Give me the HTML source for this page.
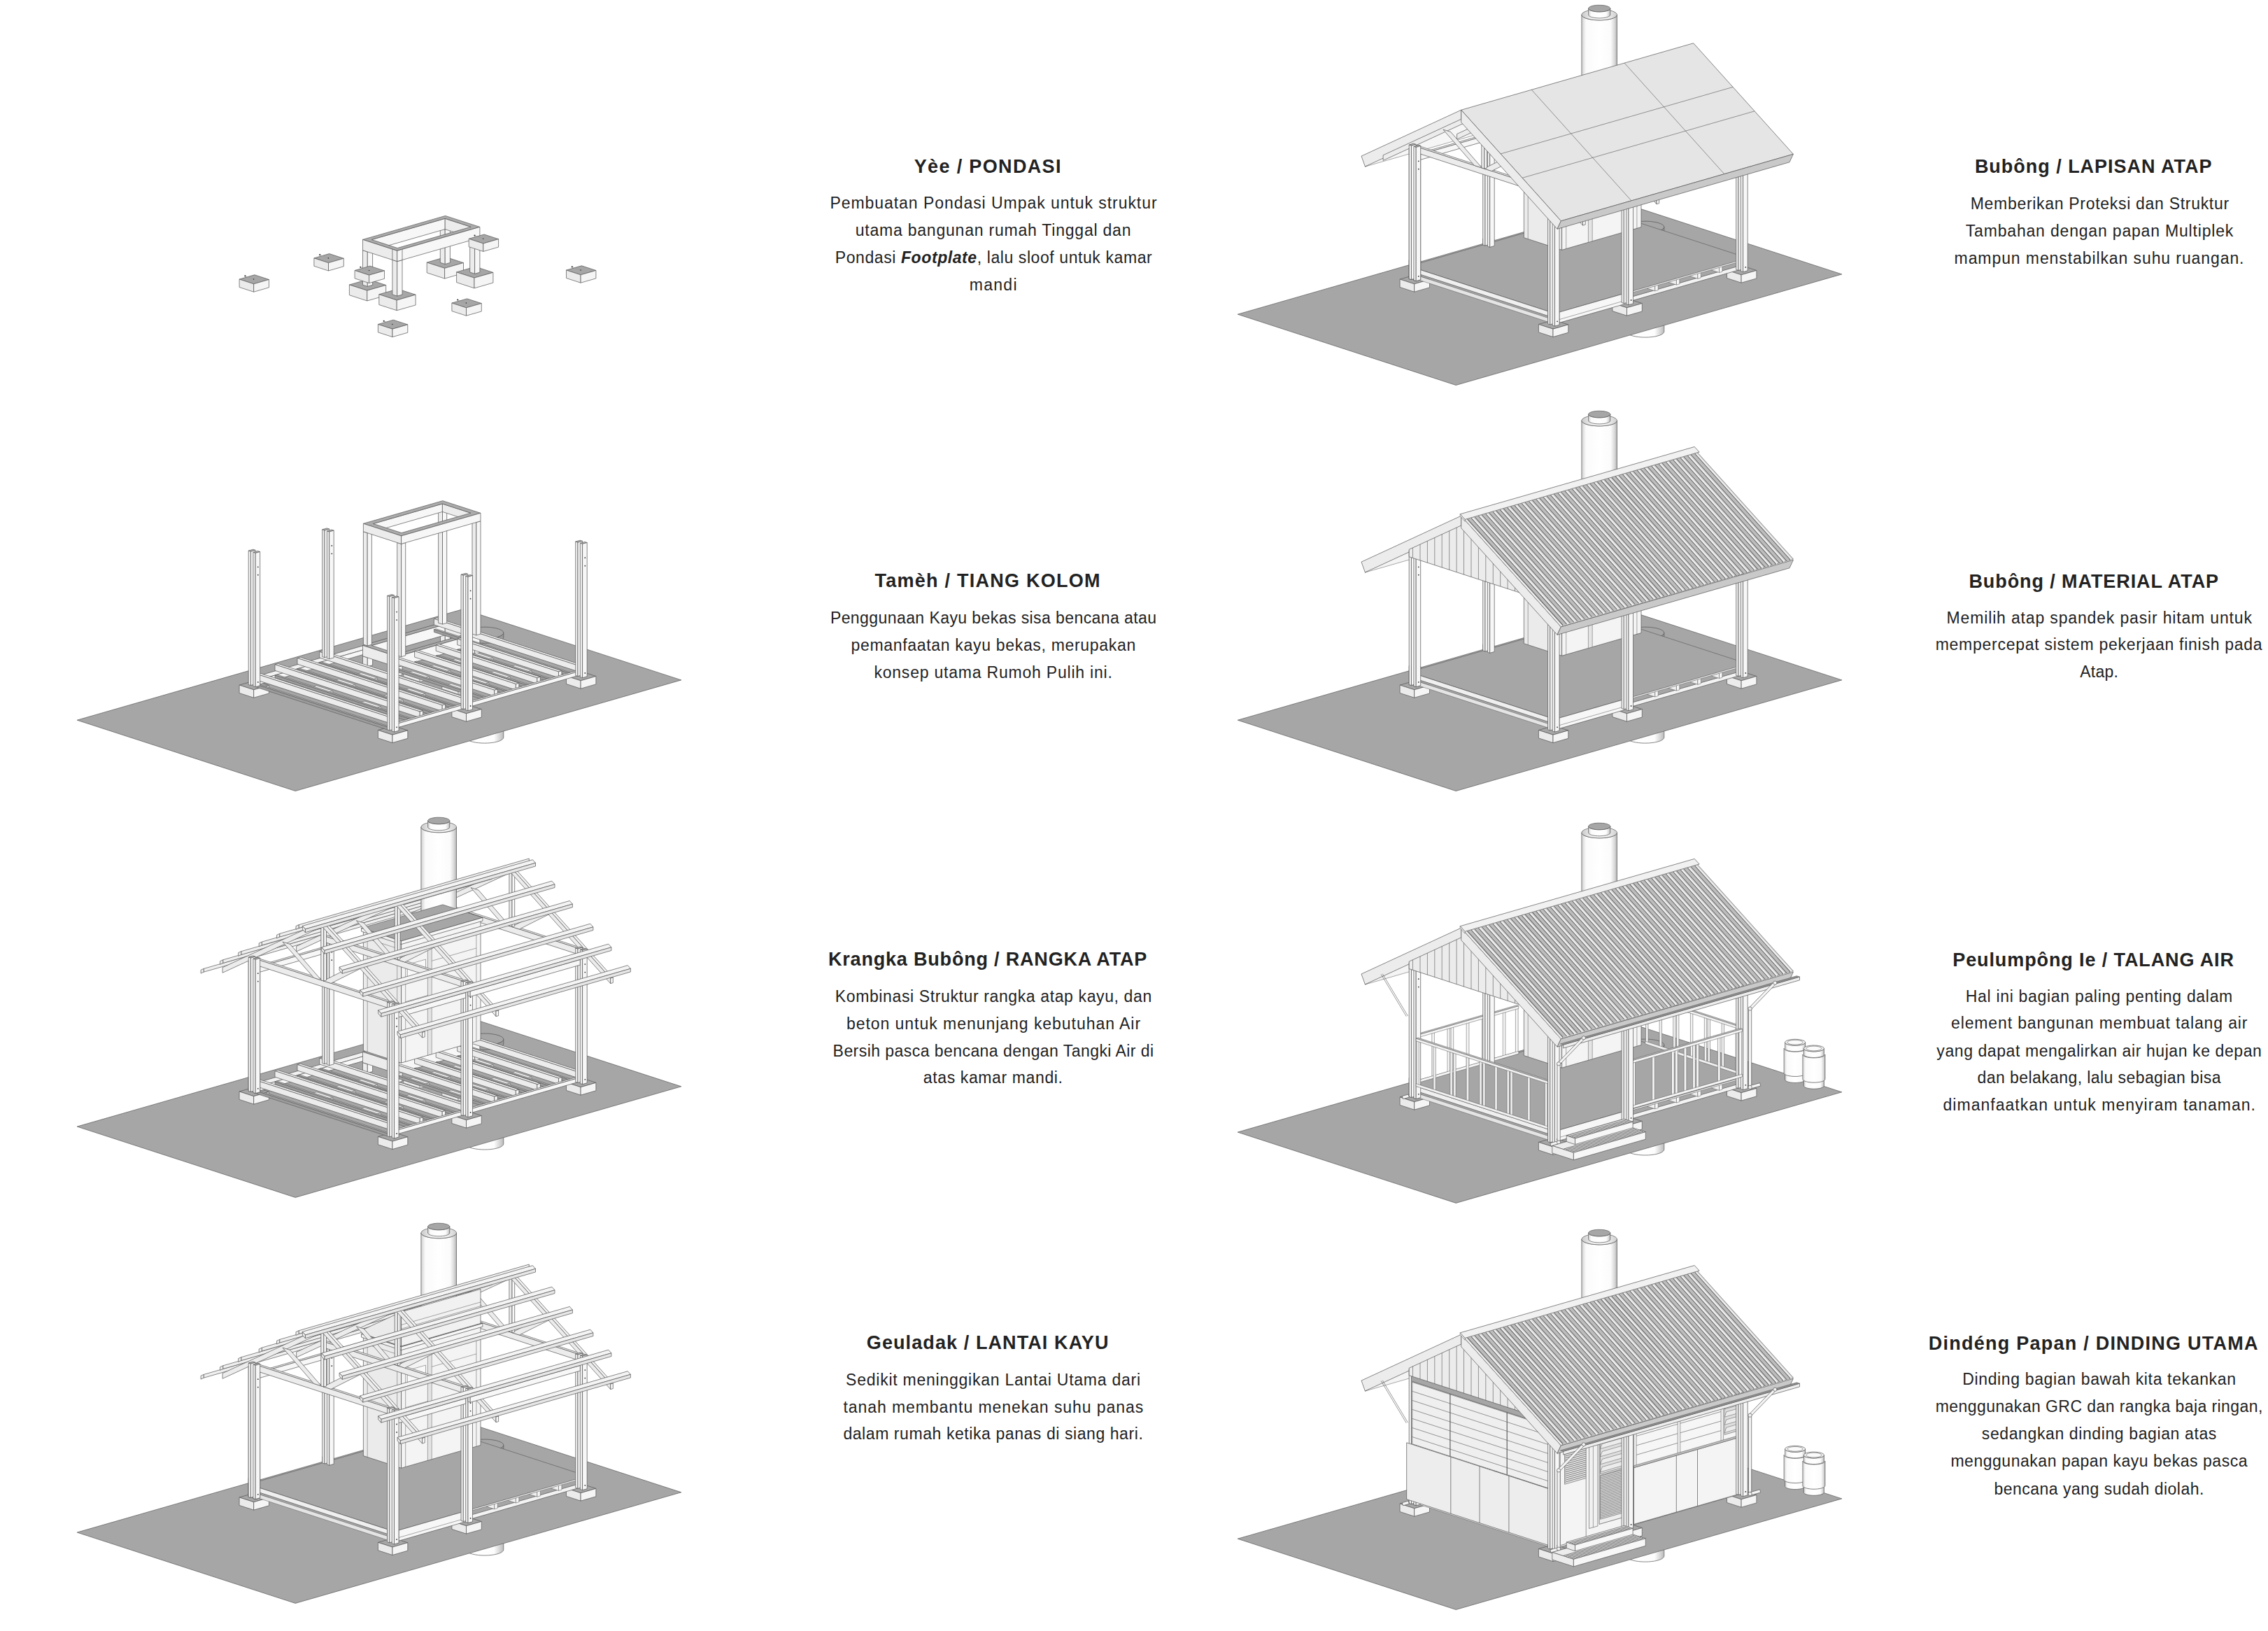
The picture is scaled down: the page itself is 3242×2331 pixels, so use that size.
<!DOCTYPE html><html><head><meta charset="utf-8"><title>Rumoh Pulih</title><style>html,body{margin:0;padding:0;background:#fff}
body{width:3242px;height:2331px;position:relative;overflow:hidden;font-family:"Liberation Sans",sans-serif;color:#222}
span{position:absolute;white-space:nowrap;line-height:1;}
.t{font-size:27px;font-weight:bold}
.b{font-size:23px}</style></head><body><svg width="3242" height="2331" viewBox="0 0 3242 2331" style="position:absolute;left:0;top:0" stroke="#555" stroke-width="0.7" stroke-linejoin="round" fill="none"><defs>
<linearGradient id="cylg" x1="0" x2="1" y1="0" y2="0"><stop offset="0" stop-color="#fff"/><stop offset="0.75" stop-color="#fdfdfd"/><stop offset="1" stop-color="#bbb"/></linearGradient>
<linearGradient id="cylgd" x1="0" x2="1" y1="0" y2="0"><stop offset="0" stop-color="#aaa"/><stop offset="1" stop-color="#999"/></linearGradient>
<linearGradient id="tanktop" x1="0" x2="1" y1="0" y2="0"><stop offset="0" stop-color="#c8c8c8"/><stop offset="0.3" stop-color="#f4f4f4"/><stop offset="0.7" stop-color="#f4f4f4"/><stop offset="1" stop-color="#cfcfcf"/></linearGradient>
<linearGradient id="tank" x1="0" x2="1" y1="0" y2="0"><stop offset="0" stop-color="#cfcfcf"/><stop offset="0.12" stop-color="#fafafa"/><stop offset="0.5" stop-color="#ffffff"/><stop offset="0.82" stop-color="#fbfbfb"/><stop offset="0.93" stop-color="#d9d9d9"/><stop offset="1" stop-color="#b0b0b0"/></linearGradient>
</defs><g id="st1"><polygon points="362.7,405.8 384.5,399.5 363.9,392.8 342.1,399.1" fill="#a6a6a6"/>
<polygon points="362.7,417.2 342.1,410.5 342.1,399.1 362.7,405.8" fill="#ebebeb"/>
<polygon points="362.7,417.2 384.5,410.9 384.5,399.5 362.7,405.8" fill="#f5f5f5"/>
<path d="M350.4 394.4L362.6 399.1" stroke="#999" stroke-width="0.6"/><circle cx="350.4" cy="394.4" r="1.1" fill="#333" stroke="none"/><circle cx="362.6" cy="399.1" r="0.8" fill="#333" stroke="none"/>
<polygon points="469.5,375.6 491.3,369.3 470.7,362.6 448.9,368.9" fill="#a6a6a6"/>
<polygon points="469.5,387 448.9,380.3 448.9,368.9 469.5,375.6" fill="#ebebeb"/>
<polygon points="469.5,387 491.3,380.7 491.3,369.3 469.5,375.6" fill="#f5f5f5"/>
<path d="M457.2 364.2L469.4 368.9" stroke="#999" stroke-width="0.6"/><circle cx="457.2" cy="364.2" r="1.1" fill="#333" stroke="none"/><circle cx="469.4" cy="368.9" r="0.8" fill="#333" stroke="none"/>
<polygon points="635.6,383.3 662.5,375.6 637.1,367.3 610.2,375.1" fill="#a6a6a6"/>
<polygon points="635.6,398.1 610.2,389.8 610.2,375.1 635.6,383.3" fill="#ebebeb"/>
<polygon points="635.6,398.1 662.5,390.3 662.5,375.6 635.6,383.3" fill="#f5f5f5"/>
<polygon points="636.2,377.5 629.3,375.3 629.3,325.8 636.2,328" fill="#ececec"/>
<polygon points="636.2,377.5 643.4,375.4 643.4,325.9 636.2,328" fill="#f7f7f7"/>
<polygon points="524.8,415.2 551.7,407.5 526.3,399.2 499.4,407" fill="#a6a6a6"/>
<polygon points="524.8,430 499.4,421.7 499.4,407 524.8,415.2" fill="#ebebeb"/>
<polygon points="524.8,430 551.7,422.2 551.7,407.5 524.8,415.2" fill="#f5f5f5"/>
<polygon points="525.3,409.4 518.5,407.2 518.5,357.7 525.3,359.9" fill="#ececec"/>
<polygon points="525.3,409.4 532.6,407.3 532.6,357.8 525.3,359.9" fill="#f7f7f7"/>
<polygon points="678,397.1 704.9,389.4 679.5,381.1 652.6,388.9" fill="#a6a6a6"/>
<polygon points="678,411.9 652.6,403.6 652.6,388.9 678,397.1" fill="#ebebeb"/>
<polygon points="678,411.9 704.9,404.1 704.9,389.4 678,397.1" fill="#f5f5f5"/>
<polygon points="678.6,391.3 671.7,389 671.7,339.5 678.6,341.8" fill="#ececec"/>
<polygon points="678.6,391.3 685.9,389.2 685.9,339.7 678.6,341.8" fill="#f7f7f7"/>
<polygon points="531.2,357.8 636.2,327.6 636.2,312.3 531.2,342.5" fill="#f7f7f7"/>
<polygon points="673.1,339.6 636.2,327.6 636.2,312.3 673.1,324.3" fill="#ececec"/>
<path d="M567.7 358.4L685.9 324.4L636.6 308.4L518.5 342.4ZM568.1 354.5L531.2 342.5L636.2 312.3L673.1 324.3Z" fill="#ababab" fill-rule="evenodd"/>
<polygon points="567.7,373.6 518.5,357.7 518.5,342.4 567.7,358.4" fill="#ececec"/>
<polygon points="567.7,373.6 685.9,339.7 685.9,324.4 567.7,358.4" fill="#f7f7f7"/>
<polygon points="690.8,348 712.6,341.7 692,335 670.2,341.3" fill="#a6a6a6"/>
<polygon points="690.8,359.4 670.2,352.7 670.2,341.3 690.8,348" fill="#ebebeb"/>
<polygon points="690.8,359.4 712.6,353.1 712.6,341.7 690.8,348" fill="#f5f5f5"/>
<path d="M678.5 336.6L690.7 341.3" stroke="#999" stroke-width="0.6"/><circle cx="678.5" cy="336.6" r="1.1" fill="#333" stroke="none"/><circle cx="690.7" cy="341.3" r="0.8" fill="#333" stroke="none"/>
<polygon points="527.6,393.2 549.5,386.9 528.9,380.2 507.1,386.5" fill="#a6a6a6"/>
<polygon points="527.6,404.6 507.1,397.9 507.1,386.5 527.6,393.2" fill="#ebebeb"/>
<polygon points="527.6,404.6 549.5,398.3 549.5,386.9 527.6,393.2" fill="#f5f5f5"/>
<path d="M515.3 381.8L527.6 386.5" stroke="#999" stroke-width="0.6"/><circle cx="515.3" cy="381.8" r="1.1" fill="#333" stroke="none"/><circle cx="527.6" cy="386.5" r="0.8" fill="#333" stroke="none"/>
<polygon points="567.2,429 594.1,421.2 568.7,413 541.8,420.7" fill="#a6a6a6"/>
<polygon points="567.2,443.7 541.8,435.5 541.8,420.7 567.2,429" fill="#ebebeb"/>
<polygon points="567.2,443.7 594.1,436 594.1,421.2 567.2,429" fill="#f5f5f5"/>
<polygon points="567.7,423.1 560.9,420.9 560.9,371.4 567.7,373.6" fill="#ececec"/>
<polygon points="567.7,423.1 575,421.1 575,371.6 567.7,373.6" fill="#f7f7f7"/>
<polygon points="567.7,373.6 560.9,371.4 560.9,356.2 567.7,358.4" fill="#ececec"/>
<polygon points="567.7,373.6 575,371.6 575,356.3 567.7,358.4" fill="#f7f7f7"/>
<polygon points="830.1,392.8 851.9,386.5 831.4,379.8 809.5,386.1" fill="#a6a6a6"/>
<polygon points="830.1,404.2 809.5,397.5 809.5,386.1 830.1,392.8" fill="#ebebeb"/>
<polygon points="830.1,404.2 851.9,397.9 851.9,386.5 830.1,392.8" fill="#f5f5f5"/>
<path d="M817.8 381.4L830.1 386.1" stroke="#999" stroke-width="0.6"/><circle cx="817.8" cy="381.4" r="1.1" fill="#333" stroke="none"/><circle cx="830.1" cy="386.1" r="0.8" fill="#333" stroke="none"/>
<polygon points="666.5,439.8 688.3,433.6 667.7,426.9 645.9,433.1" fill="#a6a6a6"/>
<polygon points="666.5,451.2 645.9,444.6 645.9,433.1 666.5,439.8" fill="#ebebeb"/>
<polygon points="666.5,451.2 688.3,445 688.3,433.6 666.5,439.8" fill="#f5f5f5"/>
<path d="M654.2 428.5L666.4 433.1" stroke="#999" stroke-width="0.6"/><circle cx="654.2" cy="428.5" r="1.1" fill="#333" stroke="none"/><circle cx="666.4" cy="433.1" r="0.8" fill="#333" stroke="none"/>
<polygon points="561,470.2 582.8,463.9 562.2,457.2 540.4,463.5" fill="#a6a6a6"/>
<polygon points="561,481.6 540.4,474.9 540.4,463.5 561,470.2" fill="#ebebeb"/>
<polygon points="561,481.6 582.8,475.3 582.8,463.9 561,470.2" fill="#f5f5f5"/>
<path d="M548.7 458.8L560.9 463.5" stroke="#999" stroke-width="0.6"/><circle cx="548.7" cy="458.8" r="1.1" fill="#333" stroke="none"/><circle cx="560.9" cy="463.5" r="0.8" fill="#333" stroke="none"/></g>
<g id="st2"><polygon points="665.8,1053.8 666.2,1055.3 667.4,1056.7 669.4,1058 672.1,1059.2 675.4,1060.2 679.3,1061 683.5,1061.6 688.1,1062 692.8,1062.1 697.5,1062 702,1061.6 706.3,1061 710.1,1060.2 713.5,1059.2 716.2,1058 718.1,1056.7 719.4,1055.3 719.8,1053.9 719.8,911.1 719.4,912.5 718.1,913.9 716.2,915.2 713.5,916.4 710.1,917.4 706.3,918.2 702,918.8 697.5,919.2 692.8,919.3 688.1,919.2 683.5,918.8 679.3,918.2 675.4,917.4 672.1,916.4 669.4,915.2 667.4,913.9 666.2,912.5 665.8,911.1" fill="url(#cylg)"/>
<polygon points="422.2,1130.5 973.8,971.9 661.8,870.6 110.2,1029.2" fill="#a6a6a6" stroke="#666" stroke-width="0.8"/>
<polygon points="665.8,911.1 666.2,912.5 667.4,913.9 669.4,915.2 672.1,916.4 675.4,917.4 679.3,918.2 683.5,918.8 688.1,919.2 692.8,919.3 697.5,919.2 702,918.8 706.3,918.2 710.1,917.4 713.5,916.4 716.2,915.2 718.1,913.9 719.4,912.5 719.8,911.1 719.8,904.4 719.4,905.9 718.1,907.3 716.2,908.6 713.5,909.7 710.1,910.8 706.3,911.6 702,912.2 697.5,912.5 692.8,912.7 688.1,912.5 683.5,912.2 679.3,911.6 675.4,910.7 672.1,909.7 669.4,908.5 667.4,907.2 666.2,905.8 665.8,904.4" fill="url(#cylgd)"/>
<polygon points="712.4,898.8 708.9,897.8 704.9,897.1 700.5,896.5 695.9,896.2 691.2,896.2 686.6,896.4 682.1,896.8 677.9,897.5 674.3,898.4 671.1,899.5 668.7,900.7 666.9,902 666,903.4 665.8,904.9 666.5,906.3 668,907.7 670.2,908.9 673.1,910.1 676.7,911 680.7,911.8 685,912.3 689.6,912.6 694.3,912.7 699,912.5 703.5,912 707.6,911.3 711.3,910.4 714.4,909.4 716.9,908.1 718.6,906.8 719.6,905.4 719.7,904 719.1,902.5 717.6,901.2 715.3,899.9" fill="#a6a6a6"/>
<polygon points="362.7,985.8 384.5,979.5 363.9,972.8 342.1,979.1" fill="#a6a6a6"/>
<polygon points="362.7,997.2 342.1,990.5 342.1,979.1 362.7,985.8" fill="#ebebeb"/>
<polygon points="362.7,997.2 384.5,990.9 384.5,979.5 362.7,985.8" fill="#f5f5f5"/>
<polygon points="830.1,972.8 851.9,966.5 831.4,959.8 809.5,966.1" fill="#a6a6a6"/>
<polygon points="830.1,984.2 809.5,977.5 809.5,966.1 830.1,972.8" fill="#ebebeb"/>
<polygon points="830.1,984.2 851.9,977.9 851.9,966.5 830.1,972.8" fill="#f5f5f5"/>
<polygon points="666.5,1019.8 688.3,1013.6 667.7,1006.9 645.9,1013.1" fill="#a6a6a6"/>
<polygon points="666.5,1031.2 645.9,1024.6 645.9,1013.1 666.5,1019.8" fill="#ebebeb"/>
<polygon points="666.5,1031.2 688.3,1025 688.3,1013.6 666.5,1019.8" fill="#f5f5f5"/>
<polygon points="561,1050.2 582.8,1043.9 562.2,1037.2 540.4,1043.5" fill="#a6a6a6"/>
<polygon points="561,1061.6 540.4,1054.9 540.4,1043.5 561,1050.2" fill="#ebebeb"/>
<polygon points="561,1061.6 582.8,1055.3 582.8,1043.9 561,1050.2" fill="#f5f5f5"/>
<polygon points="371.7,971.2 634.3,895.7 624.4,892.5 361.8,968" fill="#f2f2f2"/>
<polygon points="371.7,977.9 361.8,974.7 361.8,968 371.7,971.2" fill="#ececec"/>
<polygon points="371.7,977.9 634.3,902.4 634.3,895.7 371.7,971.2" fill="#f7f7f7"/>
<polygon points="636.3,920.8 629.5,918.6 629.5,905.7 636.3,908" fill="#ececec"/>
<polygon points="636.3,920.8 643.6,918.7 643.6,905.9 636.3,908" fill="#f7f7f7"/>
<polygon points="525.3,952.7 518.5,950.5 518.5,937.7 525.3,939.9" fill="#ececec"/>
<polygon points="525.3,952.7 532.6,950.6 532.6,937.8 525.3,939.9" fill="#f7f7f7"/>
<polygon points="678.7,934.6 671.9,932.3 671.9,919.5 678.7,921.7" fill="#ececec"/>
<polygon points="678.7,934.6 686,932.5 686,919.6 678.7,921.7" fill="#f7f7f7"/>
<polygon points="567.7,966.5 560.9,964.3 560.9,951.4 567.7,953.6" fill="#ececec"/>
<polygon points="567.7,966.5 575,964.4 575,951.6 567.7,953.6" fill="#f7f7f7"/>
<polygon points="531.2,937.8 636.2,907.6 636.2,892.3 531.2,922.5" fill="#f7f7f7"/>
<polygon points="673.1,919.6 636.2,907.6 636.2,892.3 673.1,904.3" fill="#ececec"/>
<path d="M567.7 938.4L685.9 904.4L636.6 888.4L518.5 922.4ZM568.1 934.5L531.2 922.5L636.2 892.3L673.1 904.3Z" fill="#ababab" fill-rule="evenodd"/>
<polygon points="567.7,953.6 518.5,937.7 518.5,922.4 567.7,938.4" fill="#ececec"/>
<polygon points="567.7,953.6 685.9,919.7 685.9,904.4 567.7,938.4" fill="#f7f7f7"/>
<polygon points="746.8,962.1 759.9,958.3 736.5,950.7 723.4,954.5" fill="#f2f2f2" stroke-width="0.5"/>
<polygon points="746.8,965.9 723.4,958.3 723.4,954.5 746.8,962.1" fill="#ececec" stroke-width="0.5"/>
<polygon points="746.8,965.9 759.9,962.1 759.9,958.3 746.8,962.1" fill="#f7f7f7" stroke-width="0.5"/>
<polygon points="691.9,944.2 705,940.5 681.6,932.9 668.6,936.7" fill="#f2f2f2" stroke-width="0.5"/>
<polygon points="691.9,948 668.6,940.5 668.6,936.7 691.9,944.2" fill="#ececec" stroke-width="0.5"/>
<polygon points="691.9,948 705,944.3 705,940.5 691.9,944.2" fill="#f7f7f7" stroke-width="0.5"/>
<polygon points="716.2,970.8 729.3,967.1 706,959.5 692.9,963.3" fill="#f2f2f2" stroke-width="0.5"/>
<polygon points="716.2,974.6 692.9,967.1 692.9,963.3 716.2,970.8" fill="#ececec" stroke-width="0.5"/>
<polygon points="716.2,974.6 729.3,970.9 729.3,967.1 716.2,970.8" fill="#f7f7f7" stroke-width="0.5"/>
<polygon points="661.3,953 674.4,949.2 651.1,941.7 638,945.4" fill="#f2f2f2" stroke-width="0.5"/>
<polygon points="661.3,956.8 638,949.2 638,945.4 661.3,953" fill="#ececec" stroke-width="0.5"/>
<polygon points="661.3,956.8 674.4,953.1 674.4,949.2 661.3,953" fill="#f7f7f7" stroke-width="0.5"/>
<polygon points="685.7,979.6 698.8,975.9 675.4,968.3 662.3,972" fill="#f2f2f2" stroke-width="0.5"/>
<polygon points="685.7,983.4 662.3,975.9 662.3,972 685.7,979.6" fill="#ececec" stroke-width="0.5"/>
<polygon points="685.7,983.4 698.8,979.7 698.8,975.9 685.7,979.6" fill="#f7f7f7" stroke-width="0.5"/>
<polygon points="630.8,961.8 643.9,958 620.5,950.5 607.5,954.2" fill="#f2f2f2" stroke-width="0.5"/>
<polygon points="630.8,965.6 607.5,958 607.5,954.2 630.8,961.8" fill="#ececec" stroke-width="0.5"/>
<polygon points="630.8,965.6 643.9,961.8 643.9,958 630.8,961.8" fill="#f7f7f7" stroke-width="0.5"/>
<polygon points="655.1,988.4 668.2,984.6 644.9,977.1 631.8,980.8" fill="#f2f2f2" stroke-width="0.5"/>
<polygon points="655.1,992.2 631.8,984.6 631.8,980.8 655.1,988.4" fill="#ececec" stroke-width="0.5"/>
<polygon points="655.1,992.2 668.2,988.5 668.2,984.6 655.1,988.4" fill="#f7f7f7" stroke-width="0.5"/>
<polygon points="600.2,970.6 613.3,966.8 590,959.2 576.9,963" fill="#f2f2f2" stroke-width="0.5"/>
<polygon points="600.2,974.4 576.9,966.8 576.9,963 600.2,970.6" fill="#ececec" stroke-width="0.5"/>
<polygon points="600.2,974.4 613.3,970.6 613.3,966.8 600.2,970.6" fill="#f7f7f7" stroke-width="0.5"/>
<polygon points="595.1,995.2 608.1,991.4 584.8,983.8 571.7,987.6" fill="#f2f2f2" stroke-width="0.5"/>
<polygon points="595.1,999 571.7,991.4 571.7,987.6 595.1,995.2" fill="#ececec" stroke-width="0.5"/>
<polygon points="595.1,999 608.1,995.2 608.1,991.4 595.1,995.2" fill="#f7f7f7" stroke-width="0.5"/>
<polygon points="526.4,972.9 539.5,969.1 516.2,961.6 503.1,965.3" fill="#f2f2f2" stroke-width="0.5"/>
<polygon points="526.4,976.7 503.1,969.1 503.1,965.3 526.4,972.9" fill="#ececec" stroke-width="0.5"/>
<polygon points="526.4,976.7 539.5,972.9 539.5,969.1 526.4,972.9" fill="#f7f7f7" stroke-width="0.5"/>
<polygon points="563.3,1004.3 576.4,1000.5 553.1,993 540,996.7" fill="#f2f2f2" stroke-width="0.5"/>
<polygon points="563.3,1008.1 540,1000.5 540,996.7 563.3,1004.3" fill="#ececec" stroke-width="0.5"/>
<polygon points="563.3,1008.1 576.4,1004.3 576.4,1000.5 563.3,1004.3" fill="#f7f7f7" stroke-width="0.5"/>
<polygon points="494.7,982 507.8,978.3 484.5,970.7 471.4,974.4" fill="#f2f2f2" stroke-width="0.5"/>
<polygon points="494.7,985.8 471.4,978.3 471.4,974.4 494.7,982" fill="#ececec" stroke-width="0.5"/>
<polygon points="494.7,985.8 507.8,982.1 507.8,978.3 494.7,982" fill="#f7f7f7" stroke-width="0.5"/>
<polygon points="531.3,1013.5 544.4,1009.7 521.1,1002.2 508,1005.9" fill="#f2f2f2" stroke-width="0.5"/>
<polygon points="531.3,1017.3 508,1009.7 508,1005.9 531.3,1013.5" fill="#ececec" stroke-width="0.5"/>
<polygon points="531.3,1017.3 544.4,1013.6 544.4,1009.7 531.3,1013.5" fill="#f7f7f7" stroke-width="0.5"/>
<polygon points="462.7,991.2 475.8,987.5 452.5,979.9 439.4,983.7" fill="#f2f2f2" stroke-width="0.5"/>
<polygon points="462.7,995 439.4,987.5 439.4,983.7 462.7,991.2" fill="#ececec" stroke-width="0.5"/>
<polygon points="462.7,995 475.8,991.3 475.8,987.5 462.7,991.2" fill="#f7f7f7" stroke-width="0.5"/>
<polygon points="817.3,963.5 820.2,962.7 623.3,898.7 620.4,899.6" fill="#b9b9b9" stroke-width="0.6"/>
<polygon points="817.3,967.3 620.4,903.4 620.4,899.6 817.3,963.5" fill="#9c9c9c" stroke-width="0.6"/>
<polygon points="788.2,971.9 791.1,971 656.6,927.4 653.7,928.2" fill="#b9b9b9" stroke-width="0.6"/>
<polygon points="788.2,975.7 653.7,932 653.7,928.2 788.2,971.9" fill="#9c9c9c" stroke-width="0.6"/>
<polygon points="757.6,980.7 760.6,979.8 626.1,936.2 623.2,937" fill="#b9b9b9" stroke-width="0.6"/>
<polygon points="757.6,984.5 623.2,940.8 623.2,937 757.6,980.7" fill="#9c9c9c" stroke-width="0.6"/>
<polygon points="727.1,989.4 730,988.6 595.5,944.9 592.6,945.8" fill="#b9b9b9" stroke-width="0.6"/>
<polygon points="727.1,993.3 592.6,949.6 592.6,945.8 727.1,989.4" fill="#9c9c9c" stroke-width="0.6"/>
<polygon points="696.5,998.2 699.5,997.4 565,953.7 562.1,954.6" fill="#b9b9b9" stroke-width="0.6"/>
<polygon points="696.5,1002 562.1,958.4 562.1,954.6 696.5,998.2" fill="#9c9c9c" stroke-width="0.6"/>
<polygon points="653.6,1010.6 656.5,1009.7 459.6,945.8 456.7,946.6" fill="#b9b9b9" stroke-width="0.6"/>
<polygon points="653.6,1014.4 456.7,950.4 456.7,946.6 653.6,1010.6" fill="#9c9c9c" stroke-width="0.6"/>
<polygon points="621.9,1019.7 624.8,1018.9 427.9,954.9 425,955.8" fill="#b9b9b9" stroke-width="0.6"/>
<polygon points="621.9,1023.5 425,959.6 425,955.8 621.9,1019.7" fill="#9c9c9c" stroke-width="0.6"/>
<polygon points="589.9,1028.9 592.8,1028.1 395.9,964.1 393,965" fill="#b9b9b9" stroke-width="0.6"/>
<polygon points="589.9,1032.7 393,968.8 393,965 589.9,1028.9" fill="#9c9c9c" stroke-width="0.6"/>
<polygon points="554,1039.2 556.9,1038.4 369.6,977.6 366.6,978.4" fill="#b9b9b9" stroke-width="0.6"/>
<polygon points="554,1043 366.6,982.2 366.6,978.4 554,1039.2" fill="#9c9c9c" stroke-width="0.6"/>
<polygon points="827.6,951.6 832,950.4 624.7,883.1 620.4,884.3" fill="#f2f2f2"/>
<polygon points="827.6,960.2 620.4,892.9 620.4,884.3 827.6,951.6" fill="#ececec"/>
<polygon points="827.6,960.2 832,958.9 832,950.4 827.6,951.6" fill="#f7f7f7"/>
<polygon points="798.5,960 802.9,958.7 658.1,911.7 653.7,913" fill="#f2f2f2"/>
<polygon points="798.5,968.6 653.7,921.5 653.7,913 798.5,960" fill="#ececec"/>
<polygon points="798.5,968.6 802.9,967.3 802.9,958.7 798.5,960" fill="#f7f7f7"/>
<polygon points="767.9,968.8 772.3,967.5 627.5,920.5 623.2,921.8" fill="#f2f2f2"/>
<polygon points="767.9,977.3 623.2,930.3 623.2,921.8 767.9,968.8" fill="#ececec"/>
<polygon points="767.9,977.3 772.3,976.1 772.3,967.5 767.9,968.8" fill="#f7f7f7"/>
<polygon points="737.4,977.6 741.8,976.3 597,929.3 592.6,930.5" fill="#f2f2f2"/>
<polygon points="737.4,986.1 592.6,939.1 592.6,930.5 737.4,977.6" fill="#ececec"/>
<polygon points="737.4,986.1 741.8,984.9 741.8,976.3 737.4,977.6" fill="#f7f7f7"/>
<polygon points="706.8,986.3 711.2,985.1 566.4,938.1 562.1,939.3" fill="#f2f2f2"/>
<polygon points="706.8,994.9 562.1,947.9 562.1,939.3 706.8,986.3" fill="#ececec"/>
<polygon points="706.8,994.9 711.2,993.7 711.2,985.1 706.8,986.3" fill="#f7f7f7"/>
<polygon points="663.9,998.7 668.3,997.4 461.1,930.1 456.7,931.4" fill="#f2f2f2"/>
<polygon points="663.9,1007.3 456.7,940 456.7,931.4 663.9,998.7" fill="#ececec"/>
<polygon points="663.9,1007.3 668.3,1006 668.3,997.4 663.9,998.7" fill="#f7f7f7"/>
<polygon points="632.2,1007.8 636.6,1006.6 429.3,939.3 425,940.5" fill="#f2f2f2"/>
<polygon points="632.2,1016.4 425,949.1 425,940.5 632.2,1007.8" fill="#ececec"/>
<polygon points="632.2,1016.4 636.6,1015.1 636.6,1006.6 632.2,1007.8" fill="#f7f7f7"/>
<polygon points="600.2,1017 604.6,1015.8 397.3,948.5 393,949.7" fill="#f2f2f2"/>
<polygon points="600.2,1025.6 393,958.3 393,949.7 600.2,1017" fill="#ececec"/>
<polygon points="600.2,1025.6 604.6,1024.3 604.6,1015.8 600.2,1017" fill="#f7f7f7"/>
<polygon points="555,1024.3 559.4,1023.1 371,961.9 366.6,963.2" fill="#f2f2f2"/>
<polygon points="555,1032.9 366.6,971.8 366.6,963.2 555,1024.3" fill="#ececec"/>
<polygon points="555,1032.9 559.4,1031.7 559.4,1023.1 555,1024.3" fill="#f7f7f7"/>
<polygon points="566.8,1034.6 829.3,959 826,957.9 563.4,1033.5" fill="#f2f2f2"/>
<polygon points="566.8,1040.3 563.4,1039.2 563.4,1033.5 566.8,1034.6" fill="#ececec"/>
<polygon points="566.8,1040.3 829.3,964.7 829.3,959 566.8,1034.6" fill="#f7f7f7"/>
<polygon points="464,757.9 470.6,756 467.3,754.9 460.7,756.8" fill="#bdbdbd"/>
<polygon points="464,939.7 460.7,938.6 460.7,756.8 464,757.9" fill="#efefef"/>
<polygon points="464,939.7 470.6,937.8 470.6,756 464,757.9" fill="#f7f7f7"/>
<polygon points="470.7,760 477.2,758.1 473.9,757.1 467.4,759" fill="#bdbdbd"/>
<polygon points="470.7,941.8 467.4,940.8 467.4,759 470.7,760" fill="#efefef"/>
<polygon points="470.7,941.8 477.2,940 477.2,758.1 470.7,760" fill="#f7f7f7"/>
<circle cx="474.3" cy="779.9" r="0.9" fill="#333" stroke="none"/>
<circle cx="474.3" cy="791.3" r="0.9" fill="#333" stroke="none"/>
<polygon points="358.5,788.2 365.1,786.3 361.8,785.2 355.2,787.1" fill="#bdbdbd"/>
<polygon points="358.5,979.5 355.2,978.5 355.2,787.1 358.5,788.2" fill="#efefef"/>
<polygon points="358.5,979.5 365.1,977.6 365.1,786.3 358.5,788.2" fill="#f7f7f7"/>
<polygon points="365.2,790.4 371.7,788.5 368.4,787.4 361.9,789.3" fill="#bdbdbd"/>
<polygon points="365.2,981.7 361.9,980.6 361.9,789.3 365.2,790.4" fill="#efefef"/>
<polygon points="365.2,981.7 371.7,979.8 371.7,788.5 365.2,790.4" fill="#f7f7f7"/>
<circle cx="368.8" cy="810.3" r="0.9" fill="#333" stroke="none"/>
<circle cx="368.8" cy="821.7" r="0.9" fill="#333" stroke="none"/>
<circle cx="368.8" cy="974.9" r="0.9" fill="#333" stroke="none"/>
<polygon points="632.5,892.1 626.6,890.3 626.6,728.9 632.5,730.8" fill="#ececec"/>
<polygon points="632.5,892.1 638.7,890.4 638.7,729 632.5,730.8" fill="#f7f7f7"/>
<polygon points="525.2,923 519.4,921.1 519.4,759.8 525.2,761.7" fill="#ececec"/>
<polygon points="525.2,923 531.4,921.2 531.4,759.9 525.2,761.7" fill="#f7f7f7"/>
<polygon points="680.9,907.9 675,906 675,744.6 680.9,746.5" fill="#ececec"/>
<polygon points="680.9,907.9 687,906.1 687,744.7 680.9,746.5" fill="#f7f7f7"/>
<polygon points="573.6,938.7 567.7,936.8 567.7,775.5 573.6,777.4" fill="#ececec"/>
<polygon points="573.6,938.7 579.7,936.9 579.7,775.6 573.6,777.4" fill="#f7f7f7"/>
<polygon points="533.5,759.9 632.4,731.4 632.4,720 533.5,748.5" fill="#f7f7f7"/>
<polygon points="672.9,744.6 632.4,731.4 632.4,720 672.9,733.2" fill="#ececec"/>
<path d="M573.6 765.9L687 733.3L632.8 715.7L519.4 748.3ZM574 761.6L533.5 748.5L632.4 720L672.9 733.2Z" fill="#ababab" fill-rule="evenodd"/>
<polygon points="573.6,777.4 519.4,759.8 519.4,748.3 573.6,765.9" fill="#ececec"/>
<polygon points="573.6,777.4 687,744.7 687,733.3 573.6,765.9" fill="#f7f7f7"/>
<polygon points="826,775.2 832.5,773.3 829.2,772.2 822.7,774.1" fill="#bdbdbd"/>
<polygon points="826,966.5 822.7,965.4 822.7,774.1 826,775.2" fill="#efefef"/>
<polygon points="826,966.5 832.5,964.6 832.5,773.3 826,775.2" fill="#f7f7f7"/>
<polygon points="832.6,777.3 839.2,775.5 835.9,774.4 829.3,776.3" fill="#bdbdbd"/>
<polygon points="832.6,968.7 829.3,967.6 829.3,776.3 832.6,777.3" fill="#efefef"/>
<polygon points="832.6,968.7 839.2,966.8 839.2,775.5 832.6,777.3" fill="#f7f7f7"/>
<circle cx="836.3" cy="797.2" r="0.9" fill="#333" stroke="none"/>
<circle cx="836.3" cy="808.7" r="0.9" fill="#333" stroke="none"/>
<circle cx="836.3" cy="961.9" r="0.9" fill="#333" stroke="none"/>
<polygon points="662.3,822.3 668.9,820.4 665.6,819.3 659,821.2" fill="#bdbdbd"/>
<polygon points="662.3,1013.6 659,1012.5 659,821.2 662.3,822.3" fill="#efefef"/>
<polygon points="662.3,1013.6 668.9,1011.7 668.9,820.4 662.3,822.3" fill="#f7f7f7"/>
<polygon points="669,824.4 675.5,822.5 672.2,821.5 665.7,823.3" fill="#bdbdbd"/>
<polygon points="669,1015.7 665.7,1014.7 665.7,823.3 669,824.4" fill="#efefef"/>
<polygon points="669,1015.7 675.5,1013.9 675.5,822.5 669,824.4" fill="#f7f7f7"/>
<circle cx="672.6" cy="844.3" r="0.9" fill="#333" stroke="none"/>
<circle cx="672.6" cy="855.7" r="0.9" fill="#333" stroke="none"/>
<circle cx="672.6" cy="1009.0" r="0.9" fill="#333" stroke="none"/>
<polygon points="556.8,852.6 563.4,850.7 560.1,849.6 553.6,851.5" fill="#bdbdbd"/>
<polygon points="556.8,1043.9 553.6,1042.8 553.6,851.5 556.8,852.6" fill="#efefef"/>
<polygon points="556.8,1043.9 563.4,1042 563.4,850.7 556.8,852.6" fill="#f7f7f7"/>
<polygon points="563.5,854.7 570,852.9 566.8,851.8 560.2,853.7" fill="#bdbdbd"/>
<polygon points="563.5,1046.1 560.2,1045 560.2,853.7 563.5,854.7" fill="#efefef"/>
<polygon points="563.5,1046.1 570,1044.2 570,852.9 563.5,854.7" fill="#f7f7f7"/>
<circle cx="567.1" cy="874.6" r="0.9" fill="#333" stroke="none"/>
<circle cx="567.1" cy="886.1" r="0.9" fill="#333" stroke="none"/>
<circle cx="567.1" cy="1039.3" r="0.9" fill="#333" stroke="none"/></g>
<g id="st3"><polygon points="665.8,1634.7 666.2,1636.2 667.4,1637.6 669.4,1638.9 672.1,1640.1 675.4,1641.1 679.3,1641.9 683.5,1642.5 688.1,1642.9 692.8,1643 697.5,1642.9 702,1642.5 706.3,1641.9 710.1,1641.1 713.5,1640.1 716.2,1638.9 718.1,1637.6 719.4,1636.2 719.8,1634.8 719.8,1492 719.4,1493.4 718.1,1494.8 716.2,1496.1 713.5,1497.3 710.1,1498.3 706.3,1499.1 702,1499.7 697.5,1500.1 692.8,1500.2 688.1,1500.1 683.5,1499.7 679.3,1499.1 675.4,1498.3 672.1,1497.3 669.4,1496.1 667.4,1494.8 666.2,1493.4 665.8,1492" fill="url(#cylg)"/>
<polygon points="422.2,1711.4 973.8,1552.8 661.8,1451.5 110.2,1610.1" fill="#a6a6a6" stroke="#666" stroke-width="0.8"/>
<polygon points="665.8,1492 666.2,1493.4 667.4,1494.8 669.4,1496.1 672.1,1497.3 675.4,1498.3 679.3,1499.1 683.5,1499.7 688.1,1500.1 692.8,1500.2 697.5,1500.1 702,1499.7 706.3,1499.1 710.1,1498.3 713.5,1497.3 716.2,1496.1 718.1,1494.8 719.4,1493.4 719.8,1492 719.8,1485.3 719.4,1486.8 718.1,1488.2 716.2,1489.5 713.5,1490.6 710.1,1491.7 706.3,1492.5 702,1493.1 697.5,1493.4 692.8,1493.6 688.1,1493.4 683.5,1493.1 679.3,1492.5 675.4,1491.6 672.1,1490.6 669.4,1489.4 667.4,1488.1 666.2,1486.7 665.8,1485.3" fill="url(#cylgd)"/>
<polygon points="712.4,1479.7 708.9,1478.7 704.9,1478 700.5,1477.4 695.9,1477.1 691.2,1477.1 686.6,1477.3 682.1,1477.7 677.9,1478.4 674.3,1479.3 671.1,1480.4 668.7,1481.6 666.9,1482.9 666,1484.3 665.8,1485.8 666.5,1487.2 668,1488.6 670.2,1489.8 673.1,1491 676.7,1491.9 680.7,1492.7 685,1493.2 689.6,1493.5 694.3,1493.6 699,1493.4 703.5,1492.9 707.6,1492.2 711.3,1491.3 714.4,1490.3 716.9,1489 718.6,1487.7 719.6,1486.3 719.7,1484.9 719.1,1483.4 717.6,1482.1 715.3,1480.8" fill="#a6a6a6"/>
<polygon points="362.7,1566.7 384.5,1560.4 363.9,1553.7 342.1,1560" fill="#a6a6a6"/>
<polygon points="362.7,1578.1 342.1,1571.4 342.1,1560 362.7,1566.7" fill="#ebebeb"/>
<polygon points="362.7,1578.1 384.5,1571.8 384.5,1560.4 362.7,1566.7" fill="#f5f5f5"/>
<polygon points="830.1,1553.7 851.9,1547.4 831.4,1540.7 809.5,1547" fill="#a6a6a6"/>
<polygon points="830.1,1565.1 809.5,1558.4 809.5,1547 830.1,1553.7" fill="#ebebeb"/>
<polygon points="830.1,1565.1 851.9,1558.8 851.9,1547.4 830.1,1553.7" fill="#f5f5f5"/>
<polygon points="666.5,1600.7 688.3,1594.5 667.7,1587.8 645.9,1594" fill="#a6a6a6"/>
<polygon points="666.5,1612.1 645.9,1605.5 645.9,1594 666.5,1600.7" fill="#ebebeb"/>
<polygon points="666.5,1612.1 688.3,1605.9 688.3,1594.5 666.5,1600.7" fill="#f5f5f5"/>
<polygon points="561,1631.1 582.8,1624.8 562.2,1618.1 540.4,1624.4" fill="#a6a6a6"/>
<polygon points="561,1642.5 540.4,1635.8 540.4,1624.4 561,1631.1" fill="#ebebeb"/>
<polygon points="561,1642.5 582.8,1636.2 582.8,1624.8 561,1631.1" fill="#f5f5f5"/>
<polygon points="371.7,1552.1 634.3,1476.6 624.4,1473.4 361.8,1548.9" fill="#f2f2f2"/>
<polygon points="371.7,1558.8 361.8,1555.6 361.8,1548.9 371.7,1552.1" fill="#ececec"/>
<polygon points="371.7,1558.8 634.3,1483.3 634.3,1476.6 371.7,1552.1" fill="#f7f7f7"/>
<polygon points="636.3,1501.7 629.5,1499.5 629.5,1486.6 636.3,1488.9" fill="#ececec"/>
<polygon points="636.3,1501.7 643.6,1499.6 643.6,1486.8 636.3,1488.9" fill="#f7f7f7"/>
<polygon points="525.3,1533.6 518.5,1531.4 518.5,1518.6 525.3,1520.8" fill="#ececec"/>
<polygon points="525.3,1533.6 532.6,1531.5 532.6,1518.7 525.3,1520.8" fill="#f7f7f7"/>
<polygon points="678.7,1515.5 671.9,1513.2 671.9,1500.4 678.7,1502.6" fill="#ececec"/>
<polygon points="678.7,1515.5 686,1513.4 686,1500.5 678.7,1502.6" fill="#f7f7f7"/>
<polygon points="567.7,1547.4 560.9,1545.2 560.9,1532.3 567.7,1534.5" fill="#ececec"/>
<polygon points="567.7,1547.4 575,1545.3 575,1532.5 567.7,1534.5" fill="#f7f7f7"/>
<polygon points="531.2,1518.7 636.2,1488.5 636.2,1473.2 531.2,1503.4" fill="#f7f7f7"/>
<polygon points="673.1,1500.5 636.2,1488.5 636.2,1473.2 673.1,1485.2" fill="#ececec"/>
<path d="M567.7 1519.3L685.9 1485.3L636.6 1469.3L518.5 1503.3ZM568.1 1515.4L531.2 1503.4L636.2 1473.2L673.1 1485.2Z" fill="#ababab" fill-rule="evenodd"/>
<polygon points="567.7,1534.5 518.5,1518.6 518.5,1503.3 567.7,1519.3" fill="#ececec"/>
<polygon points="567.7,1534.5 685.9,1500.6 685.9,1485.3 567.7,1519.3" fill="#f7f7f7"/>
<polygon points="746.8,1543 759.9,1539.2 736.5,1531.6 723.4,1535.4" fill="#f2f2f2" stroke-width="0.5"/>
<polygon points="746.8,1546.8 723.4,1539.2 723.4,1535.4 746.8,1543" fill="#ececec" stroke-width="0.5"/>
<polygon points="746.8,1546.8 759.9,1543 759.9,1539.2 746.8,1543" fill="#f7f7f7" stroke-width="0.5"/>
<polygon points="691.9,1525.1 705,1521.4 681.6,1513.8 668.6,1517.6" fill="#f2f2f2" stroke-width="0.5"/>
<polygon points="691.9,1528.9 668.6,1521.4 668.6,1517.6 691.9,1525.1" fill="#ececec" stroke-width="0.5"/>
<polygon points="691.9,1528.9 705,1525.2 705,1521.4 691.9,1525.1" fill="#f7f7f7" stroke-width="0.5"/>
<polygon points="716.2,1551.7 729.3,1548 706,1540.4 692.9,1544.2" fill="#f2f2f2" stroke-width="0.5"/>
<polygon points="716.2,1555.5 692.9,1548 692.9,1544.2 716.2,1551.7" fill="#ececec" stroke-width="0.5"/>
<polygon points="716.2,1555.5 729.3,1551.8 729.3,1548 716.2,1551.7" fill="#f7f7f7" stroke-width="0.5"/>
<polygon points="661.3,1533.9 674.4,1530.1 651.1,1522.6 638,1526.3" fill="#f2f2f2" stroke-width="0.5"/>
<polygon points="661.3,1537.7 638,1530.1 638,1526.3 661.3,1533.9" fill="#ececec" stroke-width="0.5"/>
<polygon points="661.3,1537.7 674.4,1534 674.4,1530.1 661.3,1533.9" fill="#f7f7f7" stroke-width="0.5"/>
<polygon points="685.7,1560.5 698.8,1556.8 675.4,1549.2 662.3,1552.9" fill="#f2f2f2" stroke-width="0.5"/>
<polygon points="685.7,1564.3 662.3,1556.8 662.3,1552.9 685.7,1560.5" fill="#ececec" stroke-width="0.5"/>
<polygon points="685.7,1564.3 698.8,1560.6 698.8,1556.8 685.7,1560.5" fill="#f7f7f7" stroke-width="0.5"/>
<polygon points="630.8,1542.7 643.9,1538.9 620.5,1531.4 607.5,1535.1" fill="#f2f2f2" stroke-width="0.5"/>
<polygon points="630.8,1546.5 607.5,1538.9 607.5,1535.1 630.8,1542.7" fill="#ececec" stroke-width="0.5"/>
<polygon points="630.8,1546.5 643.9,1542.7 643.9,1538.9 630.8,1542.7" fill="#f7f7f7" stroke-width="0.5"/>
<polygon points="655.1,1569.3 668.2,1565.5 644.9,1558 631.8,1561.7" fill="#f2f2f2" stroke-width="0.5"/>
<polygon points="655.1,1573.1 631.8,1565.5 631.8,1561.7 655.1,1569.3" fill="#ececec" stroke-width="0.5"/>
<polygon points="655.1,1573.1 668.2,1569.4 668.2,1565.5 655.1,1569.3" fill="#f7f7f7" stroke-width="0.5"/>
<polygon points="600.2,1551.5 613.3,1547.7 590,1540.1 576.9,1543.9" fill="#f2f2f2" stroke-width="0.5"/>
<polygon points="600.2,1555.3 576.9,1547.7 576.9,1543.9 600.2,1551.5" fill="#ececec" stroke-width="0.5"/>
<polygon points="600.2,1555.3 613.3,1551.5 613.3,1547.7 600.2,1551.5" fill="#f7f7f7" stroke-width="0.5"/>
<polygon points="595.1,1576.1 608.1,1572.3 584.8,1564.7 571.7,1568.5" fill="#f2f2f2" stroke-width="0.5"/>
<polygon points="595.1,1579.9 571.7,1572.3 571.7,1568.5 595.1,1576.1" fill="#ececec" stroke-width="0.5"/>
<polygon points="595.1,1579.9 608.1,1576.1 608.1,1572.3 595.1,1576.1" fill="#f7f7f7" stroke-width="0.5"/>
<polygon points="526.4,1553.8 539.5,1550 516.2,1542.5 503.1,1546.2" fill="#f2f2f2" stroke-width="0.5"/>
<polygon points="526.4,1557.6 503.1,1550 503.1,1546.2 526.4,1553.8" fill="#ececec" stroke-width="0.5"/>
<polygon points="526.4,1557.6 539.5,1553.8 539.5,1550 526.4,1553.8" fill="#f7f7f7" stroke-width="0.5"/>
<polygon points="563.3,1585.2 576.4,1581.4 553.1,1573.9 540,1577.6" fill="#f2f2f2" stroke-width="0.5"/>
<polygon points="563.3,1589 540,1581.4 540,1577.6 563.3,1585.2" fill="#ececec" stroke-width="0.5"/>
<polygon points="563.3,1589 576.4,1585.2 576.4,1581.4 563.3,1585.2" fill="#f7f7f7" stroke-width="0.5"/>
<polygon points="494.7,1562.9 507.8,1559.2 484.5,1551.6 471.4,1555.3" fill="#f2f2f2" stroke-width="0.5"/>
<polygon points="494.7,1566.7 471.4,1559.2 471.4,1555.3 494.7,1562.9" fill="#ececec" stroke-width="0.5"/>
<polygon points="494.7,1566.7 507.8,1563 507.8,1559.2 494.7,1562.9" fill="#f7f7f7" stroke-width="0.5"/>
<polygon points="531.3,1594.4 544.4,1590.6 521.1,1583.1 508,1586.8" fill="#f2f2f2" stroke-width="0.5"/>
<polygon points="531.3,1598.2 508,1590.6 508,1586.8 531.3,1594.4" fill="#ececec" stroke-width="0.5"/>
<polygon points="531.3,1598.2 544.4,1594.5 544.4,1590.6 531.3,1594.4" fill="#f7f7f7" stroke-width="0.5"/>
<polygon points="462.7,1572.1 475.8,1568.4 452.5,1560.8 439.4,1564.6" fill="#f2f2f2" stroke-width="0.5"/>
<polygon points="462.7,1575.9 439.4,1568.4 439.4,1564.6 462.7,1572.1" fill="#ececec" stroke-width="0.5"/>
<polygon points="462.7,1575.9 475.8,1572.2 475.8,1568.4 462.7,1572.1" fill="#f7f7f7" stroke-width="0.5"/>
<polygon points="817.3,1544.4 820.2,1543.6 623.3,1479.6 620.4,1480.5" fill="#b9b9b9" stroke-width="0.6"/>
<polygon points="817.3,1548.2 620.4,1484.3 620.4,1480.5 817.3,1544.4" fill="#9c9c9c" stroke-width="0.6"/>
<polygon points="788.2,1552.8 791.1,1551.9 656.6,1508.3 653.7,1509.1" fill="#b9b9b9" stroke-width="0.6"/>
<polygon points="788.2,1556.6 653.7,1512.9 653.7,1509.1 788.2,1552.8" fill="#9c9c9c" stroke-width="0.6"/>
<polygon points="757.6,1561.6 760.6,1560.7 626.1,1517.1 623.2,1517.9" fill="#b9b9b9" stroke-width="0.6"/>
<polygon points="757.6,1565.4 623.2,1521.7 623.2,1517.9 757.6,1561.6" fill="#9c9c9c" stroke-width="0.6"/>
<polygon points="727.1,1570.3 730,1569.5 595.5,1525.8 592.6,1526.7" fill="#b9b9b9" stroke-width="0.6"/>
<polygon points="727.1,1574.2 592.6,1530.5 592.6,1526.7 727.1,1570.3" fill="#9c9c9c" stroke-width="0.6"/>
<polygon points="696.5,1579.1 699.5,1578.3 565,1534.6 562.1,1535.5" fill="#b9b9b9" stroke-width="0.6"/>
<polygon points="696.5,1582.9 562.1,1539.3 562.1,1535.5 696.5,1579.1" fill="#9c9c9c" stroke-width="0.6"/>
<polygon points="653.6,1591.5 656.5,1590.6 459.6,1526.7 456.7,1527.5" fill="#b9b9b9" stroke-width="0.6"/>
<polygon points="653.6,1595.3 456.7,1531.3 456.7,1527.5 653.6,1591.5" fill="#9c9c9c" stroke-width="0.6"/>
<polygon points="621.9,1600.6 624.8,1599.8 427.9,1535.8 425,1536.7" fill="#b9b9b9" stroke-width="0.6"/>
<polygon points="621.9,1604.4 425,1540.5 425,1536.7 621.9,1600.6" fill="#9c9c9c" stroke-width="0.6"/>
<polygon points="589.9,1609.8 592.8,1609 395.9,1545 393,1545.9" fill="#b9b9b9" stroke-width="0.6"/>
<polygon points="589.9,1613.6 393,1549.7 393,1545.9 589.9,1609.8" fill="#9c9c9c" stroke-width="0.6"/>
<polygon points="554,1620.1 556.9,1619.3 369.6,1558.5 366.6,1559.3" fill="#b9b9b9" stroke-width="0.6"/>
<polygon points="554,1623.9 366.6,1563.1 366.6,1559.3 554,1620.1" fill="#9c9c9c" stroke-width="0.6"/>
<polygon points="827.6,1532.5 832,1531.3 624.7,1464 620.4,1465.2" fill="#f2f2f2"/>
<polygon points="827.6,1541.1 620.4,1473.8 620.4,1465.2 827.6,1532.5" fill="#ececec"/>
<polygon points="827.6,1541.1 832,1539.8 832,1531.3 827.6,1532.5" fill="#f7f7f7"/>
<polygon points="798.5,1540.9 802.9,1539.6 658.1,1492.6 653.7,1493.9" fill="#f2f2f2"/>
<polygon points="798.5,1549.5 653.7,1502.4 653.7,1493.9 798.5,1540.9" fill="#ececec"/>
<polygon points="798.5,1549.5 802.9,1548.2 802.9,1539.6 798.5,1540.9" fill="#f7f7f7"/>
<polygon points="767.9,1549.7 772.3,1548.4 627.5,1501.4 623.2,1502.7" fill="#f2f2f2"/>
<polygon points="767.9,1558.2 623.2,1511.2 623.2,1502.7 767.9,1549.7" fill="#ececec"/>
<polygon points="767.9,1558.2 772.3,1557 772.3,1548.4 767.9,1549.7" fill="#f7f7f7"/>
<polygon points="737.4,1558.5 741.8,1557.2 597,1510.2 592.6,1511.4" fill="#f2f2f2"/>
<polygon points="737.4,1567 592.6,1520 592.6,1511.4 737.4,1558.5" fill="#ececec"/>
<polygon points="737.4,1567 741.8,1565.8 741.8,1557.2 737.4,1558.5" fill="#f7f7f7"/>
<polygon points="706.8,1567.2 711.2,1566 566.4,1519 562.1,1520.2" fill="#f2f2f2"/>
<polygon points="706.8,1575.8 562.1,1528.8 562.1,1520.2 706.8,1567.2" fill="#ececec"/>
<polygon points="706.8,1575.8 711.2,1574.6 711.2,1566 706.8,1567.2" fill="#f7f7f7"/>
<polygon points="663.9,1579.6 668.3,1578.3 461.1,1511 456.7,1512.3" fill="#f2f2f2"/>
<polygon points="663.9,1588.2 456.7,1520.9 456.7,1512.3 663.9,1579.6" fill="#ececec"/>
<polygon points="663.9,1588.2 668.3,1586.9 668.3,1578.3 663.9,1579.6" fill="#f7f7f7"/>
<polygon points="632.2,1588.7 636.6,1587.5 429.3,1520.2 425,1521.4" fill="#f2f2f2"/>
<polygon points="632.2,1597.3 425,1530 425,1521.4 632.2,1588.7" fill="#ececec"/>
<polygon points="632.2,1597.3 636.6,1596 636.6,1587.5 632.2,1588.7" fill="#f7f7f7"/>
<polygon points="600.2,1597.9 604.6,1596.7 397.3,1529.4 393,1530.6" fill="#f2f2f2"/>
<polygon points="600.2,1606.5 393,1539.2 393,1530.6 600.2,1597.9" fill="#ececec"/>
<polygon points="600.2,1606.5 604.6,1605.2 604.6,1596.7 600.2,1597.9" fill="#f7f7f7"/>
<polygon points="555,1605.2 559.4,1604 371,1542.8 366.6,1544.1" fill="#f2f2f2"/>
<polygon points="555,1613.8 366.6,1552.7 366.6,1544.1 555,1605.2" fill="#ececec"/>
<polygon points="555,1613.8 559.4,1612.6 559.4,1604 555,1605.2" fill="#f7f7f7"/>
<polygon points="566.8,1615.5 829.3,1539.9 826,1538.8 563.4,1614.4" fill="#f2f2f2"/>
<polygon points="566.8,1621.2 563.4,1620.1 563.4,1614.4 566.8,1615.5" fill="#ececec"/>
<polygon points="566.8,1621.2 829.3,1545.6 829.3,1539.9 566.8,1615.5" fill="#f7f7f7"/>
<polygon points="291.3,1384.4 620.4,1289.8 620.4,1294.5 291.3,1389.2" fill="#efefef"/>
<polygon points="291.3,1384.4 287.1,1386.3 287.1,1391.1 291.3,1389.2" fill="#ededed"/>
<polygon points="318.7,1371.8 647.8,1277.1 647.8,1281.9 318.7,1376.5" fill="#efefef"/>
<polygon points="318.7,1371.8 314.6,1373.7 314.6,1378.4 318.7,1376.5" fill="#ededed"/>
<polygon points="344.8,1359.7 673.9,1265.1 673.9,1269.8 344.8,1364.5" fill="#efefef"/>
<polygon points="344.8,1359.7 340.7,1361.6 340.7,1366.4 344.8,1364.5" fill="#ededed"/>
<polygon points="730,1239.4 587.3,1305.3 587.3,1312.9 730,1247" fill="#ececec"/>
<polygon points="834.1,1357.8 837.7,1356.8 629.5,1289.2 625.8,1290.2" fill="#f2f2f2"/>
<polygon points="834.1,1366.4 625.8,1298.8 625.8,1290.2 834.1,1357.8" fill="#ececec"/>
<polygon points="834.1,1366.4 837.7,1365.3 837.7,1356.8 834.1,1357.8" fill="#f7f7f7"/>
<polygon points="728.6,1323.6 717.6,1320 673,1268.6 684,1272.1" fill="#ececec"/>
<polygon points="731.3,1324.5 742.3,1328 786.9,1305.6 775.9,1302" fill="#ececec"/>
<polygon points="732,1324.7 727.9,1323.3 727.9,1240.6 732,1242" fill="#ececec"/>
<polygon points="732,1324.7 735.7,1323.6 735.7,1240.9 732,1242" fill="#f7f7f7"/>
<polygon points="730,1239.4 733.6,1238.3 876.3,1396.9 872.7,1397.9" fill="#f2f2f2"/>
<polygon points="730,1239.4 872.7,1397.9 872.7,1405.6 730,1247" fill="#ececec"/>
<polygon points="872.7,1397.9 876.3,1396.9 876.3,1404.5 872.7,1405.6" fill="#f7f7f7"/>
<polygon points="622.1,1318.9 638.1,1314.2 629.9,1311.6 613.9,1316.2" fill="#a6a6a6"/>
<polygon points="622.1,1324.6 613.9,1321.9 613.9,1316.2 622.1,1318.9" fill="#ececec"/>
<polygon points="622.1,1324.6 638.1,1320 638.1,1314.2 622.1,1318.9" fill="#f7f7f7"/>
<polygon points="650.7,1308.1 666.7,1303.5 658.5,1300.8 642.5,1305.4" fill="#a6a6a6"/>
<polygon points="650.7,1313.8 642.5,1311.1 642.5,1305.4 650.7,1308.1" fill="#ececec"/>
<polygon points="650.7,1313.8 666.7,1309.2 666.7,1303.5 650.7,1308.1" fill="#f7f7f7"/>
<polygon points="601.9,1306.2 602.3,1307.6 603.4,1308.9 605.3,1310.1 607.8,1311.2 610.9,1312.2 614.6,1312.9 618.5,1313.5 622.8,1313.9 627.2,1314 631.6,1313.9 635.9,1313.5 639.9,1313 643.5,1312.2 646.6,1311.2 649.1,1310.1 651,1308.9 652.1,1307.6 652.5,1306.3 652.5,1182 652.1,1183.4 651,1184.7 649.1,1185.9 646.6,1187 643.5,1188 639.9,1188.7 635.9,1189.3 631.6,1189.6 627.2,1189.8 622.8,1189.6 618.5,1189.3 614.6,1188.7 610.9,1187.9 607.8,1187 605.3,1185.9 603.4,1184.7 602.3,1183.4 601.9,1182" fill="url(#tank)"/>
<polygon points="645.6,1176.7 642.3,1175.8 638.6,1175.1 634.5,1174.6 630.1,1174.4 625.7,1174.3 621.4,1174.5 617.2,1174.9 613.3,1175.6 609.8,1176.4 606.9,1177.4 604.6,1178.5 603,1179.8 602.1,1181.1 601.9,1182.5 602.6,1183.8 604,1185.1 606.1,1186.3 608.8,1187.3 612.1,1188.2 615.8,1188.9 619.9,1189.4 624.3,1189.7 628.7,1189.8 633,1189.6 637.2,1189.1 641.1,1188.5 644.6,1187.7 647.5,1186.7 649.8,1185.5 651.4,1184.3 652.3,1182.9 652.5,1181.6 651.8,1180.3 650.4,1179 648.3,1177.8" fill="url(#tanktop)"/>
<polygon points="611.6,1182 611.8,1182.8 612.5,1183.7 613.7,1184.4 615.3,1185.1 617.2,1185.7 619.4,1186.2 621.9,1186.5 624.5,1186.7 627.2,1186.8 629.9,1186.7 632.5,1186.5 635,1186.2 637.2,1185.7 639.2,1185.1 640.7,1184.4 641.9,1183.7 642.6,1182.9 642.8,1182 642.8,1173 642.6,1173.8 641.9,1174.6 640.7,1175.4 639.2,1176.1 637.2,1176.6 635,1177.1 632.5,1177.5 629.9,1177.7 627.2,1177.8 624.5,1177.7 621.9,1177.5 619.4,1177.1 617.2,1176.6 615.3,1176 613.7,1175.4 612.5,1174.6 611.8,1173.8 611.6,1173" fill="url(#tank)"/>
<polygon points="638.5,1169.7 636.5,1169.2 634.2,1168.7 631.7,1168.4 629,1168.3 626.3,1168.2 623.6,1168.3 621,1168.6 618.6,1169 616.5,1169.5 614.7,1170.1 613.3,1170.8 612.3,1171.6 611.7,1172.4 611.6,1173.3 612,1174.1 612.9,1174.9 614.2,1175.6 615.9,1176.3 617.9,1176.8 620.2,1177.2 622.7,1177.6 625.4,1177.7 628.1,1177.7 630.8,1177.6 633.4,1177.4 635.8,1177 637.9,1176.5 639.7,1175.8 641.1,1175.1 642.1,1174.4 642.7,1173.6 642.8,1172.7 642.4,1171.9 641.5,1171.1 640.2,1170.4" fill="#a6a6a6"/>
<polygon points="573.6,1519.1 519.4,1501.5 519.4,1331.1 573.6,1348.7" fill="#ebebeb"/>
<polygon points="573.6,1519.1 687,1486.5 687,1316.1 573.6,1348.7" fill="#f4f4f4"/>
<polygon points="573.5,1344.9 689.9,1311.4 632.9,1292.9 516.5,1326.4" fill="#a6a6a6"/>
<polygon points="573.5,1349.6 516.5,1331.1 516.5,1326.4 573.5,1344.9" fill="#f0f0f0"/>
<polygon points="573.5,1349.6 689.9,1316.1 689.9,1311.4 573.5,1344.9" fill="#f7f7f7"/>
<path d="M567.7 1517.2L567.7 1355.4M525.2 1503.4L525.2 1341.6M579.7 1517.4L579.7 1355.5M680.9 1488.3L680.9 1326.5M573.6 1357.3L519.4 1339.7M573.6 1357.3L687 1324.7" stroke-width="0.5"/>
<polygon points="611.4,1508.3 617.2,1506.6 617.2,1344.8 611.4,1346.4" fill="#e4e4e4" stroke-width="0.5"/>
<polygon points="582.3,1402.4 608.5,1394.9 608.5,1371.1 582.3,1378.6" fill="#f9f9f9" stroke-width="0.5"/>
<path d="M579.7 1431.7L611.4 1422.6M617.2 1373.3L680.9 1355" stroke-width="0.5"/>
<polygon points="368.3,1382.5 630.9,1307 627.5,1305.9 364.9,1381.4" fill="#f2f2f2"/>
<polygon points="368.3,1390.2 364.9,1389 364.9,1381.4 368.3,1382.5" fill="#ececec"/>
<polygon points="368.3,1390.2 630.9,1314.6 630.9,1307 368.3,1382.5" fill="#f7f7f7"/>
<polygon points="464,1338.8 470.6,1336.9 467.3,1335.8 460.7,1337.7" fill="#bdbdbd"/>
<polygon points="464,1520.6 460.7,1519.5 460.7,1337.7 464,1338.8" fill="#efefef"/>
<polygon points="464,1520.6 470.6,1518.7 470.6,1336.9 464,1338.8" fill="#f7f7f7"/>
<polygon points="470.7,1340.9 477.2,1339 473.9,1338 467.4,1339.9" fill="#bdbdbd"/>
<polygon points="470.7,1522.7 467.4,1521.7 467.4,1339.9 470.7,1340.9" fill="#efefef"/>
<polygon points="470.7,1522.7 477.2,1520.9 477.2,1339 470.7,1340.9" fill="#f7f7f7"/>
<circle cx="474.3" cy="1360.8" r="0.9" fill="#333" stroke="none"/>
<circle cx="474.3" cy="1372.2" r="0.9" fill="#333" stroke="none"/>
<polygon points="358.5,1369.1 365.1,1367.2 361.8,1366.1 355.2,1368" fill="#bdbdbd"/>
<polygon points="358.5,1560.4 355.2,1559.4 355.2,1368 358.5,1369.1" fill="#efefef"/>
<polygon points="358.5,1560.4 365.1,1558.5 365.1,1367.2 358.5,1369.1" fill="#f7f7f7"/>
<polygon points="365.2,1371.3 371.7,1369.4 368.4,1368.3 361.9,1370.2" fill="#bdbdbd"/>
<polygon points="365.2,1562.6 361.9,1561.5 361.9,1370.2 365.2,1371.3" fill="#efefef"/>
<polygon points="365.2,1562.6 371.7,1560.7 371.7,1369.4 365.2,1371.3" fill="#f7f7f7"/>
<circle cx="368.8" cy="1391.2" r="0.9" fill="#333" stroke="none"/>
<circle cx="368.8" cy="1402.6" r="0.9" fill="#333" stroke="none"/>
<circle cx="368.8" cy="1555.8" r="0.9" fill="#333" stroke="none"/>
<polygon points="374.3,1346.1 703.4,1251.4 703.4,1256.2 374.3,1350.9" fill="#efefef"/>
<polygon points="374.3,1346.1 370.2,1348 370.2,1352.8 374.3,1350.9" fill="#ededed"/>
<polygon points="399.7,1334.4 728.8,1239.7 728.8,1244.5 399.7,1339.1" fill="#efefef"/>
<polygon points="399.7,1334.4 395.6,1336.3 395.6,1341 399.7,1339.1" fill="#ededed"/>
<polygon points="427.1,1321.7 756.3,1227 756.3,1231.8 427.1,1326.5" fill="#efefef"/>
<polygon points="427.1,1321.7 423,1323.6 423,1328.4 427.1,1326.5" fill="#ededed"/>
<polygon points="826,1356.1 832.5,1354.2 829.2,1353.1 822.7,1355" fill="#bdbdbd"/>
<polygon points="826,1547.4 822.7,1546.3 822.7,1355 826,1356.1" fill="#efefef"/>
<polygon points="826,1547.4 832.5,1545.5 832.5,1354.2 826,1356.1" fill="#f7f7f7"/>
<polygon points="832.6,1358.2 839.2,1356.4 835.9,1355.3 829.3,1357.2" fill="#bdbdbd"/>
<polygon points="832.6,1549.6 829.3,1548.5 829.3,1357.2 832.6,1358.2" fill="#efefef"/>
<polygon points="832.6,1549.6 839.2,1547.7 839.2,1356.4 832.6,1358.2" fill="#f7f7f7"/>
<circle cx="836.3" cy="1378.1" r="0.9" fill="#333" stroke="none"/>
<circle cx="836.3" cy="1389.6" r="0.9" fill="#333" stroke="none"/>
<circle cx="836.3" cy="1542.8" r="0.9" fill="#333" stroke="none"/>
<polygon points="566.3,1286.5 423.6,1352.4 423.6,1360 566.3,1294.1" fill="#ececec"/>
<polygon points="670.4,1404.9 674.1,1403.8 465.8,1336.2 462.2,1337.3" fill="#f2f2f2"/>
<polygon points="670.4,1413.5 462.2,1345.8 462.2,1337.3 670.4,1404.9" fill="#ececec"/>
<polygon points="670.4,1413.5 674.1,1412.4 674.1,1403.8 670.4,1404.9" fill="#f7f7f7"/>
<polygon points="564.9,1370.6 553.9,1367.1 509.3,1315.6 520.3,1319.2" fill="#ececec"/>
<polygon points="567.7,1371.5 578.6,1375.1 623.3,1352.6 612.3,1349.1" fill="#ececec"/>
<polygon points="568.4,1371.8 564.2,1370.4 564.2,1287.7 568.4,1289" fill="#ececec"/>
<polygon points="568.4,1371.8 572,1370.7 572,1288 568.4,1289" fill="#f7f7f7"/>
<polygon points="566.3,1286.5 569.9,1285.4 712.6,1444 709,1445" fill="#f2f2f2"/>
<polygon points="566.3,1286.5 709,1445 709,1452.6 566.3,1294.1" fill="#ececec"/>
<polygon points="709,1445 712.6,1444 712.6,1451.6 709,1452.6" fill="#f7f7f7"/>
<polygon points="662.3,1403.2 668.9,1401.3 665.6,1400.2 659,1402.1" fill="#bdbdbd"/>
<polygon points="662.3,1594.5 659,1593.4 659,1402.1 662.3,1403.2" fill="#efefef"/>
<polygon points="662.3,1594.5 668.9,1592.6 668.9,1401.3 662.3,1403.2" fill="#f7f7f7"/>
<polygon points="669,1405.3 675.5,1403.4 672.2,1402.4 665.7,1404.2" fill="#bdbdbd"/>
<polygon points="669,1596.6 665.7,1595.6 665.7,1404.2 669,1405.3" fill="#efefef"/>
<polygon points="669,1596.6 675.5,1594.8 675.5,1403.4 669,1405.3" fill="#f7f7f7"/>
<circle cx="672.6" cy="1425.2" r="0.9" fill="#333" stroke="none"/>
<circle cx="672.6" cy="1436.6" r="0.9" fill="#333" stroke="none"/>
<circle cx="672.6" cy="1589.9" r="0.9" fill="#333" stroke="none"/>
<polygon points="566.8,1447 665.7,1418.5 662.3,1417.4 563.4,1445.9" fill="#f2f2f2"/>
<polygon points="566.8,1454.6 563.4,1453.5 563.4,1445.9 566.8,1447" fill="#ececec"/>
<polygon points="566.8,1454.6 665.7,1426.1 665.7,1418.5 566.8,1447" fill="#f7f7f7"/>
<polygon points="672.2,1416.6 829.3,1371.5 826,1370.4 668.9,1415.5" fill="#f2f2f2"/>
<polygon points="672.2,1424.3 668.9,1423.2 668.9,1415.5 672.2,1416.6" fill="#ececec"/>
<polygon points="672.2,1424.3 829.3,1379.1 829.3,1371.5 672.2,1416.6" fill="#f7f7f7"/>
<polygon points="460.8,1316.8 318.1,1382.7 318.1,1390.3 460.8,1324.4" fill="#ececec"/>
<polygon points="565,1435.2 568.6,1434.2 360.3,1366.6 356.7,1367.6" fill="#f2f2f2"/>
<polygon points="565,1443.8 356.7,1376.2 356.7,1367.6 565,1435.2" fill="#ececec"/>
<polygon points="565,1443.8 568.6,1442.7 568.6,1434.2 565,1435.2" fill="#f7f7f7"/>
<polygon points="459.5,1401 448.5,1397.4 403.9,1346 414.8,1349.5" fill="#ececec"/>
<polygon points="462.2,1401.9 473.2,1405.4 517.8,1383 506.8,1379.4" fill="#ececec"/>
<polygon points="462.9,1402.1 458.8,1400.7 458.8,1318 462.9,1319.4" fill="#ececec"/>
<polygon points="462.9,1402.1 466.5,1401 466.5,1318.3 462.9,1319.4" fill="#f7f7f7"/>
<polygon points="460.8,1316.8 464.5,1315.7 607.2,1474.3 603.5,1475.4" fill="#f2f2f2"/>
<polygon points="460.8,1316.8 603.5,1475.4 603.5,1483 460.8,1324.4" fill="#ececec"/>
<polygon points="603.5,1475.4 607.2,1474.3 607.2,1481.9 603.5,1483" fill="#f7f7f7"/>
<polygon points="358.5,1369.1 365.1,1367.2 361.8,1366.1 355.2,1368" fill="#bdbdbd"/>
<polygon points="358.5,1560.4 355.2,1559.4 355.2,1368 358.5,1369.1" fill="#efefef"/>
<polygon points="358.5,1560.4 365.1,1558.5 365.1,1367.2 358.5,1369.1" fill="#f7f7f7"/>
<polygon points="365.2,1371.3 371.7,1369.4 368.4,1368.3 361.9,1370.2" fill="#bdbdbd"/>
<polygon points="365.2,1562.6 361.9,1561.5 361.9,1370.2 365.2,1371.3" fill="#efefef"/>
<polygon points="365.2,1562.6 371.7,1560.7 371.7,1369.4 365.2,1371.3" fill="#f7f7f7"/>
<circle cx="368.8" cy="1391.2" r="0.9" fill="#333" stroke="none"/>
<circle cx="368.8" cy="1402.6" r="0.9" fill="#333" stroke="none"/>
<circle cx="368.8" cy="1555.8" r="0.9" fill="#333" stroke="none"/>
<polygon points="556.8,1433.5 563.4,1431.6 560.1,1430.5 553.6,1432.4" fill="#bdbdbd"/>
<polygon points="556.8,1624.8 553.6,1623.7 553.6,1432.4 556.8,1433.5" fill="#efefef"/>
<polygon points="556.8,1624.8 563.4,1622.9 563.4,1431.6 556.8,1433.5" fill="#f7f7f7"/>
<polygon points="563.5,1435.6 570,1433.8 566.8,1432.7 560.2,1434.6" fill="#bdbdbd"/>
<polygon points="563.5,1627 560.2,1625.9 560.2,1434.6 563.5,1435.6" fill="#efefef"/>
<polygon points="563.5,1627 570,1625.1 570,1433.8 563.5,1435.6" fill="#f7f7f7"/>
<circle cx="567.1" cy="1455.5" r="0.9" fill="#333" stroke="none"/>
<circle cx="567.1" cy="1467.0" r="0.9" fill="#333" stroke="none"/>
<circle cx="567.1" cy="1620.2" r="0.9" fill="#333" stroke="none"/>
<polygon points="436.4,1327.9 765.5,1233.3 761.4,1228.7 432.3,1323.4" fill="#f4f4f4"/>
<polygon points="436.4,1327.9 765.5,1233.3 765.5,1238 436.4,1332.7" fill="#e6e6e6"/>
<polygon points="436.4,1327.9 432.3,1323.4 432.3,1328.1 436.4,1332.7" fill="#ededed"/>
<polygon points="463.8,1358.4 793,1263.8 788.9,1259.2 459.7,1353.9" fill="#f4f4f4"/>
<polygon points="463.8,1358.4 793,1263.8 793,1268.5 463.8,1363.2" fill="#e6e6e6"/>
<polygon points="463.8,1358.4 459.7,1353.9 459.7,1358.6 463.8,1363.2" fill="#ededed"/>
<polygon points="489.2,1386.7 818.4,1292 814.3,1287.4 485.1,1382.1" fill="#f4f4f4"/>
<polygon points="489.2,1386.7 818.4,1292 818.4,1296.7 489.2,1391.4" fill="#e6e6e6"/>
<polygon points="489.2,1386.7 485.1,1382.1 485.1,1386.8 489.2,1391.4" fill="#ededed"/>
<polygon points="518.7,1419.4 847.9,1324.8 843.8,1320.2 514.6,1414.9" fill="#f4f4f4"/>
<polygon points="518.7,1419.4 847.9,1324.8 847.9,1329.5 518.7,1424.2" fill="#e6e6e6"/>
<polygon points="518.7,1419.4 514.6,1414.9 514.6,1419.6 518.7,1424.2" fill="#ededed"/>
<polygon points="544.8,1448.4 873.9,1353.8 869.8,1349.2 540.7,1443.8" fill="#f4f4f4"/>
<polygon points="544.8,1448.4 873.9,1353.8 873.9,1358.5 544.8,1453.2" fill="#e6e6e6"/>
<polygon points="544.8,1448.4 540.7,1443.8 540.7,1448.6 544.8,1453.2" fill="#ededed"/>
<polygon points="572.2,1478.9 901.4,1384.3 897.3,1379.7 568.1,1474.3" fill="#f4f4f4"/>
<polygon points="572.2,1478.9 901.4,1384.3 901.4,1389 572.2,1483.7" fill="#e6e6e6"/>
<polygon points="572.2,1478.9 568.1,1474.3 568.1,1479.1 572.2,1483.7" fill="#ededed"/></g>
<g id="st4"><polygon points="665.8,2214.7 666.2,2216.2 667.4,2217.6 669.4,2218.9 672.1,2220.1 675.4,2221.1 679.3,2221.9 683.5,2222.5 688.1,2222.9 692.8,2223 697.5,2222.9 702,2222.5 706.3,2221.9 710.1,2221.1 713.5,2220.1 716.2,2218.9 718.1,2217.6 719.4,2216.2 719.8,2214.8 719.8,2072 719.4,2073.4 718.1,2074.8 716.2,2076.1 713.5,2077.3 710.1,2078.3 706.3,2079.1 702,2079.7 697.5,2080.1 692.8,2080.2 688.1,2080.1 683.5,2079.7 679.3,2079.1 675.4,2078.3 672.1,2077.3 669.4,2076.1 667.4,2074.8 666.2,2073.4 665.8,2072" fill="url(#cylg)"/>
<polygon points="422.2,2291.4 973.8,2132.8 661.8,2031.5 110.2,2190.1" fill="#a6a6a6" stroke="#666" stroke-width="0.8"/>
<polygon points="665.8,2072 666.2,2073.4 667.4,2074.8 669.4,2076.1 672.1,2077.3 675.4,2078.3 679.3,2079.1 683.5,2079.7 688.1,2080.1 692.8,2080.2 697.5,2080.1 702,2079.7 706.3,2079.1 710.1,2078.3 713.5,2077.3 716.2,2076.1 718.1,2074.8 719.4,2073.4 719.8,2072 719.8,2065.3 719.4,2066.8 718.1,2068.2 716.2,2069.5 713.5,2070.6 710.1,2071.7 706.3,2072.5 702,2073.1 697.5,2073.4 692.8,2073.6 688.1,2073.4 683.5,2073.1 679.3,2072.5 675.4,2071.6 672.1,2070.6 669.4,2069.4 667.4,2068.1 666.2,2066.7 665.8,2065.3" fill="url(#cylgd)"/>
<polygon points="712.4,2059.7 708.9,2058.7 704.9,2058 700.5,2057.4 695.9,2057.1 691.2,2057.1 686.6,2057.3 682.1,2057.7 677.9,2058.4 674.3,2059.3 671.1,2060.4 668.7,2061.6 666.9,2062.9 666,2064.3 665.8,2065.8 666.5,2067.2 668,2068.6 670.2,2069.8 673.1,2071 676.7,2071.9 680.7,2072.7 685,2073.2 689.6,2073.5 694.3,2073.6 699,2073.4 703.5,2072.9 707.6,2072.2 711.3,2071.3 714.4,2070.3 716.9,2069 718.6,2067.7 719.6,2066.3 719.7,2064.9 719.1,2063.4 717.6,2062.1 715.3,2060.8" fill="#a6a6a6"/>
<polygon points="362.7,2146.7 384.5,2140.4 363.9,2133.7 342.1,2140" fill="#a6a6a6"/>
<polygon points="362.7,2158.1 342.1,2151.4 342.1,2140 362.7,2146.7" fill="#ebebeb"/>
<polygon points="362.7,2158.1 384.5,2151.8 384.5,2140.4 362.7,2146.7" fill="#f5f5f5"/>
<polygon points="830.1,2133.7 851.9,2127.4 831.4,2120.7 809.5,2127" fill="#a6a6a6"/>
<polygon points="830.1,2145.1 809.5,2138.4 809.5,2127 830.1,2133.7" fill="#ebebeb"/>
<polygon points="830.1,2145.1 851.9,2138.8 851.9,2127.4 830.1,2133.7" fill="#f5f5f5"/>
<polygon points="666.5,2180.7 688.3,2174.5 667.7,2167.8 645.9,2174" fill="#a6a6a6"/>
<polygon points="666.5,2192.1 645.9,2185.5 645.9,2174 666.5,2180.7" fill="#ebebeb"/>
<polygon points="666.5,2192.1 688.3,2185.9 688.3,2174.5 666.5,2180.7" fill="#f5f5f5"/>
<polygon points="561,2211.1 582.8,2204.8 562.2,2198.1 540.4,2204.4" fill="#a6a6a6"/>
<polygon points="561,2222.5 540.4,2215.8 540.4,2204.4 561,2211.1" fill="#ebebeb"/>
<polygon points="561,2222.5 582.8,2216.2 582.8,2204.8 561,2211.1" fill="#f5f5f5"/>
<polygon points="464,2083.4 470.6,2081.6 467.3,2080.5 460.7,2082.4" fill="#bdbdbd"/>
<polygon points="464,2100.6 460.7,2099.5 460.7,2082.4 464,2083.4" fill="#efefef"/>
<polygon points="464,2100.6 470.6,2098.7 470.6,2081.6 464,2083.4" fill="#f7f7f7"/>
<polygon points="470.7,2085.6 477.2,2083.7 473.9,2082.6 467.4,2084.5" fill="#bdbdbd"/>
<polygon points="470.7,2102.7 467.4,2101.7 467.4,2084.5 470.7,2085.6" fill="#efefef"/>
<polygon points="470.7,2102.7 477.2,2100.9 477.2,2083.7 470.7,2085.6" fill="#f7f7f7"/>
<polygon points="358.5,2113.8 365.1,2111.9 361.8,2110.8 355.2,2112.7" fill="#bdbdbd"/>
<polygon points="358.5,2140.4 355.2,2139.4 355.2,2112.7 358.5,2113.8" fill="#efefef"/>
<polygon points="358.5,2140.4 365.1,2138.5 365.1,2111.9 358.5,2113.8" fill="#f7f7f7"/>
<polygon points="365.2,2115.9 371.7,2114.1 368.4,2113 361.9,2114.9" fill="#bdbdbd"/>
<polygon points="365.2,2142.6 361.9,2141.5 361.9,2114.9 365.2,2115.9" fill="#efefef"/>
<polygon points="365.2,2142.6 371.7,2140.7 371.7,2114.1 365.2,2115.9" fill="#f7f7f7"/>
<circle cx="368.8" cy="2135.8" r="0.9" fill="#333" stroke="none"/>
<circle cx="368.8" cy="2135.8" r="0.9" fill="#333" stroke="none"/>
<polygon points="563.5,2188.9 839.2,2109.6 630.9,2042 355.2,2121.3" fill="#a6a6a6" stroke-width="0.6"/>
<polygon points="553.6,2192.3 365.2,2131.2 365.2,2124.5 553.6,2185.7" fill="#efefef"/>
<polygon points="553.6,2200.9 365.2,2139.7 365.2,2134 553.6,2195.2" fill="#e4e4e4" stroke-width="0.5"/>
<polygon points="570,2202.2 669,2173.8 669,2158.6 570,2187" fill="#f7f7f7"/>
<path d="M570 2197.5L669 2169" stroke-width="0.5"/>
<polygon points="672.8,2171 829.9,2125.8 829.9,2120.1 672.8,2165.3" fill="#f3f3f3"/>
<polygon points="706.8,2156.8 695.2,2153 706.8,2149.2" fill="#efefef" stroke-width="0.5"/>
<polygon points="706.8,2156.8 711.2,2155.5 711.2,2147.9 706.8,2149.2" fill="#f7f7f7" stroke-width="0.5"/>
<polygon points="737.4,2148 725.7,2144.2 737.4,2140.4" fill="#efefef" stroke-width="0.5"/>
<polygon points="737.4,2148 741.8,2146.7 741.8,2139.1 737.4,2140.4" fill="#f7f7f7" stroke-width="0.5"/>
<polygon points="767.9,2139.2 756.3,2135.4 767.9,2131.6" fill="#efefef" stroke-width="0.5"/>
<polygon points="767.9,2139.2 772.3,2137.9 772.3,2130.3 767.9,2131.6" fill="#f7f7f7" stroke-width="0.5"/>
<polygon points="798.5,2130.4 786.8,2126.6 798.5,2122.8" fill="#efefef" stroke-width="0.5"/>
<polygon points="798.5,2130.4 802.9,2129.2 802.9,2121.5 798.5,2122.8" fill="#f7f7f7" stroke-width="0.5"/>
<polygon points="675.5,2158.6 832.6,2113.4 832.6,2111.5 675.5,2156.7" fill="#f7f7f7" stroke-width="0.5"/>
<polygon points="291.3,1964.4 620.4,1869.8 620.4,1874.5 291.3,1969.2" fill="#efefef"/>
<polygon points="291.3,1964.4 287.1,1966.3 287.1,1971.1 291.3,1969.2" fill="#ededed"/>
<polygon points="318.7,1951.8 647.8,1857.1 647.8,1861.9 318.7,1956.5" fill="#efefef"/>
<polygon points="318.7,1951.8 314.6,1953.7 314.6,1958.4 318.7,1956.5" fill="#ededed"/>
<polygon points="344.8,1939.7 673.9,1845.1 673.9,1849.8 344.8,1944.5" fill="#efefef"/>
<polygon points="344.8,1939.7 340.7,1941.6 340.7,1946.4 344.8,1944.5" fill="#ededed"/>
<polygon points="730,1819.4 587.3,1885.3 587.3,1892.9 730,1827" fill="#ececec"/>
<polygon points="834.1,1937.8 837.7,1936.8 629.5,1869.2 625.8,1870.2" fill="#f2f2f2"/>
<polygon points="834.1,1946.4 625.8,1878.8 625.8,1870.2 834.1,1937.8" fill="#ececec"/>
<polygon points="834.1,1946.4 837.7,1945.3 837.7,1936.8 834.1,1937.8" fill="#f7f7f7"/>
<polygon points="728.6,1903.6 717.6,1900 673,1848.6 684,1852.1" fill="#ececec"/>
<polygon points="731.3,1904.5 742.3,1908 786.9,1885.6 775.9,1882" fill="#ececec"/>
<polygon points="732,1904.7 727.9,1903.3 727.9,1820.6 732,1822" fill="#ececec"/>
<polygon points="732,1904.7 735.7,1903.6 735.7,1820.9 732,1822" fill="#f7f7f7"/>
<polygon points="730,1819.4 733.6,1818.3 876.3,1976.9 872.7,1977.9" fill="#f2f2f2"/>
<polygon points="730,1819.4 872.7,1977.9 872.7,1985.6 730,1827" fill="#ececec"/>
<polygon points="872.7,1977.9 876.3,1976.9 876.3,1984.5 872.7,1985.6" fill="#f7f7f7"/>
<polygon points="622.1,1898.9 638.1,1894.2 629.9,1891.6 613.9,1896.2" fill="#a6a6a6"/>
<polygon points="622.1,1904.6 613.9,1901.9 613.9,1896.2 622.1,1898.9" fill="#ececec"/>
<polygon points="622.1,1904.6 638.1,1900 638.1,1894.2 622.1,1898.9" fill="#f7f7f7"/>
<polygon points="650.7,1888.1 666.7,1883.5 658.5,1880.8 642.5,1885.4" fill="#a6a6a6"/>
<polygon points="650.7,1893.8 642.5,1891.1 642.5,1885.4 650.7,1888.1" fill="#ececec"/>
<polygon points="650.7,1893.8 666.7,1889.2 666.7,1883.5 650.7,1888.1" fill="#f7f7f7"/>
<polygon points="601.9,1886.2 602.3,1887.6 603.4,1888.9 605.3,1890.1 607.8,1891.2 610.9,1892.2 614.6,1892.9 618.5,1893.5 622.8,1893.9 627.2,1894 631.6,1893.9 635.9,1893.5 639.9,1893 643.5,1892.2 646.6,1891.2 649.1,1890.1 651,1888.9 652.1,1887.6 652.5,1886.3 652.5,1762 652.1,1763.4 651,1764.7 649.1,1765.9 646.6,1767 643.5,1768 639.9,1768.7 635.9,1769.3 631.6,1769.6 627.2,1769.8 622.8,1769.6 618.5,1769.3 614.6,1768.7 610.9,1767.9 607.8,1767 605.3,1765.9 603.4,1764.7 602.3,1763.4 601.9,1762" fill="url(#tank)"/>
<polygon points="645.6,1756.7 642.3,1755.8 638.6,1755.1 634.5,1754.6 630.1,1754.4 625.7,1754.3 621.4,1754.5 617.2,1754.9 613.3,1755.6 609.8,1756.4 606.9,1757.4 604.6,1758.5 603,1759.8 602.1,1761.1 601.9,1762.5 602.6,1763.8 604,1765.1 606.1,1766.3 608.8,1767.3 612.1,1768.2 615.8,1768.9 619.9,1769.4 624.3,1769.7 628.7,1769.8 633,1769.6 637.2,1769.1 641.1,1768.5 644.6,1767.7 647.5,1766.7 649.8,1765.5 651.4,1764.3 652.3,1762.9 652.5,1761.6 651.8,1760.3 650.4,1759 648.3,1757.8" fill="url(#tanktop)"/>
<polygon points="611.6,1762 611.8,1762.8 612.5,1763.7 613.7,1764.4 615.3,1765.1 617.2,1765.7 619.4,1766.2 621.9,1766.5 624.5,1766.7 627.2,1766.8 629.9,1766.7 632.5,1766.5 635,1766.2 637.2,1765.7 639.2,1765.1 640.7,1764.4 641.9,1763.7 642.6,1762.9 642.8,1762 642.8,1753 642.6,1753.8 641.9,1754.6 640.7,1755.4 639.2,1756.1 637.2,1756.6 635,1757.1 632.5,1757.5 629.9,1757.7 627.2,1757.8 624.5,1757.7 621.9,1757.5 619.4,1757.1 617.2,1756.6 615.3,1756 613.7,1755.4 612.5,1754.6 611.8,1753.8 611.6,1753" fill="url(#tank)"/>
<polygon points="638.5,1749.7 636.5,1749.2 634.2,1748.7 631.7,1748.4 629,1748.3 626.3,1748.2 623.6,1748.3 621,1748.6 618.6,1749 616.5,1749.5 614.7,1750.1 613.3,1750.8 612.3,1751.6 611.7,1752.4 611.6,1753.3 612,1754.1 612.9,1754.9 614.2,1755.6 615.9,1756.3 617.9,1756.8 620.2,1757.2 622.7,1757.6 625.4,1757.7 628.1,1757.7 630.8,1757.6 633.4,1757.4 635.8,1757 637.9,1756.5 639.7,1755.8 641.1,1755.1 642.1,1754.4 642.7,1753.6 642.8,1752.7 642.4,1751.9 641.5,1751.1 640.2,1750.4" fill="#a6a6a6"/>
<polygon points="573.6,2098.2 519.4,2080.6 519.4,1911.1 573.6,1928.7" fill="#ebebeb"/>
<polygon points="573.6,2098.2 687,2065.5 687,1896.1 573.6,1928.7" fill="#f4f4f4"/>
<polygon points="573.5,1924.9 689.9,1891.4 632.9,1872.9 516.5,1906.4" fill="#a6a6a6"/>
<polygon points="573.5,1929.6 516.5,1911.1 516.5,1906.4 573.5,1924.9" fill="#f0f0f0"/>
<polygon points="573.5,1929.6 689.9,1896.1 689.9,1891.4 573.5,1924.9" fill="#f7f7f7"/>
<path d="M567.7 2096.3L567.7 1935.4M525.2 2082.5L525.2 1921.6M579.7 2096.4L579.7 1935.5M680.9 2067.3L680.9 1906.5M573.6 1937.3L519.4 1919.7M573.6 1937.3L687 1904.7" stroke-width="0.5"/>
<polygon points="611.4,2087.3 617.2,2085.6 617.2,1924.8 611.4,1926.4" fill="#e4e4e4" stroke-width="0.5"/>
<polygon points="582.3,1982.4 608.5,1974.9 608.5,1951.1 582.3,1958.6" fill="#f9f9f9" stroke-width="0.5"/>
<path d="M579.7 2011.7L611.4 2002.6M617.2 1953.3L680.9 1935" stroke-width="0.5"/>
<polygon points="573.6,1924 519.4,1906.4 519.4,1900.1 573.6,1875" fill="#ebebeb"/>
<polygon points="573.6,1924 687,1891.4 687,1842.4 573.6,1875" fill="#f1f1f1"/>
<path d="M573.6 1899.2L687 1866.6M573.6 1893.5L687 1860.9" stroke-width="0.5"/>
<polygon points="368.3,1962.5 630.9,1887 627.5,1885.9 364.9,1961.4" fill="#f2f2f2"/>
<polygon points="368.3,1970.2 364.9,1969 364.9,1961.4 368.3,1962.5" fill="#ececec"/>
<polygon points="368.3,1970.2 630.9,1894.6 630.9,1887 368.3,1962.5" fill="#f7f7f7"/>
<polygon points="464,1918.8 470.6,1916.9 467.3,1915.8 460.7,1917.7" fill="#bdbdbd"/>
<polygon points="464,2092 460.7,2090.9 460.7,1917.7 464,1918.8" fill="#efefef"/>
<polygon points="464,2092 470.6,2090.1 470.6,1916.9 464,1918.8" fill="#f7f7f7"/>
<polygon points="470.7,1920.9 477.2,1919 473.9,1918 467.4,1919.9" fill="#bdbdbd"/>
<polygon points="470.7,2094.2 467.4,2093.1 467.4,1919.9 470.7,1920.9" fill="#efefef"/>
<polygon points="470.7,2094.2 477.2,2092.3 477.2,1919 470.7,1920.9" fill="#f7f7f7"/>
<circle cx="474.3" cy="1940.8" r="0.9" fill="#333" stroke="none"/>
<circle cx="474.3" cy="1952.2" r="0.9" fill="#333" stroke="none"/>
<polygon points="358.5,1949.1 365.1,1947.2 361.8,1946.1 355.2,1948" fill="#bdbdbd"/>
<polygon points="358.5,2140.4 355.2,2139.4 355.2,1948 358.5,1949.1" fill="#efefef"/>
<polygon points="358.5,2140.4 365.1,2138.5 365.1,1947.2 358.5,1949.1" fill="#f7f7f7"/>
<polygon points="365.2,1951.3 371.7,1949.4 368.4,1948.3 361.9,1950.2" fill="#bdbdbd"/>
<polygon points="365.2,2142.6 361.9,2141.5 361.9,1950.2 365.2,1951.3" fill="#efefef"/>
<polygon points="365.2,2142.6 371.7,2140.7 371.7,1949.4 365.2,1951.3" fill="#f7f7f7"/>
<circle cx="368.8" cy="1971.2" r="0.9" fill="#333" stroke="none"/>
<circle cx="368.8" cy="1982.6" r="0.9" fill="#333" stroke="none"/>
<circle cx="368.8" cy="2135.8" r="0.9" fill="#333" stroke="none"/>
<polygon points="374.3,1926.1 703.4,1831.4 703.4,1836.2 374.3,1930.9" fill="#efefef"/>
<polygon points="374.3,1926.1 370.2,1928 370.2,1932.8 374.3,1930.9" fill="#ededed"/>
<polygon points="399.7,1914.4 728.8,1819.7 728.8,1824.5 399.7,1919.1" fill="#efefef"/>
<polygon points="399.7,1914.4 395.6,1916.3 395.6,1921 399.7,1919.1" fill="#ededed"/>
<polygon points="427.1,1901.7 756.3,1807 756.3,1811.8 427.1,1906.5" fill="#efefef"/>
<polygon points="427.1,1901.7 423,1903.6 423,1908.4 427.1,1906.5" fill="#ededed"/>
<polygon points="826,1936.1 832.5,1934.2 829.2,1933.1 822.7,1935" fill="#bdbdbd"/>
<polygon points="826,2127.4 822.7,2126.3 822.7,1935 826,1936.1" fill="#efefef"/>
<polygon points="826,2127.4 832.5,2125.5 832.5,1934.2 826,1936.1" fill="#f7f7f7"/>
<polygon points="832.6,1938.2 839.2,1936.4 835.9,1935.3 829.3,1937.2" fill="#bdbdbd"/>
<polygon points="832.6,2129.6 829.3,2128.5 829.3,1937.2 832.6,1938.2" fill="#efefef"/>
<polygon points="832.6,2129.6 839.2,2127.7 839.2,1936.4 832.6,1938.2" fill="#f7f7f7"/>
<circle cx="836.3" cy="1958.1" r="0.9" fill="#333" stroke="none"/>
<circle cx="836.3" cy="1969.6" r="0.9" fill="#333" stroke="none"/>
<circle cx="836.3" cy="2122.8" r="0.9" fill="#333" stroke="none"/>
<polygon points="566.3,1866.5 423.6,1932.4 423.6,1940 566.3,1874.1" fill="#ececec"/>
<polygon points="670.4,1984.9 674.1,1983.8 465.8,1916.2 462.2,1917.3" fill="#f2f2f2"/>
<polygon points="670.4,1993.5 462.2,1925.8 462.2,1917.3 670.4,1984.9" fill="#ececec"/>
<polygon points="670.4,1993.5 674.1,1992.4 674.1,1983.8 670.4,1984.9" fill="#f7f7f7"/>
<polygon points="564.9,1950.6 553.9,1947.1 509.3,1895.6 520.3,1899.2" fill="#ececec"/>
<polygon points="567.7,1951.5 578.6,1955.1 623.3,1932.6 612.3,1929.1" fill="#ececec"/>
<polygon points="568.4,1951.8 564.2,1950.4 564.2,1867.7 568.4,1869" fill="#ececec"/>
<polygon points="568.4,1951.8 572,1950.7 572,1868 568.4,1869" fill="#f7f7f7"/>
<polygon points="566.3,1866.5 569.9,1865.4 712.6,2024 709,2025" fill="#f2f2f2"/>
<polygon points="566.3,1866.5 709,2025 709,2032.6 566.3,1874.1" fill="#ececec"/>
<polygon points="709,2025 712.6,2024 712.6,2031.6 709,2032.6" fill="#f7f7f7"/>
<polygon points="662.3,1983.2 668.9,1981.3 665.6,1980.2 659,1982.1" fill="#bdbdbd"/>
<polygon points="662.3,2174.5 659,2173.4 659,1982.1 662.3,1983.2" fill="#efefef"/>
<polygon points="662.3,2174.5 668.9,2172.6 668.9,1981.3 662.3,1983.2" fill="#f7f7f7"/>
<polygon points="669,1985.3 675.5,1983.4 672.2,1982.4 665.7,1984.2" fill="#bdbdbd"/>
<polygon points="669,2176.6 665.7,2175.6 665.7,1984.2 669,1985.3" fill="#efefef"/>
<polygon points="669,2176.6 675.5,2174.8 675.5,1983.4 669,1985.3" fill="#f7f7f7"/>
<circle cx="672.6" cy="2005.2" r="0.9" fill="#333" stroke="none"/>
<circle cx="672.6" cy="2016.6" r="0.9" fill="#333" stroke="none"/>
<circle cx="672.6" cy="2169.9" r="0.9" fill="#333" stroke="none"/>
<polygon points="566.8,2027 665.7,1998.5 662.3,1997.4 563.4,2025.9" fill="#f2f2f2"/>
<polygon points="566.8,2034.6 563.4,2033.5 563.4,2025.9 566.8,2027" fill="#ececec"/>
<polygon points="566.8,2034.6 665.7,2006.1 665.7,1998.5 566.8,2027" fill="#f7f7f7"/>
<polygon points="672.2,1996.6 829.3,1951.5 826,1950.4 668.9,1995.5" fill="#f2f2f2"/>
<polygon points="672.2,2004.3 668.9,2003.2 668.9,1995.5 672.2,1996.6" fill="#ececec"/>
<polygon points="672.2,2004.3 829.3,1959.1 829.3,1951.5 672.2,1996.6" fill="#f7f7f7"/>
<polygon points="460.8,1896.8 318.1,1962.7 318.1,1970.3 460.8,1904.4" fill="#ececec"/>
<polygon points="565,2015.2 568.6,2014.2 360.3,1946.6 356.7,1947.6" fill="#f2f2f2"/>
<polygon points="565,2023.8 356.7,1956.2 356.7,1947.6 565,2015.2" fill="#ececec"/>
<polygon points="565,2023.8 568.6,2022.7 568.6,2014.2 565,2015.2" fill="#f7f7f7"/>
<polygon points="459.5,1981 448.5,1977.4 403.9,1926 414.8,1929.5" fill="#ececec"/>
<polygon points="462.2,1981.9 473.2,1985.4 517.8,1963 506.8,1959.4" fill="#ececec"/>
<polygon points="462.9,1982.1 458.8,1980.7 458.8,1898 462.9,1899.4" fill="#ececec"/>
<polygon points="462.9,1982.1 466.5,1981 466.5,1898.3 462.9,1899.4" fill="#f7f7f7"/>
<polygon points="460.8,1896.8 464.5,1895.7 607.2,2054.3 603.5,2055.4" fill="#f2f2f2"/>
<polygon points="460.8,1896.8 603.5,2055.4 603.5,2063 460.8,1904.4" fill="#ececec"/>
<polygon points="603.5,2055.4 607.2,2054.3 607.2,2061.9 603.5,2063" fill="#f7f7f7"/>
<polygon points="358.5,1949.1 365.1,1947.2 361.8,1946.1 355.2,1948" fill="#bdbdbd"/>
<polygon points="358.5,2140.4 355.2,2139.4 355.2,1948 358.5,1949.1" fill="#efefef"/>
<polygon points="358.5,2140.4 365.1,2138.5 365.1,1947.2 358.5,1949.1" fill="#f7f7f7"/>
<polygon points="365.2,1951.3 371.7,1949.4 368.4,1948.3 361.9,1950.2" fill="#bdbdbd"/>
<polygon points="365.2,2142.6 361.9,2141.5 361.9,1950.2 365.2,1951.3" fill="#efefef"/>
<polygon points="365.2,2142.6 371.7,2140.7 371.7,1949.4 365.2,1951.3" fill="#f7f7f7"/>
<circle cx="368.8" cy="1971.2" r="0.9" fill="#333" stroke="none"/>
<circle cx="368.8" cy="1982.6" r="0.9" fill="#333" stroke="none"/>
<circle cx="368.8" cy="2135.8" r="0.9" fill="#333" stroke="none"/>
<polygon points="556.8,2013.5 563.4,2011.6 560.1,2010.5 553.6,2012.4" fill="#bdbdbd"/>
<polygon points="556.8,2204.8 553.6,2203.7 553.6,2012.4 556.8,2013.5" fill="#efefef"/>
<polygon points="556.8,2204.8 563.4,2202.9 563.4,2011.6 556.8,2013.5" fill="#f7f7f7"/>
<polygon points="563.5,2015.6 570,2013.8 566.8,2012.7 560.2,2014.6" fill="#bdbdbd"/>
<polygon points="563.5,2207 560.2,2205.9 560.2,2014.6 563.5,2015.6" fill="#efefef"/>
<polygon points="563.5,2207 570,2205.1 570,2013.8 563.5,2015.6" fill="#f7f7f7"/>
<circle cx="567.1" cy="2035.5" r="0.9" fill="#333" stroke="none"/>
<circle cx="567.1" cy="2047.0" r="0.9" fill="#333" stroke="none"/>
<circle cx="567.1" cy="2200.2" r="0.9" fill="#333" stroke="none"/>
<polygon points="436.4,1907.9 765.5,1813.3 761.4,1808.7 432.3,1903.4" fill="#f4f4f4"/>
<polygon points="436.4,1907.9 765.5,1813.3 765.5,1818 436.4,1912.7" fill="#e6e6e6"/>
<polygon points="436.4,1907.9 432.3,1903.4 432.3,1908.1 436.4,1912.7" fill="#ededed"/>
<polygon points="463.8,1938.4 793,1843.8 788.9,1839.2 459.7,1933.9" fill="#f4f4f4"/>
<polygon points="463.8,1938.4 793,1843.8 793,1848.5 463.8,1943.2" fill="#e6e6e6"/>
<polygon points="463.8,1938.4 459.7,1933.9 459.7,1938.6 463.8,1943.2" fill="#ededed"/>
<polygon points="489.2,1966.7 818.4,1872 814.3,1867.4 485.1,1962.1" fill="#f4f4f4"/>
<polygon points="489.2,1966.7 818.4,1872 818.4,1876.7 489.2,1971.4" fill="#e6e6e6"/>
<polygon points="489.2,1966.7 485.1,1962.1 485.1,1966.8 489.2,1971.4" fill="#ededed"/>
<polygon points="518.7,1999.4 847.9,1904.8 843.8,1900.2 514.6,1994.9" fill="#f4f4f4"/>
<polygon points="518.7,1999.4 847.9,1904.8 847.9,1909.5 518.7,2004.2" fill="#e6e6e6"/>
<polygon points="518.7,1999.4 514.6,1994.9 514.6,1999.6 518.7,2004.2" fill="#ededed"/>
<polygon points="544.8,2028.4 873.9,1933.8 869.8,1929.2 540.7,2023.8" fill="#f4f4f4"/>
<polygon points="544.8,2028.4 873.9,1933.8 873.9,1938.5 544.8,2033.2" fill="#e6e6e6"/>
<polygon points="544.8,2028.4 540.7,2023.8 540.7,2028.6 544.8,2033.2" fill="#ededed"/>
<polygon points="572.2,2058.9 901.4,1964.3 897.3,1959.7 568.1,2054.3" fill="#f4f4f4"/>
<polygon points="572.2,2058.9 901.4,1964.3 901.4,1969 572.2,2063.7" fill="#e6e6e6"/>
<polygon points="572.2,2058.9 568.1,2054.3 568.1,2059.1 572.2,2063.7" fill="#ededed"/></g>
<g id="st5"><polygon points="2324.8,473.8 2325.2,475.3 2326.4,476.7 2328.4,478 2331.1,479.2 2334.4,480.2 2338.3,481 2342.5,481.6 2347.1,482 2351.8,482.1 2356.5,482 2361,481.6 2365.3,481 2369.1,480.2 2372.5,479.2 2375.2,478 2377.1,476.7 2378.4,475.3 2378.8,473.9 2378.8,331.1 2378.4,332.5 2377.1,333.9 2375.2,335.2 2372.5,336.4 2369.1,337.4 2365.3,338.2 2361,338.8 2356.5,339.2 2351.8,339.3 2347.1,339.2 2342.5,338.8 2338.3,338.2 2334.4,337.4 2331.1,336.4 2328.4,335.2 2326.4,333.9 2325.2,332.5 2324.8,331.1" fill="url(#cylg)"/>
<polygon points="2081.2,550.5 2632.8,391.9 2320.8,290.6 1769.2,449.2" fill="#a6a6a6" stroke="#666" stroke-width="0.8"/>
<polygon points="2324.8,331.1 2325.2,332.5 2326.4,333.9 2328.4,335.2 2331.1,336.4 2334.4,337.4 2338.3,338.2 2342.5,338.8 2347.1,339.2 2351.8,339.3 2356.5,339.2 2361,338.8 2365.3,338.2 2369.1,337.4 2372.5,336.4 2375.2,335.2 2377.1,333.9 2378.4,332.5 2378.8,331.1 2378.8,324.4 2378.4,325.9 2377.1,327.3 2375.2,328.6 2372.5,329.7 2369.1,330.8 2365.3,331.6 2361,332.2 2356.5,332.5 2351.8,332.7 2347.1,332.5 2342.5,332.2 2338.3,331.6 2334.4,330.7 2331.1,329.7 2328.4,328.5 2326.4,327.2 2325.2,325.8 2324.8,324.4" fill="url(#cylgd)"/>
<polygon points="2371.4,318.8 2367.9,317.8 2363.9,317.1 2359.5,316.5 2354.9,316.2 2350.2,316.2 2345.6,316.4 2341.1,316.8 2336.9,317.5 2333.3,318.4 2330.1,319.5 2327.7,320.7 2325.9,322 2325,323.4 2324.8,324.9 2325.5,326.3 2327,327.7 2329.2,328.9 2332.1,330.1 2335.7,331 2339.7,331.8 2344,332.3 2348.6,332.6 2353.3,332.7 2358,332.5 2362.5,332 2366.6,331.3 2370.3,330.4 2373.4,329.4 2375.9,328.1 2377.6,326.8 2378.6,325.4 2378.7,324 2378.1,322.5 2376.6,321.2 2374.3,319.9" fill="#a6a6a6"/>
<polygon points="2021.7,405.8 2043.5,399.5 2022.9,392.8 2001.1,399.1" fill="#a6a6a6"/>
<polygon points="2021.7,417.2 2001.1,410.5 2001.1,399.1 2021.7,405.8" fill="#ebebeb"/>
<polygon points="2021.7,417.2 2043.5,410.9 2043.5,399.5 2021.7,405.8" fill="#f5f5f5"/>
<polygon points="2489.1,392.8 2510.9,386.5 2490.4,379.8 2468.5,386.1" fill="#a6a6a6"/>
<polygon points="2489.1,404.2 2468.5,397.5 2468.5,386.1 2489.1,392.8" fill="#ebebeb"/>
<polygon points="2489.1,404.2 2510.9,397.9 2510.9,386.5 2489.1,392.8" fill="#f5f5f5"/>
<polygon points="2325.5,439.8 2347.3,433.6 2326.7,426.9 2304.9,433.1" fill="#a6a6a6"/>
<polygon points="2325.5,451.2 2304.9,444.6 2304.9,433.1 2325.5,439.8" fill="#ebebeb"/>
<polygon points="2325.5,451.2 2347.3,445 2347.3,433.6 2325.5,439.8" fill="#f5f5f5"/>
<polygon points="2220,470.2 2241.8,463.9 2221.2,457.2 2199.4,463.5" fill="#a6a6a6"/>
<polygon points="2220,481.6 2199.4,474.9 2199.4,463.5 2220,470.2" fill="#ebebeb"/>
<polygon points="2220,481.6 2241.8,475.3 2241.8,463.9 2220,470.2" fill="#f5f5f5"/>
<polygon points="2123,342.5 2129.6,340.7 2126.3,339.6 2119.7,341.5" fill="#bdbdbd"/>
<polygon points="2123,359.7 2119.7,358.6 2119.7,341.5 2123,342.5" fill="#efefef"/>
<polygon points="2123,359.7 2129.6,357.8 2129.6,340.7 2123,342.5" fill="#f7f7f7"/>
<polygon points="2129.7,344.7 2136.2,342.8 2132.9,341.7 2126.4,343.6" fill="#bdbdbd"/>
<polygon points="2129.7,361.8 2126.4,360.8 2126.4,343.6 2129.7,344.7" fill="#efefef"/>
<polygon points="2129.7,361.8 2136.2,360 2136.2,342.8 2129.7,344.7" fill="#f7f7f7"/>
<polygon points="2017.5,372.9 2024.1,371 2020.8,369.9 2014.2,371.8" fill="#bdbdbd"/>
<polygon points="2017.5,399.5 2014.2,398.5 2014.2,371.8 2017.5,372.9" fill="#efefef"/>
<polygon points="2017.5,399.5 2024.1,397.6 2024.1,371 2017.5,372.9" fill="#f7f7f7"/>
<polygon points="2024.2,375 2030.7,373.2 2027.4,372.1 2020.9,374" fill="#bdbdbd"/>
<polygon points="2024.2,401.7 2020.9,400.6 2020.9,374 2024.2,375" fill="#efefef"/>
<polygon points="2024.2,401.7 2030.7,399.8 2030.7,373.2 2024.2,375" fill="#f7f7f7"/>
<circle cx="2027.8" cy="394.9" r="0.9" fill="#333" stroke="none"/>
<circle cx="2027.8" cy="394.9" r="0.9" fill="#333" stroke="none"/>
<polygon points="2222.5,448 2498.2,368.7 2289.9,301.1 2014.2,380.4" fill="#a6a6a6" stroke-width="0.6"/>
<polygon points="2212.6,451.4 2024.2,390.3 2024.2,383.6 2212.6,444.8" fill="#efefef"/>
<polygon points="2212.6,460 2024.2,398.8 2024.2,393.1 2212.6,454.3" fill="#e4e4e4" stroke-width="0.5"/>
<polygon points="2229,461.3 2328,432.9 2328,417.7 2229,446.1" fill="#f7f7f7"/>
<path d="M2229 456.6L2328 428.1" stroke-width="0.5"/>
<polygon points="2331.8,430.1 2488.9,384.9 2488.9,379.2 2331.8,424.4" fill="#f3f3f3"/>
<polygon points="2365.8,415.9 2354.2,412.1 2365.8,408.3" fill="#efefef" stroke-width="0.5"/>
<polygon points="2365.8,415.9 2370.2,414.6 2370.2,407 2365.8,408.3" fill="#f7f7f7" stroke-width="0.5"/>
<polygon points="2396.4,407.1 2384.7,403.3 2396.4,399.5" fill="#efefef" stroke-width="0.5"/>
<polygon points="2396.4,407.1 2400.8,405.8 2400.8,398.2 2396.4,399.5" fill="#f7f7f7" stroke-width="0.5"/>
<polygon points="2426.9,398.3 2415.3,394.5 2426.9,390.7" fill="#efefef" stroke-width="0.5"/>
<polygon points="2426.9,398.3 2431.3,397 2431.3,389.4 2426.9,390.7" fill="#f7f7f7" stroke-width="0.5"/>
<polygon points="2457.5,389.5 2445.8,385.7 2457.5,381.9" fill="#efefef" stroke-width="0.5"/>
<polygon points="2457.5,389.5 2461.9,388.3 2461.9,380.6 2457.5,381.9" fill="#f7f7f7" stroke-width="0.5"/>
<polygon points="2334.5,417.7 2491.6,372.5 2491.6,370.6 2334.5,415.8" fill="#f7f7f7" stroke-width="0.5"/>
<polygon points="2088.7,157.2 1946,223.1 1951.4,238.1 2088.7,174.7" fill="#ececec"/>
<polygon points="1951.4,238.1 2283.5,142.6 2420.7,79.2 2088.7,174.7" fill="#f6f6f6" stroke-width="0.5"/>
<polygon points="2281.1,158 2297.1,153.4 2288.9,150.7 2272.9,155.3" fill="#a6a6a6"/>
<polygon points="2281.1,163.7 2272.9,161 2272.9,155.3 2281.1,158" fill="#ececec"/>
<polygon points="2281.1,163.7 2297.1,159.1 2297.1,153.4 2281.1,158" fill="#f7f7f7"/>
<polygon points="2309.7,147.2 2325.7,142.6 2317.5,139.9 2301.5,144.5" fill="#a6a6a6"/>
<polygon points="2309.7,152.9 2301.5,150.2 2301.5,144.5 2309.7,147.2" fill="#ececec"/>
<polygon points="2309.7,152.9 2325.7,148.3 2325.7,142.6 2309.7,147.2" fill="#f7f7f7"/>
<polygon points="2260.9,145.3 2261.3,146.7 2262.4,148 2264.3,149.2 2266.8,150.3 2269.9,151.3 2273.6,152 2277.5,152.6 2281.8,153 2286.2,153.1 2290.6,153 2294.9,152.6 2298.9,152.1 2302.5,151.3 2305.6,150.3 2308.1,149.2 2310,148 2311.1,146.7 2311.5,145.4 2311.5,21.1 2311.1,22.5 2310,23.8 2308.1,25 2305.6,26.1 2302.5,27.1 2298.9,27.8 2294.9,28.4 2290.6,28.7 2286.2,28.9 2281.8,28.7 2277.5,28.4 2273.6,27.8 2269.9,27 2266.8,26.1 2264.3,25 2262.4,23.8 2261.3,22.5 2260.9,21.1" fill="url(#tank)"/>
<polygon points="2304.6,15.8 2301.3,14.9 2297.6,14.2 2293.5,13.7 2289.1,13.5 2284.7,13.4 2280.4,13.6 2276.2,14 2272.3,14.7 2268.8,15.5 2265.9,16.5 2263.6,17.6 2262,18.9 2261.1,20.2 2260.9,21.6 2261.6,22.9 2263,24.2 2265.1,25.4 2267.8,26.4 2271.1,27.3 2274.8,28 2278.9,28.5 2283.3,28.8 2287.7,28.9 2292,28.7 2296.2,28.2 2300.1,27.6 2303.6,26.8 2306.5,25.8 2308.8,24.6 2310.4,23.4 2311.3,22 2311.5,20.7 2310.8,19.4 2309.4,18.1 2307.3,16.9" fill="url(#tanktop)"/>
<polygon points="2270.6,21.1 2270.8,21.9 2271.5,22.8 2272.7,23.5 2274.3,24.2 2276.2,24.8 2278.4,25.3 2280.9,25.6 2283.5,25.8 2286.2,25.9 2288.9,25.8 2291.5,25.6 2294,25.3 2296.2,24.8 2298.2,24.2 2299.7,23.5 2300.9,22.8 2301.6,22 2301.8,21.1 2301.8,12.1 2301.6,12.9 2300.9,13.7 2299.7,14.5 2298.2,15.2 2296.2,15.7 2294,16.2 2291.5,16.6 2288.9,16.8 2286.2,16.9 2283.5,16.8 2280.9,16.6 2278.4,16.2 2276.2,15.7 2274.3,15.1 2272.7,14.5 2271.5,13.7 2270.8,12.9 2270.6,12.1" fill="url(#tank)"/>
<polygon points="2297.5,8.8 2295.5,8.3 2293.2,7.8 2290.7,7.5 2288,7.4 2285.3,7.3 2282.6,7.4 2280,7.7 2277.6,8.1 2275.5,8.6 2273.7,9.2 2272.3,9.9 2271.3,10.7 2270.7,11.5 2270.6,12.4 2271,13.2 2271.9,14 2273.2,14.7 2274.9,15.4 2276.9,15.9 2279.2,16.3 2281.7,16.7 2284.4,16.8 2287.1,16.8 2289.8,16.7 2292.4,16.5 2294.8,16.1 2296.9,15.6 2298.7,14.9 2300.1,14.2 2301.1,13.5 2301.7,12.7 2301.8,11.8 2301.4,11 2300.5,10.2 2299.2,9.5" fill="#a6a6a6"/>
<polygon points="2232.6,357.3 2178.4,339.7 2178.4,170.2 2232.6,187.8" fill="#ebebeb"/>
<polygon points="2232.6,357.3 2346,324.6 2346,155.2 2232.6,187.8" fill="#f4f4f4"/>
<polygon points="2232.5,184 2348.9,150.5 2291.9,132 2175.5,165.5" fill="#a6a6a6"/>
<polygon points="2232.5,188.7 2175.5,170.2 2175.5,165.5 2232.5,184" fill="#f0f0f0"/>
<polygon points="2232.5,188.7 2348.9,155.2 2348.9,150.5 2232.5,184" fill="#f7f7f7"/>
<path d="M2226.7 355.4L2226.7 194.5M2184.2 341.6L2184.2 180.7M2238.7 355.5L2238.7 194.6M2339.9 326.4L2339.9 165.6M2232.6 196.4L2178.4 178.8M2232.6 196.4L2346 163.8" stroke-width="0.5"/>
<polygon points="2270.4,346.4 2276.2,344.7 2276.2,183.9 2270.4,185.5" fill="#e4e4e4" stroke-width="0.5"/>
<polygon points="2241.3,241.5 2267.5,234 2267.5,210.2 2241.3,217.7" fill="#f9f9f9" stroke-width="0.5"/>
<path d="M2238.7 270.8L2270.4 261.7M2276.2 212.4L2339.9 194.1" stroke-width="0.5"/>
<polygon points="2027.3,221.6 2289.9,146.1 2286.5,145 2023.9,220.5" fill="#f2f2f2"/>
<polygon points="2027.3,229.3 2023.9,228.1 2023.9,220.5 2027.3,221.6" fill="#ececec"/>
<polygon points="2027.3,229.3 2289.9,153.7 2289.9,146.1 2027.3,221.6" fill="#f7f7f7"/>
<polygon points="2123,177.9 2129.6,176 2126.3,174.9 2119.7,176.8" fill="#bdbdbd"/>
<polygon points="2123,351.1 2119.7,350 2119.7,176.8 2123,177.9" fill="#efefef"/>
<polygon points="2123,351.1 2129.6,349.2 2129.6,176 2123,177.9" fill="#f7f7f7"/>
<polygon points="2129.7,180 2136.2,178.1 2132.9,177.1 2126.4,179" fill="#bdbdbd"/>
<polygon points="2129.7,353.3 2126.4,352.2 2126.4,179 2129.7,180" fill="#efefef"/>
<polygon points="2129.7,353.3 2136.2,351.4 2136.2,178.1 2129.7,180" fill="#f7f7f7"/>
<circle cx="2133.3" cy="199.9" r="0.9" fill="#333" stroke="none"/>
<circle cx="2133.3" cy="211.3" r="0.9" fill="#333" stroke="none"/>
<polygon points="2017.5,208.2 2024.1,206.3 2020.8,205.2 2014.2,207.1" fill="#bdbdbd"/>
<polygon points="2017.5,399.5 2014.2,398.5 2014.2,207.1 2017.5,208.2" fill="#efefef"/>
<polygon points="2017.5,399.5 2024.1,397.6 2024.1,206.3 2017.5,208.2" fill="#f7f7f7"/>
<polygon points="2024.2,210.4 2030.7,208.5 2027.4,207.4 2020.9,209.3" fill="#bdbdbd"/>
<polygon points="2024.2,401.7 2020.9,400.6 2020.9,209.3 2024.2,210.4" fill="#efefef"/>
<polygon points="2024.2,401.7 2030.7,399.8 2030.7,208.5 2024.2,210.4" fill="#f7f7f7"/>
<circle cx="2027.8" cy="230.3" r="0.9" fill="#333" stroke="none"/>
<circle cx="2027.8" cy="241.7" r="0.9" fill="#333" stroke="none"/>
<circle cx="2027.8" cy="394.9" r="0.9" fill="#333" stroke="none"/>
<polygon points="2485,195.2 2491.5,193.3 2488.2,192.2 2481.7,194.1" fill="#bdbdbd"/>
<polygon points="2485,386.5 2481.7,385.4 2481.7,194.1 2485,195.2" fill="#efefef"/>
<polygon points="2485,386.5 2491.5,384.6 2491.5,193.3 2485,195.2" fill="#f7f7f7"/>
<polygon points="2491.6,197.3 2498.2,195.5 2494.9,194.4 2488.3,196.3" fill="#bdbdbd"/>
<polygon points="2491.6,388.7 2488.3,387.6 2488.3,196.3 2491.6,197.3" fill="#efefef"/>
<polygon points="2491.6,388.7 2498.2,386.8 2498.2,195.5 2491.6,197.3" fill="#f7f7f7"/>
<circle cx="2495.3" cy="217.2" r="0.9" fill="#333" stroke="none"/>
<circle cx="2495.3" cy="228.7" r="0.9" fill="#333" stroke="none"/>
<circle cx="2495.3" cy="381.9" r="0.9" fill="#333" stroke="none"/>
<polygon points="2225.3,125.6 2082.6,191.5 2082.6,199.1 2225.3,133.2" fill="#ececec"/>
<polygon points="2329.4,244 2333.1,242.9 2124.8,175.3 2121.2,176.4" fill="#f2f2f2"/>
<polygon points="2329.4,252.6 2121.2,184.9 2121.2,176.4 2329.4,244" fill="#ececec"/>
<polygon points="2329.4,252.6 2333.1,251.5 2333.1,242.9 2329.4,244" fill="#f7f7f7"/>
<polygon points="2223.9,209.7 2212.9,206.2 2168.3,154.7 2179.3,158.3" fill="#ececec"/>
<polygon points="2226.7,210.6 2237.6,214.2 2282.3,191.7 2271.3,188.2" fill="#ececec"/>
<polygon points="2227.4,210.9 2223.2,209.5 2223.2,126.8 2227.4,128.1" fill="#ececec"/>
<polygon points="2227.4,210.9 2231,209.8 2231,127.1 2227.4,128.1" fill="#f7f7f7"/>
<polygon points="2225.3,125.6 2228.9,124.5 2371.6,283.1 2368,284.1" fill="#f2f2f2"/>
<polygon points="2225.3,125.6 2368,284.1 2368,291.7 2225.3,133.2" fill="#ececec"/>
<polygon points="2368,284.1 2371.6,283.1 2371.6,290.7 2368,291.7" fill="#f7f7f7"/>
<polygon points="2321.3,242.3 2327.9,240.4 2324.6,239.3 2318,241.2" fill="#bdbdbd"/>
<polygon points="2321.3,433.6 2318,432.5 2318,241.2 2321.3,242.3" fill="#efefef"/>
<polygon points="2321.3,433.6 2327.9,431.7 2327.9,240.4 2321.3,242.3" fill="#f7f7f7"/>
<polygon points="2328,244.4 2334.5,242.5 2331.2,241.5 2324.7,243.3" fill="#bdbdbd"/>
<polygon points="2328,435.7 2324.7,434.7 2324.7,243.3 2328,244.4" fill="#efefef"/>
<polygon points="2328,435.7 2334.5,433.9 2334.5,242.5 2328,244.4" fill="#f7f7f7"/>
<circle cx="2331.6" cy="264.3" r="0.9" fill="#333" stroke="none"/>
<circle cx="2331.6" cy="275.7" r="0.9" fill="#333" stroke="none"/>
<circle cx="2331.6" cy="429.0" r="0.9" fill="#333" stroke="none"/>
<polygon points="2225.8,286.1 2324.7,257.6 2321.3,256.5 2222.4,285" fill="#f2f2f2"/>
<polygon points="2225.8,293.7 2222.4,292.6 2222.4,285 2225.8,286.1" fill="#ececec"/>
<polygon points="2225.8,293.7 2324.7,265.2 2324.7,257.6 2225.8,286.1" fill="#f7f7f7"/>
<polygon points="2331.2,255.7 2488.3,210.6 2485,209.5 2327.9,254.6" fill="#f2f2f2"/>
<polygon points="2331.2,263.4 2327.9,262.3 2327.9,254.6 2331.2,255.7" fill="#ececec"/>
<polygon points="2331.2,263.4 2488.3,218.2 2488.3,210.6 2331.2,255.7" fill="#f7f7f7"/>
<polygon points="2119.8,155.9 1977.1,221.8 1977.1,229.4 2119.8,163.5" fill="#ececec"/>
<polygon points="2224,274.3 2227.6,273.3 2019.3,205.7 2015.7,206.7" fill="#f2f2f2"/>
<polygon points="2224,282.9 2015.7,215.3 2015.7,206.7 2224,274.3" fill="#ececec"/>
<polygon points="2224,282.9 2227.6,281.8 2227.6,273.3 2224,274.3" fill="#f7f7f7"/>
<polygon points="2118.5,240.1 2107.5,236.5 2062.9,185.1 2073.8,188.6" fill="#ececec"/>
<polygon points="2121.2,241 2132.2,244.5 2176.8,222.1 2165.8,218.5" fill="#ececec"/>
<polygon points="2121.9,241.2 2117.8,239.8 2117.8,157.1 2121.9,158.5" fill="#ececec"/>
<polygon points="2121.9,241.2 2125.5,240.1 2125.5,157.4 2121.9,158.5" fill="#f7f7f7"/>
<polygon points="2119.8,155.9 2123.5,154.8 2266.2,313.4 2262.5,314.5" fill="#f2f2f2"/>
<polygon points="2119.8,155.9 2262.5,314.5 2262.5,322.1 2119.8,163.5" fill="#ececec"/>
<polygon points="2262.5,314.5 2266.2,313.4 2266.2,321 2262.5,322.1" fill="#f7f7f7"/>
<polygon points="2017.5,208.2 2024.1,206.3 2020.8,205.2 2014.2,207.1" fill="#bdbdbd"/>
<polygon points="2017.5,399.5 2014.2,398.5 2014.2,207.1 2017.5,208.2" fill="#efefef"/>
<polygon points="2017.5,399.5 2024.1,397.6 2024.1,206.3 2017.5,208.2" fill="#f7f7f7"/>
<polygon points="2024.2,210.4 2030.7,208.5 2027.4,207.4 2020.9,209.3" fill="#bdbdbd"/>
<polygon points="2024.2,401.7 2020.9,400.6 2020.9,209.3 2024.2,210.4" fill="#efefef"/>
<polygon points="2024.2,401.7 2030.7,399.8 2030.7,208.5 2024.2,210.4" fill="#f7f7f7"/>
<circle cx="2027.8" cy="230.3" r="0.9" fill="#333" stroke="none"/>
<circle cx="2027.8" cy="241.7" r="0.9" fill="#333" stroke="none"/>
<circle cx="2027.8" cy="394.9" r="0.9" fill="#333" stroke="none"/>
<polygon points="2215.8,272.6 2222.4,270.7 2219.1,269.6 2212.6,271.5" fill="#bdbdbd"/>
<polygon points="2215.8,463.9 2212.6,462.8 2212.6,271.5 2215.8,272.6" fill="#efefef"/>
<polygon points="2215.8,463.9 2222.4,462 2222.4,270.7 2215.8,272.6" fill="#f7f7f7"/>
<polygon points="2222.5,274.7 2229,272.9 2225.8,271.8 2219.2,273.7" fill="#bdbdbd"/>
<polygon points="2222.5,466.1 2219.2,465 2219.2,273.7 2222.5,274.7" fill="#efefef"/>
<polygon points="2222.5,466.1 2229,464.2 2229,272.9 2222.5,274.7" fill="#f7f7f7"/>
<circle cx="2226.1" cy="294.6" r="0.9" fill="#333" stroke="none"/>
<circle cx="2226.1" cy="306.1" r="0.9" fill="#333" stroke="none"/>
<circle cx="2226.1" cy="459.3" r="0.9" fill="#333" stroke="none"/>
<polygon points="2088.7,157.2 2420.7,61.7 2563.4,220.3 2231.4,315.8" fill="#e5e5e5"/>
<path d="M2189.3 128.3L2332 286.9M2322.1 90.1L2464.8 248.7M2145.1 219.9L2477.1 124.4M2176 254.3L2508.1 158.8" stroke-width="0.6"/>
<polygon points="2088.7,157.2 2231.4,315.8 2226,327.3 2088.7,174.7" fill="#ececec"/>
<polygon points="2231.4,315.8 2563.4,220.3 2558,231.8 2226,327.3" fill="#c9c9c9"/></g>
<g id="st6"><polygon points="2324.8,1053.8 2325.2,1055.3 2326.4,1056.7 2328.4,1058 2331.1,1059.2 2334.4,1060.2 2338.3,1061 2342.5,1061.6 2347.1,1062 2351.8,1062.1 2356.5,1062 2361,1061.6 2365.3,1061 2369.1,1060.2 2372.5,1059.2 2375.2,1058 2377.1,1056.7 2378.4,1055.3 2378.8,1053.9 2378.8,911.1 2378.4,912.5 2377.1,913.9 2375.2,915.2 2372.5,916.4 2369.1,917.4 2365.3,918.2 2361,918.8 2356.5,919.2 2351.8,919.3 2347.1,919.2 2342.5,918.8 2338.3,918.2 2334.4,917.4 2331.1,916.4 2328.4,915.2 2326.4,913.9 2325.2,912.5 2324.8,911.1" fill="url(#cylg)"/>
<polygon points="2081.2,1130.5 2632.8,971.9 2320.8,870.6 1769.2,1029.2" fill="#a6a6a6" stroke="#666" stroke-width="0.8"/>
<polygon points="2324.8,911.1 2325.2,912.5 2326.4,913.9 2328.4,915.2 2331.1,916.4 2334.4,917.4 2338.3,918.2 2342.5,918.8 2347.1,919.2 2351.8,919.3 2356.5,919.2 2361,918.8 2365.3,918.2 2369.1,917.4 2372.5,916.4 2375.2,915.2 2377.1,913.9 2378.4,912.5 2378.8,911.1 2378.8,904.4 2378.4,905.9 2377.1,907.3 2375.2,908.6 2372.5,909.7 2369.1,910.8 2365.3,911.6 2361,912.2 2356.5,912.5 2351.8,912.7 2347.1,912.5 2342.5,912.2 2338.3,911.6 2334.4,910.7 2331.1,909.7 2328.4,908.5 2326.4,907.2 2325.2,905.8 2324.8,904.4" fill="url(#cylgd)"/>
<polygon points="2371.4,898.8 2367.9,897.8 2363.9,897.1 2359.5,896.5 2354.9,896.2 2350.2,896.2 2345.6,896.4 2341.1,896.8 2336.9,897.5 2333.3,898.4 2330.1,899.5 2327.7,900.7 2325.9,902 2325,903.4 2324.8,904.9 2325.5,906.3 2327,907.7 2329.2,908.9 2332.1,910.1 2335.7,911 2339.7,911.8 2344,912.3 2348.6,912.6 2353.3,912.7 2358,912.5 2362.5,912 2366.6,911.3 2370.3,910.4 2373.4,909.4 2375.9,908.1 2377.6,906.8 2378.6,905.4 2378.7,904 2378.1,902.5 2376.6,901.2 2374.3,899.9" fill="#a6a6a6"/>
<polygon points="2021.7,985.8 2043.5,979.5 2022.9,972.8 2001.1,979.1" fill="#a6a6a6"/>
<polygon points="2021.7,997.2 2001.1,990.5 2001.1,979.1 2021.7,985.8" fill="#ebebeb"/>
<polygon points="2021.7,997.2 2043.5,990.9 2043.5,979.5 2021.7,985.8" fill="#f5f5f5"/>
<polygon points="2489.1,972.8 2510.9,966.5 2490.4,959.8 2468.5,966.1" fill="#a6a6a6"/>
<polygon points="2489.1,984.2 2468.5,977.5 2468.5,966.1 2489.1,972.8" fill="#ebebeb"/>
<polygon points="2489.1,984.2 2510.9,977.9 2510.9,966.5 2489.1,972.8" fill="#f5f5f5"/>
<polygon points="2325.5,1019.8 2347.3,1013.6 2326.7,1006.9 2304.9,1013.1" fill="#a6a6a6"/>
<polygon points="2325.5,1031.2 2304.9,1024.6 2304.9,1013.1 2325.5,1019.8" fill="#ebebeb"/>
<polygon points="2325.5,1031.2 2347.3,1025 2347.3,1013.6 2325.5,1019.8" fill="#f5f5f5"/>
<polygon points="2220,1050.2 2241.8,1043.9 2221.2,1037.2 2199.4,1043.5" fill="#a6a6a6"/>
<polygon points="2220,1061.6 2199.4,1054.9 2199.4,1043.5 2220,1050.2" fill="#ebebeb"/>
<polygon points="2220,1061.6 2241.8,1055.3 2241.8,1043.9 2220,1050.2" fill="#f5f5f5"/>
<polygon points="2123,922.5 2129.6,920.7 2126.3,919.6 2119.7,921.5" fill="#bdbdbd"/>
<polygon points="2123,939.7 2119.7,938.6 2119.7,921.5 2123,922.5" fill="#efefef"/>
<polygon points="2123,939.7 2129.6,937.8 2129.6,920.7 2123,922.5" fill="#f7f7f7"/>
<polygon points="2129.7,924.7 2136.2,922.8 2132.9,921.7 2126.4,923.6" fill="#bdbdbd"/>
<polygon points="2129.7,941.8 2126.4,940.8 2126.4,923.6 2129.7,924.7" fill="#efefef"/>
<polygon points="2129.7,941.8 2136.2,940 2136.2,922.8 2129.7,924.7" fill="#f7f7f7"/>
<polygon points="2017.5,952.9 2024.1,951 2020.8,949.9 2014.2,951.8" fill="#bdbdbd"/>
<polygon points="2017.5,979.5 2014.2,978.5 2014.2,951.8 2017.5,952.9" fill="#efefef"/>
<polygon points="2017.5,979.5 2024.1,977.6 2024.1,951 2017.5,952.9" fill="#f7f7f7"/>
<polygon points="2024.2,955 2030.7,953.2 2027.4,952.1 2020.9,954" fill="#bdbdbd"/>
<polygon points="2024.2,981.7 2020.9,980.6 2020.9,954 2024.2,955" fill="#efefef"/>
<polygon points="2024.2,981.7 2030.7,979.8 2030.7,953.2 2024.2,955" fill="#f7f7f7"/>
<circle cx="2027.8" cy="974.9" r="0.9" fill="#333" stroke="none"/>
<circle cx="2027.8" cy="974.9" r="0.9" fill="#333" stroke="none"/>
<polygon points="2222.5,1028 2498.2,948.7 2289.9,881.1 2014.2,960.4" fill="#a6a6a6" stroke-width="0.6"/>
<polygon points="2212.6,1031.4 2024.2,970.3 2024.2,963.6 2212.6,1024.8" fill="#efefef"/>
<polygon points="2212.6,1040 2024.2,978.8 2024.2,973.1 2212.6,1034.3" fill="#e4e4e4" stroke-width="0.5"/>
<polygon points="2229,1041.3 2328,1012.9 2328,997.7 2229,1026.1" fill="#f7f7f7"/>
<path d="M2229 1036.6L2328 1008.1" stroke-width="0.5"/>
<polygon points="2331.8,1010.1 2488.9,964.9 2488.9,959.2 2331.8,1004.4" fill="#f3f3f3"/>
<polygon points="2365.8,995.9 2354.2,992.1 2365.8,988.3" fill="#efefef" stroke-width="0.5"/>
<polygon points="2365.8,995.9 2370.2,994.6 2370.2,987 2365.8,988.3" fill="#f7f7f7" stroke-width="0.5"/>
<polygon points="2396.4,987.1 2384.7,983.3 2396.4,979.5" fill="#efefef" stroke-width="0.5"/>
<polygon points="2396.4,987.1 2400.8,985.8 2400.8,978.2 2396.4,979.5" fill="#f7f7f7" stroke-width="0.5"/>
<polygon points="2426.9,978.3 2415.3,974.5 2426.9,970.7" fill="#efefef" stroke-width="0.5"/>
<polygon points="2426.9,978.3 2431.3,977 2431.3,969.4 2426.9,970.7" fill="#f7f7f7" stroke-width="0.5"/>
<polygon points="2457.5,969.5 2445.8,965.7 2457.5,961.9" fill="#efefef" stroke-width="0.5"/>
<polygon points="2457.5,969.5 2461.9,968.3 2461.9,960.6 2457.5,961.9" fill="#f7f7f7" stroke-width="0.5"/>
<polygon points="2334.5,997.7 2491.6,952.5 2491.6,950.6 2334.5,995.8" fill="#f7f7f7" stroke-width="0.5"/>
<polygon points="2088.7,737.2 1946,803.1 1951.4,818.1 2088.7,754.7" fill="#ececec"/>
<polygon points="1951.4,818.1 2283.5,722.6 2420.7,659.2 2088.7,754.7" fill="#f4f4f4" stroke-width="0.5"/>
<polygon points="2281.1,738 2297.1,733.4 2288.9,730.7 2272.9,735.3" fill="#a6a6a6"/>
<polygon points="2281.1,743.7 2272.9,741 2272.9,735.3 2281.1,738" fill="#ececec"/>
<polygon points="2281.1,743.7 2297.1,739.1 2297.1,733.4 2281.1,738" fill="#f7f7f7"/>
<polygon points="2309.7,727.2 2325.7,722.6 2317.5,719.9 2301.5,724.5" fill="#a6a6a6"/>
<polygon points="2309.7,732.9 2301.5,730.2 2301.5,724.5 2309.7,727.2" fill="#ececec"/>
<polygon points="2309.7,732.9 2325.7,728.3 2325.7,722.6 2309.7,727.2" fill="#f7f7f7"/>
<polygon points="2260.9,725.3 2261.3,726.7 2262.4,728 2264.3,729.2 2266.8,730.3 2269.9,731.3 2273.6,732 2277.5,732.6 2281.8,733 2286.2,733.1 2290.6,733 2294.9,732.6 2298.9,732.1 2302.5,731.3 2305.6,730.3 2308.1,729.2 2310,728 2311.1,726.7 2311.5,725.4 2311.5,601.1 2311.1,602.5 2310,603.8 2308.1,605 2305.6,606.1 2302.5,607.1 2298.9,607.8 2294.9,608.4 2290.6,608.7 2286.2,608.9 2281.8,608.7 2277.5,608.4 2273.6,607.8 2269.9,607 2266.8,606.1 2264.3,605 2262.4,603.8 2261.3,602.5 2260.9,601.1" fill="url(#tank)"/>
<polygon points="2304.6,595.8 2301.3,594.9 2297.6,594.2 2293.5,593.7 2289.1,593.5 2284.7,593.4 2280.4,593.6 2276.2,594 2272.3,594.7 2268.8,595.5 2265.9,596.5 2263.6,597.6 2262,598.9 2261.1,600.2 2260.9,601.6 2261.6,602.9 2263,604.2 2265.1,605.4 2267.8,606.4 2271.1,607.3 2274.8,608 2278.9,608.5 2283.3,608.8 2287.7,608.9 2292,608.7 2296.2,608.2 2300.1,607.6 2303.6,606.8 2306.5,605.8 2308.8,604.6 2310.4,603.4 2311.3,602 2311.5,600.7 2310.8,599.4 2309.4,598.1 2307.3,596.9" fill="url(#tanktop)"/>
<polygon points="2270.6,601.1 2270.8,601.9 2271.5,602.8 2272.7,603.5 2274.3,604.2 2276.2,604.8 2278.4,605.3 2280.9,605.6 2283.5,605.8 2286.2,605.9 2288.9,605.8 2291.5,605.6 2294,605.3 2296.2,604.8 2298.2,604.2 2299.7,603.5 2300.9,602.8 2301.6,602 2301.8,601.1 2301.8,592.1 2301.6,592.9 2300.9,593.7 2299.7,594.5 2298.2,595.2 2296.2,595.7 2294,596.2 2291.5,596.6 2288.9,596.8 2286.2,596.9 2283.5,596.8 2280.9,596.6 2278.4,596.2 2276.2,595.7 2274.3,595.1 2272.7,594.5 2271.5,593.7 2270.8,592.9 2270.6,592.1" fill="url(#tank)"/>
<polygon points="2297.5,588.8 2295.5,588.3 2293.2,587.8 2290.7,587.5 2288,587.4 2285.3,587.3 2282.6,587.4 2280,587.7 2277.6,588.1 2275.5,588.6 2273.7,589.2 2272.3,589.9 2271.3,590.7 2270.7,591.5 2270.6,592.4 2271,593.2 2271.9,594 2273.2,594.7 2274.9,595.4 2276.9,595.9 2279.2,596.3 2281.7,596.7 2284.4,596.8 2287.1,596.8 2289.8,596.7 2292.4,596.5 2294.8,596.1 2296.9,595.6 2298.7,594.9 2300.1,594.2 2301.1,593.5 2301.7,592.7 2301.8,591.8 2301.4,591 2300.5,590.2 2299.2,589.5" fill="#a6a6a6"/>
<polygon points="2232.6,937.3 2178.4,919.7 2178.4,750.2 2232.6,767.8" fill="#ebebeb"/>
<polygon points="2232.6,937.3 2346,904.6 2346,735.2 2232.6,767.8" fill="#f4f4f4"/>
<polygon points="2232.5,764 2348.9,730.5 2291.9,712 2175.5,745.5" fill="#a6a6a6"/>
<polygon points="2232.5,768.7 2175.5,750.2 2175.5,745.5 2232.5,764" fill="#f0f0f0"/>
<polygon points="2232.5,768.7 2348.9,735.2 2348.9,730.5 2232.5,764" fill="#f7f7f7"/>
<path d="M2226.7 935.4L2226.7 774.5M2184.2 921.6L2184.2 760.7M2238.7 935.5L2238.7 774.6M2339.9 906.4L2339.9 745.6M2232.6 776.4L2178.4 758.8M2232.6 776.4L2346 743.8" stroke-width="0.5"/>
<polygon points="2270.4,926.4 2276.2,924.7 2276.2,763.9 2270.4,765.5" fill="#e4e4e4" stroke-width="0.5"/>
<polygon points="2241.3,821.5 2267.5,814 2267.5,790.2 2241.3,797.7" fill="#f9f9f9" stroke-width="0.5"/>
<path d="M2238.7 850.8L2270.4 841.7M2276.2 792.4L2339.9 774.1" stroke-width="0.5"/>
<polygon points="2123,757.9 2129.6,756 2126.3,754.9 2119.7,756.8" fill="#bdbdbd"/>
<polygon points="2123,931.1 2119.7,930 2119.7,756.8 2123,757.9" fill="#efefef"/>
<polygon points="2123,931.1 2129.6,929.2 2129.6,756 2123,757.9" fill="#f7f7f7"/>
<polygon points="2129.7,760 2136.2,758.1 2132.9,757.1 2126.4,759" fill="#bdbdbd"/>
<polygon points="2129.7,933.3 2126.4,932.2 2126.4,759 2129.7,760" fill="#efefef"/>
<polygon points="2129.7,933.3 2136.2,931.4 2136.2,758.1 2129.7,760" fill="#f7f7f7"/>
<circle cx="2133.3" cy="779.9" r="0.9" fill="#333" stroke="none"/>
<circle cx="2133.3" cy="791.3" r="0.9" fill="#333" stroke="none"/>
<polygon points="2017.5,788.2 2024.1,786.3 2020.8,785.2 2014.2,787.1" fill="#bdbdbd"/>
<polygon points="2017.5,979.5 2014.2,978.5 2014.2,787.1 2017.5,788.2" fill="#efefef"/>
<polygon points="2017.5,979.5 2024.1,977.6 2024.1,786.3 2017.5,788.2" fill="#f7f7f7"/>
<polygon points="2024.2,790.4 2030.7,788.5 2027.4,787.4 2020.9,789.3" fill="#bdbdbd"/>
<polygon points="2024.2,981.7 2020.9,980.6 2020.9,789.3 2024.2,790.4" fill="#efefef"/>
<polygon points="2024.2,981.7 2030.7,979.8 2030.7,788.5 2024.2,790.4" fill="#f7f7f7"/>
<circle cx="2027.8" cy="810.3" r="0.9" fill="#333" stroke="none"/>
<circle cx="2027.8" cy="821.7" r="0.9" fill="#333" stroke="none"/>
<circle cx="2027.8" cy="974.9" r="0.9" fill="#333" stroke="none"/>
<polygon points="2485,775.2 2491.5,773.3 2488.2,772.2 2481.7,774.1" fill="#bdbdbd"/>
<polygon points="2485,966.5 2481.7,965.4 2481.7,774.1 2485,775.2" fill="#efefef"/>
<polygon points="2485,966.5 2491.5,964.6 2491.5,773.3 2485,775.2" fill="#f7f7f7"/>
<polygon points="2491.6,777.3 2498.2,775.5 2494.9,774.4 2488.3,776.3" fill="#bdbdbd"/>
<polygon points="2491.6,968.7 2488.3,967.6 2488.3,776.3 2491.6,777.3" fill="#efefef"/>
<polygon points="2491.6,968.7 2498.2,966.8 2498.2,775.5 2491.6,777.3" fill="#f7f7f7"/>
<circle cx="2495.3" cy="797.2" r="0.9" fill="#333" stroke="none"/>
<circle cx="2495.3" cy="808.7" r="0.9" fill="#333" stroke="none"/>
<circle cx="2495.3" cy="961.9" r="0.9" fill="#333" stroke="none"/>
<polygon points="2321.3,822.3 2327.9,820.4 2324.6,819.3 2318,821.2" fill="#bdbdbd"/>
<polygon points="2321.3,1013.6 2318,1012.5 2318,821.2 2321.3,822.3" fill="#efefef"/>
<polygon points="2321.3,1013.6 2327.9,1011.7 2327.9,820.4 2321.3,822.3" fill="#f7f7f7"/>
<polygon points="2328,824.4 2334.5,822.5 2331.2,821.5 2324.7,823.3" fill="#bdbdbd"/>
<polygon points="2328,1015.7 2324.7,1014.7 2324.7,823.3 2328,824.4" fill="#efefef"/>
<polygon points="2328,1015.7 2334.5,1013.9 2334.5,822.5 2328,824.4" fill="#f7f7f7"/>
<circle cx="2331.6" cy="844.3" r="0.9" fill="#333" stroke="none"/>
<circle cx="2331.6" cy="855.7" r="0.9" fill="#333" stroke="none"/>
<circle cx="2331.6" cy="1009.0" r="0.9" fill="#333" stroke="none"/>
<polygon points="2222.5,863.3 2222.5,853 2118.4,737.3 2014.2,785.3 2014.2,795.7" fill="#ececec"/>
<path d="M2217.7 861.8L2217.7 847.6M2207.3 858.4L2207.3 836M2196.8 855L2196.8 824.5M2186.4 851.6L2186.4 812.9M2176 848.2L2176 801.3M2165.5 844.8L2165.5 789.7M2155.1 841.4L2155.1 778.1M2144.7 838L2144.7 766.5M2134.3 834.7L2134.3 754.9M2123.8 831.3L2123.8 743.3M2113.4 827.9L2113.4 739.6M2103 824.5L2103 744.4M2092.5 821.1L2092.5 749.2M2082.1 817.7L2082.1 754M2071.7 814.3L2071.7 758.8M2061.2 811L2061.2 763.6M2050.8 807.6L2050.8 768.5M2040.4 804.2L2040.4 773.3M2030 800.8L2030 778.1M2019.5 797.4L2019.5 782.9" stroke-width="0.6"/>
<polygon points="2215.8,852.6 2222.4,850.7 2219.1,849.6 2212.6,851.5" fill="#bdbdbd"/>
<polygon points="2215.8,1043.9 2212.6,1042.8 2212.6,851.5 2215.8,852.6" fill="#efefef"/>
<polygon points="2215.8,1043.9 2222.4,1042 2222.4,850.7 2215.8,852.6" fill="#f7f7f7"/>
<polygon points="2222.5,854.7 2229,852.9 2225.8,851.8 2219.2,853.7" fill="#bdbdbd"/>
<polygon points="2222.5,1046.1 2219.2,1045 2219.2,853.7 2222.5,854.7" fill="#efefef"/>
<polygon points="2222.5,1046.1 2229,1044.2 2229,852.9 2222.5,854.7" fill="#f7f7f7"/>
<circle cx="2226.1" cy="874.6" r="0.9" fill="#333" stroke="none"/>
<circle cx="2226.1" cy="886.1" r="0.9" fill="#333" stroke="none"/>
<circle cx="2226.1" cy="1039.3" r="0.9" fill="#333" stroke="none"/>
<polygon points="2088.7,737.2 2231.4,895.8 2226,907.3 2088.7,754.7" fill="#ececec"/>
<polygon points="2231.4,895.8 2563.4,800.3 2558,811.8 2226,907.3" fill="#c9c9c9"/>
<polygon points="2088.7,737.2 2420.7,640.3 2563.4,798.9 2231.4,895.8" fill="#d2d2d2" stroke-width="0.6"/>
<polygon points="2088.7,737.2 2091.2,735.6 2233.9,894.1 2231.4,895.8" fill="#f0f0f0" stroke-width="0.5"/>
<path d="M2100.4 741.1L2236.9 892.8M2110.7 738.1L2247.2 889.8M2121 735.1L2257.5 886.8M2131.3 732.2L2267.8 883.9M2141.6 729.2L2278.1 880.9M2151.9 726.2L2288.5 878M2162.2 723.3L2298.8 875M2172.6 720.3L2309.1 872M2182.9 717.4L2319.4 869.1M2193.2 714.4L2329.7 866.1M2203.5 711.4L2340 863.1M2213.8 708.5L2350.3 860.2M2224.1 705.5L2360.6 857.2M2234.4 702.5L2370.9 854.2M2244.7 699.6L2381.2 851.3M2255 696.6L2391.5 848.3M2265.3 693.6L2401.9 845.3M2275.6 690.7L2412.2 842.4M2286 687.7L2422.5 839.4M2296.3 684.7L2432.8 836.4M2306.6 681.8L2443.1 833.5M2316.9 678.8L2453.4 830.5M2327.2 675.8L2463.7 827.5M2337.5 672.9L2474 824.6M2347.8 669.9L2484.3 821.6M2358.1 667L2494.6 818.7M2368.4 664L2504.9 815.7M2378.7 661L2515.2 812.7M2389 658.1L2525.6 809.8M2399.3 655.1L2535.9 806.8M2409.7 652.1L2546.2 803.8M2420 649.2L2556.5 800.9" stroke="#bdbdbd" stroke-width="3.2"/>
<path d="M2104.8 739.8L2241.3 891.5M2115.1 736.8L2251.6 888.6M2125.4 733.9L2261.9 885.6M2135.7 730.9L2272.2 882.6M2146 728L2282.5 879.7M2156.3 725L2292.8 876.7M2166.6 722L2303.1 873.7M2176.9 719.1L2313.4 870.8M2187.2 716.1L2323.7 867.8M2197.5 713.1L2334.1 864.8M2207.8 710.2L2344.4 861.9M2218.2 707.2L2354.7 858.9M2228.5 704.2L2365 855.9M2238.8 701.3L2375.3 853M2249.1 698.3L2385.6 850M2259.4 695.3L2395.9 847M2269.7 692.4L2406.2 844.1M2280 689.4L2416.5 841.1M2290.3 686.4L2426.8 838.2M2300.6 683.5L2437.1 835.2M2310.9 680.5L2447.5 832.2M2321.2 677.6L2457.8 829.3M2331.5 674.6L2468.1 826.3M2341.9 671.6L2478.4 823.3M2352.2 668.7L2488.7 820.4M2362.5 665.7L2499 817.4M2372.8 662.7L2509.3 814.4M2383.1 659.8L2519.6 811.5M2393.4 656.8L2529.9 808.5M2403.7 653.8L2540.2 805.5M2414 650.9L2550.5 802.6M2424.3 647.9L2560.8 799.6" stroke="#f3f3f3" stroke-width="1.9"/>
<path d="M2097.8 741.8L2234.3 893.5M2103 740.3L2239.5 892M2108.1 738.9L2244.6 890.6M2113.3 737.4L2249.8 889.1M2118.4 735.9L2254.9 887.6M2123.6 734.4L2260.2 886.1M2128.7 732.9L2265.2 884.6M2133.9 731.4L2270.5 883.1M2139 730L2275.5 881.7M2144.2 728.5L2280.8 880.2M2149.3 727L2285.8 878.7M2154.6 725.5L2291.1 877.2M2159.6 724L2296.1 875.7M2164.9 722.5L2301.4 874.2M2169.9 721.1L2306.5 872.8M2175.2 719.6L2311.7 871.3M2180.2 718.1L2316.8 869.8M2185.5 716.6L2322 868.3M2190.6 715.1L2327.1 866.8M2195.8 713.6L2332.3 865.3M2200.9 712.2L2337.4 863.9M2206.1 710.7L2342.6 862.4M2211.2 709.2L2347.7 860.9M2216.4 707.7L2352.9 859.4M2221.5 706.2L2358 858M2226.7 704.7L2363.2 856.4M2231.8 703.3L2368.3 855M2237 701.8L2373.5 853.5M2242.1 700.3L2378.6 852M2247.3 698.8L2383.9 850.5M2252.4 697.4L2388.9 849.1M2257.6 695.8L2394.2 847.5M2262.7 694.4L2399.2 846.1M2268 692.9L2404.5 844.6M2273 691.4L2409.5 843.1M2278.3 689.9L2414.8 841.6M2283.3 688.5L2419.9 840.2M2288.6 687L2425.1 838.7M2293.6 685.5L2430.2 837.2M2298.9 684L2435.4 835.7M2303.9 682.5L2440.5 834.2M2309.2 681L2445.7 832.7M2314.3 679.6L2450.8 831.3M2319.5 678.1L2456 829.8M2324.6 676.6L2461.1 828.3M2329.8 675.1L2466.3 826.8M2334.9 673.6L2471.4 825.3M2340.1 672.1L2476.6 823.8M2345.2 670.7L2481.7 822.4M2350.4 669.2L2486.9 820.9M2355.5 667.7L2492 819.4M2360.7 666.2L2497.2 817.9M2365.8 664.7L2502.3 816.4M2371 663.2L2507.6 814.9M2376.1 661.8L2512.6 813.5M2381.3 660.3L2517.9 812M2386.4 658.8L2522.9 810.5M2391.7 657.3L2528.2 809M2396.7 655.8L2533.2 807.5M2402 654.3L2538.5 806M2407 652.9L2543.6 804.6M2412.3 651.4L2548.8 803.1M2417.3 649.9L2553.9 801.6M2422.6 648.4L2559.1 800.1" stroke="#6f6f6f" stroke-width="1.15"/>
<polygon points="2087.2,734.8 2422.2,638.5 2429.1,646.1 2094.1,742.4" fill="#f1f1f1"/>
<polygon points="2087.2,734.8 2094.1,742.4 2094.1,745.3 2087.2,737.6" fill="#ececec" stroke-width="0.5"/></g>
<g id="st7"><polygon points="2324.8,1642.7 2325.2,1644.2 2326.4,1645.6 2328.4,1646.9 2331.1,1648.1 2334.4,1649.1 2338.3,1649.9 2342.5,1650.5 2347.1,1650.9 2351.8,1651 2356.5,1650.9 2361,1650.5 2365.3,1649.9 2369.1,1649.1 2372.5,1648.1 2375.2,1646.9 2377.1,1645.6 2378.4,1644.2 2378.8,1642.8 2378.8,1500 2378.4,1501.4 2377.1,1502.8 2375.2,1504.1 2372.5,1505.3 2369.1,1506.3 2365.3,1507.1 2361,1507.7 2356.5,1508.1 2351.8,1508.2 2347.1,1508.1 2342.5,1507.7 2338.3,1507.1 2334.4,1506.3 2331.1,1505.3 2328.4,1504.1 2326.4,1502.8 2325.2,1501.4 2324.8,1500" fill="url(#cylg)"/>
<polygon points="2081.2,1719.4 2632.8,1560.8 2320.8,1459.5 1769.2,1618.1" fill="#a6a6a6" stroke="#666" stroke-width="0.8"/>
<polygon points="2324.8,1500 2325.2,1501.4 2326.4,1502.8 2328.4,1504.1 2331.1,1505.3 2334.4,1506.3 2338.3,1507.1 2342.5,1507.7 2347.1,1508.1 2351.8,1508.2 2356.5,1508.1 2361,1507.7 2365.3,1507.1 2369.1,1506.3 2372.5,1505.3 2375.2,1504.1 2377.1,1502.8 2378.4,1501.4 2378.8,1500 2378.8,1493.3 2378.4,1494.8 2377.1,1496.2 2375.2,1497.5 2372.5,1498.6 2369.1,1499.7 2365.3,1500.5 2361,1501.1 2356.5,1501.4 2351.8,1501.6 2347.1,1501.4 2342.5,1501.1 2338.3,1500.5 2334.4,1499.6 2331.1,1498.6 2328.4,1497.4 2326.4,1496.1 2325.2,1494.7 2324.8,1493.3" fill="url(#cylgd)"/>
<polygon points="2371.4,1487.7 2367.9,1486.7 2363.9,1486 2359.5,1485.4 2354.9,1485.1 2350.2,1485.1 2345.6,1485.3 2341.1,1485.7 2336.9,1486.4 2333.3,1487.3 2330.1,1488.4 2327.7,1489.6 2325.9,1490.9 2325,1492.3 2324.8,1493.8 2325.5,1495.2 2327,1496.6 2329.2,1497.8 2332.1,1499 2335.7,1499.9 2339.7,1500.7 2344,1501.2 2348.6,1501.5 2353.3,1501.6 2358,1501.4 2362.5,1500.9 2366.6,1500.2 2370.3,1499.3 2373.4,1498.3 2375.9,1497 2377.6,1495.7 2378.6,1494.3 2378.7,1492.9 2378.1,1491.4 2376.6,1490.1 2374.3,1488.8" fill="#a6a6a6"/>
<polygon points="2551.6,1543 2551.8,1543.8 2552.4,1544.6 2553.5,1545.3 2555,1545.9 2556.7,1546.4 2558.8,1546.9 2561.1,1547.2 2563.5,1547.4 2566.1,1547.5 2568.6,1547.4 2571,1547.2 2573.3,1546.9 2575.4,1546.5 2577.2,1545.9 2578.6,1545.3 2579.7,1544.6 2580.3,1543.8 2580.6,1543.1 2580.6,1533.5 2580.3,1534.3 2579.7,1535.1 2578.6,1535.8 2577.2,1536.4 2575.4,1536.9 2573.3,1537.4 2571,1537.7 2568.6,1537.9 2566.1,1538 2563.5,1537.9 2561.1,1537.7 2558.8,1537.4 2556.7,1536.9 2555,1536.4 2553.5,1535.7 2552.4,1535 2551.8,1534.3 2551.6,1533.5" fill="url(#tank)"/>
<polygon points="2550.1,1533.5 2550.3,1534.4 2551,1535.2 2552.2,1536 2553.8,1536.7 2555.8,1537.3 2558.1,1537.8 2560.6,1538.1 2563.3,1538.3 2566.1,1538.4 2568.8,1538.4 2571.5,1538.1 2574.1,1537.8 2576.3,1537.3 2578.3,1536.7 2579.9,1536 2581.1,1535.2 2581.8,1534.4 2582.1,1533.5 2582.1,1498.3 2581.8,1499.2 2581.1,1500 2579.9,1500.8 2578.3,1501.5 2576.3,1502.1 2574.1,1502.6 2571.5,1502.9 2568.8,1503.1 2566.1,1503.2 2563.3,1503.1 2560.6,1502.9 2558.1,1502.5 2555.8,1502.1 2553.8,1501.4 2552.2,1500.8 2551,1500 2550.3,1499.2 2550.1,1498.3" fill="url(#tank)"/>
<polygon points="2551.6,1498.3 2551.8,1499.1 2552.4,1499.8 2553.5,1500.5 2555,1501.2 2556.7,1501.7 2558.8,1502.1 2561.1,1502.5 2563.5,1502.7 2566.1,1502.7 2568.6,1502.7 2571,1502.5 2573.3,1502.2 2575.4,1501.7 2577.2,1501.2 2578.6,1500.5 2579.7,1499.8 2580.3,1499.1 2580.6,1498.3 2580.6,1489.8 2580.3,1490.5 2579.7,1491.3 2578.6,1492 2577.2,1492.6 2575.4,1493.1 2573.3,1493.6 2571,1493.9 2568.6,1494.1 2566.1,1494.2 2563.5,1494.1 2561.1,1493.9 2558.8,1493.6 2556.7,1493.1 2555,1492.6 2553.5,1492 2552.4,1491.3 2551.8,1490.5 2551.6,1489.7" fill="url(#tank)"/>
<polygon points="2576.6,1486.7 2574.7,1486.2 2572.6,1485.8 2570.2,1485.5 2567.7,1485.3 2565.2,1485.3 2562.7,1485.4 2560.3,1485.7 2558.1,1486 2556.1,1486.5 2554.4,1487.1 2553.1,1487.8 2552.2,1488.5 2551.7,1489.2 2551.6,1490 2552,1490.8 2552.7,1491.5 2553.9,1492.2 2555.5,1492.8 2557.4,1493.3 2559.6,1493.7 2561.9,1494 2564.4,1494.1 2566.9,1494.2 2569.4,1494.1 2571.8,1493.8 2574,1493.5 2576,1493 2577.7,1492.4 2579,1491.7 2580,1491 2580.5,1490.3 2580.5,1489.5 2580.2,1488.7 2579.4,1488 2578.2,1487.3" fill="#f4f4f4"/>
<polygon points="2574.1,1487.4 2572.6,1487.1 2571,1486.7 2569.2,1486.5 2567.3,1486.4 2565.4,1486.4 2563.5,1486.5 2561.7,1486.7 2560,1486.9 2558.5,1487.3 2557.2,1487.7 2556.2,1488.2 2555.5,1488.8 2555.1,1489.4 2555.1,1489.9 2555.4,1490.5 2556,1491.1 2556.9,1491.6 2558.1,1492 2559.5,1492.4 2561.1,1492.7 2562.9,1493 2564.8,1493.1 2566.7,1493.1 2568.6,1493 2570.4,1492.8 2572.1,1492.6 2573.6,1492.2 2574.9,1491.8 2575.9,1491.3 2576.6,1490.7 2577,1490.1 2577,1489.6 2576.8,1489 2576.2,1488.4 2575.3,1487.9" fill="#fbfbfb" stroke-width="0.6"/>
<polygon points="2578.4,1551.8 2578.6,1552.5 2579.3,1553.3 2580.3,1554 2581.8,1554.6 2583.6,1555.2 2585.6,1555.6 2587.9,1555.9 2590.4,1556.1 2592.9,1556.2 2595.4,1556.1 2597.8,1555.9 2600.1,1555.6 2602.2,1555.2 2604,1554.6 2605.4,1554 2606.5,1553.3 2607.2,1552.5 2607.4,1551.8 2607.4,1542.3 2607.2,1543 2606.5,1543.8 2605.4,1544.5 2604,1545.1 2602.2,1545.6 2600.1,1546.1 2597.8,1546.4 2595.4,1546.6 2592.9,1546.7 2590.4,1546.6 2587.9,1546.4 2585.6,1546.1 2583.6,1545.6 2581.8,1545.1 2580.3,1544.5 2579.3,1543.8 2578.6,1543 2578.4,1542.2" fill="url(#tank)"/>
<polygon points="2576.9,1542.2 2577.1,1543.1 2577.9,1543.9 2579,1544.7 2580.6,1545.4 2582.6,1546 2584.9,1546.5 2587.4,1546.8 2590.1,1547.1 2592.9,1547.1 2595.7,1547.1 2598.4,1546.8 2600.9,1546.5 2603.2,1546 2605.1,1545.4 2606.7,1544.7 2607.9,1543.9 2608.6,1543.1 2608.9,1542.3 2608.9,1507 2608.6,1507.9 2607.9,1508.7 2606.7,1509.5 2605.1,1510.2 2603.2,1510.8 2600.9,1511.3 2598.4,1511.6 2595.7,1511.8 2592.9,1511.9 2590.1,1511.8 2587.4,1511.6 2584.9,1511.3 2582.6,1510.8 2580.6,1510.2 2579,1509.5 2577.9,1508.7 2577.1,1507.9 2576.9,1507" fill="url(#tank)"/>
<polygon points="2578.4,1507 2578.6,1507.8 2579.3,1508.5 2580.3,1509.2 2581.8,1509.9 2583.6,1510.4 2585.6,1510.9 2587.9,1511.2 2590.4,1511.4 2592.9,1511.5 2595.4,1511.4 2597.8,1511.2 2600.1,1510.9 2602.2,1510.4 2604,1509.9 2605.4,1509.3 2606.5,1508.6 2607.2,1507.8 2607.4,1507 2607.4,1498.5 2607.2,1499.2 2606.5,1500 2605.4,1500.7 2604,1501.3 2602.2,1501.9 2600.1,1502.3 2597.8,1502.6 2595.4,1502.8 2592.9,1502.9 2590.4,1502.8 2587.9,1502.6 2585.6,1502.3 2583.6,1501.8 2581.8,1501.3 2580.3,1500.7 2579.3,1500 2578.6,1499.2 2578.4,1498.4" fill="url(#tank)"/>
<polygon points="2603.4,1495.4 2601.5,1494.9 2599.4,1494.5 2597,1494.2 2594.6,1494.1 2592,1494 2589.5,1494.1 2587.1,1494.4 2584.9,1494.8 2582.9,1495.2 2581.3,1495.8 2579.9,1496.5 2579,1497.2 2578.5,1497.9 2578.4,1498.7 2578.8,1499.5 2579.6,1500.2 2580.8,1500.9 2582.3,1501.5 2584.2,1502 2586.4,1502.4 2588.7,1502.7 2591.2,1502.9 2593.7,1502.9 2596.2,1502.8 2598.6,1502.5 2600.9,1502.2 2602.8,1501.7 2604.5,1501.1 2605.8,1500.5 2606.8,1499.7 2607.3,1499 2607.4,1498.2 2607,1497.4 2606.2,1496.7 2605,1496" fill="#f4f4f4"/>
<polygon points="2600.9,1496.2 2599.5,1495.8 2597.8,1495.5 2596,1495.2 2594.2,1495.1 2592.3,1495.1 2590.4,1495.2 2588.5,1495.4 2586.8,1495.6 2585.3,1496 2584.1,1496.4 2583.1,1496.9 2582.4,1497.5 2582,1498.1 2581.9,1498.6 2582.2,1499.2 2582.8,1499.8 2583.7,1500.3 2584.9,1500.8 2586.3,1501.2 2588,1501.5 2589.7,1501.7 2591.6,1501.8 2593.5,1501.8 2595.4,1501.7 2597.2,1501.5 2598.9,1501.3 2600.4,1500.9 2601.7,1500.5 2602.7,1500 2603.4,1499.4 2603.8,1498.9 2603.9,1498.3 2603.6,1497.7 2603,1497.1 2602.1,1496.6" fill="#fbfbfb" stroke-width="0.6"/>
<polygon points="2021.7,1574.7 2043.5,1568.4 2022.9,1561.7 2001.1,1568" fill="#a6a6a6"/>
<polygon points="2021.7,1586.1 2001.1,1579.4 2001.1,1568 2021.7,1574.7" fill="#ebebeb"/>
<polygon points="2021.7,1586.1 2043.5,1579.8 2043.5,1568.4 2021.7,1574.7" fill="#f5f5f5"/>
<polygon points="2489.1,1561.7 2510.9,1555.4 2490.4,1548.7 2468.5,1555" fill="#a6a6a6"/>
<polygon points="2489.1,1573.1 2468.5,1566.4 2468.5,1555 2489.1,1561.7" fill="#ebebeb"/>
<polygon points="2489.1,1573.1 2510.9,1566.8 2510.9,1555.4 2489.1,1561.7" fill="#f5f5f5"/>
<polygon points="2325.5,1608.7 2347.3,1602.5 2326.7,1595.8 2304.9,1602" fill="#a6a6a6"/>
<polygon points="2325.5,1620.1 2304.9,1613.5 2304.9,1602 2325.5,1608.7" fill="#ebebeb"/>
<polygon points="2325.5,1620.1 2347.3,1613.9 2347.3,1602.5 2325.5,1608.7" fill="#f5f5f5"/>
<polygon points="2220,1639.1 2241.8,1632.8 2221.2,1626.1 2199.4,1632.4" fill="#a6a6a6"/>
<polygon points="2220,1650.5 2199.4,1643.8 2199.4,1632.4 2220,1639.1" fill="#ebebeb"/>
<polygon points="2220,1650.5 2241.8,1644.2 2241.8,1632.8 2220,1639.1" fill="#f5f5f5"/>
<polygon points="2123,1511.4 2129.6,1509.6 2126.3,1508.5 2119.7,1510.4" fill="#bdbdbd"/>
<polygon points="2123,1528.6 2119.7,1527.5 2119.7,1510.4 2123,1511.4" fill="#efefef"/>
<polygon points="2123,1528.6 2129.6,1526.7 2129.6,1509.6 2123,1511.4" fill="#f7f7f7"/>
<polygon points="2129.7,1513.6 2136.2,1511.7 2132.9,1510.6 2126.4,1512.5" fill="#bdbdbd"/>
<polygon points="2129.7,1530.7 2126.4,1529.7 2126.4,1512.5 2129.7,1513.6" fill="#efefef"/>
<polygon points="2129.7,1530.7 2136.2,1528.9 2136.2,1511.7 2129.7,1513.6" fill="#f7f7f7"/>
<polygon points="2017.5,1541.8 2024.1,1539.9 2020.8,1538.8 2014.2,1540.7" fill="#bdbdbd"/>
<polygon points="2017.5,1568.4 2014.2,1567.4 2014.2,1540.7 2017.5,1541.8" fill="#efefef"/>
<polygon points="2017.5,1568.4 2024.1,1566.5 2024.1,1539.9 2017.5,1541.8" fill="#f7f7f7"/>
<polygon points="2024.2,1543.9 2030.7,1542.1 2027.4,1541 2020.9,1542.9" fill="#bdbdbd"/>
<polygon points="2024.2,1570.6 2020.9,1569.5 2020.9,1542.9 2024.2,1543.9" fill="#efefef"/>
<polygon points="2024.2,1570.6 2030.7,1568.7 2030.7,1542.1 2024.2,1543.9" fill="#f7f7f7"/>
<circle cx="2027.8" cy="1563.8" r="0.9" fill="#333" stroke="none"/>
<circle cx="2027.8" cy="1563.8" r="0.9" fill="#333" stroke="none"/>
<polygon points="2222.5,1616.9 2498.2,1537.6 2289.9,1470 2014.2,1549.3" fill="#a6a6a6" stroke-width="0.6"/>
<polygon points="2212.6,1620.3 2024.2,1559.2 2024.2,1552.5 2212.6,1613.7" fill="#efefef"/>
<polygon points="2212.6,1628.9 2024.2,1567.7 2024.2,1562 2212.6,1623.2" fill="#e4e4e4" stroke-width="0.5"/>
<polygon points="2229,1630.2 2328,1601.8 2328,1586.6 2229,1615" fill="#f7f7f7"/>
<path d="M2229 1625.5L2328 1597" stroke-width="0.5"/>
<polygon points="2331.8,1599 2488.9,1553.8 2488.9,1548.1 2331.8,1593.3" fill="#f3f3f3"/>
<polygon points="2365.8,1584.8 2354.2,1581 2365.8,1577.2" fill="#efefef" stroke-width="0.5"/>
<polygon points="2365.8,1584.8 2370.2,1583.5 2370.2,1575.9 2365.8,1577.2" fill="#f7f7f7" stroke-width="0.5"/>
<polygon points="2396.4,1576 2384.7,1572.2 2396.4,1568.4" fill="#efefef" stroke-width="0.5"/>
<polygon points="2396.4,1576 2400.8,1574.7 2400.8,1567.1 2396.4,1568.4" fill="#f7f7f7" stroke-width="0.5"/>
<polygon points="2426.9,1567.2 2415.3,1563.4 2426.9,1559.6" fill="#efefef" stroke-width="0.5"/>
<polygon points="2426.9,1567.2 2431.3,1565.9 2431.3,1558.3 2426.9,1559.6" fill="#f7f7f7" stroke-width="0.5"/>
<polygon points="2457.5,1558.4 2445.8,1554.6 2457.5,1550.8" fill="#efefef" stroke-width="0.5"/>
<polygon points="2457.5,1558.4 2461.9,1557.2 2461.9,1549.5 2457.5,1550.8" fill="#f7f7f7" stroke-width="0.5"/>
<polygon points="2334.5,1586.6 2491.6,1541.4 2491.6,1539.5 2334.5,1584.7" fill="#f7f7f7" stroke-width="0.5"/>
<polygon points="2088.7,1326.1 1946,1392 1951.4,1407 2088.7,1343.6" fill="#ececec"/>
<polygon points="1951.4,1407 2283.5,1311.5 2420.7,1248.1 2088.7,1343.6" fill="#f4f4f4" stroke-width="0.5"/>
<polygon points="2484.6,1535 2481.2,1533.9 2481.2,1465.3 2484.6,1466.5" fill="#f1f1f1" stroke-width="0.5"/>
<polygon points="2464.6,1528.5 2461.1,1527.4 2461.1,1458.8 2464.6,1459.9" fill="#f1f1f1" stroke-width="0.5"/>
<polygon points="2444.5,1522 2441.1,1520.8 2441.1,1452.3 2444.5,1453.4" fill="#f1f1f1" stroke-width="0.5"/>
<polygon points="2439.7,1520.4 2436.3,1519.3 2436.3,1450.7 2439.7,1451.9" fill="#f1f1f1" stroke-width="0.5"/>
<polygon points="2419.8,1513.9 2416.4,1512.8 2416.4,1444.3 2419.8,1445.4" fill="#f1f1f1" stroke-width="0.5"/>
<polygon points="2399.9,1507.5 2396.5,1506.4 2396.5,1437.8 2399.9,1438.9" fill="#f1f1f1" stroke-width="0.5"/>
<polygon points="2395.1,1505.9 2391.7,1504.8 2391.7,1436.3 2395.1,1437.4" fill="#f1f1f1" stroke-width="0.5"/>
<polygon points="2375.5,1499.6 2372.1,1498.4 2372.1,1429.9 2375.5,1431" fill="#f1f1f1" stroke-width="0.5"/>
<polygon points="2356,1493.2 2352.5,1492.1 2352.5,1423.6 2356,1424.7" fill="#f1f1f1" stroke-width="0.5"/>
<polygon points="2485.3,1535.2 2351.9,1491.9 2351.9,1488.1 2485.3,1531.4" fill="#f1f1f1" stroke-width="0.5"/>
<polygon points="2485.3,1470.5 2351.9,1427.1 2351.9,1423.3 2485.3,1466.7" fill="#f1f1f1" stroke-width="0.5"/>
<polygon points="2485.3,1466.7 2351.9,1423.3 2354.8,1422.5 2488.2,1465.8" fill="#c4c4c4" stroke-width="0.5"/>
<polygon points="2024.6,1548.2 2028.2,1547.1 2028.2,1478.6 2024.6,1479.6" fill="#f6f6f6" stroke-width="0.5"/>
<polygon points="2046.8,1541.8 2050.4,1540.8 2050.4,1472.2 2046.8,1473.3" fill="#f6f6f6" stroke-width="0.5"/>
<polygon points="2069,1535.4 2072.6,1534.4 2072.6,1465.8 2069,1466.9" fill="#f6f6f6" stroke-width="0.5"/>
<polygon points="2074.1,1534 2077.7,1532.9 2077.7,1464.4 2074.1,1465.4" fill="#f6f6f6" stroke-width="0.5"/>
<polygon points="2096.2,1527.6 2099.9,1526.5 2099.9,1458 2096.2,1459" fill="#f6f6f6" stroke-width="0.5"/>
<polygon points="2118.4,1521.2 2122.1,1520.1 2122.1,1451.6 2118.4,1452.7" fill="#f6f6f6" stroke-width="0.5"/>
<polygon points="2023.9,1548.4 2122.8,1519.9 2122.8,1516.1 2023.9,1544.6" fill="#f6f6f6" stroke-width="0.5"/>
<polygon points="2023.9,1483.7 2122.8,1455.2 2122.8,1451.4 2023.9,1479.9" fill="#f6f6f6" stroke-width="0.5"/>
<polygon points="2023.9,1479.9 2122.8,1451.4 2120.1,1450.5 2021.1,1479" fill="#c4c4c4" stroke-width="0.5"/>
<polygon points="2130.1,1517.8 2133.7,1516.8 2133.7,1448.3 2130.1,1449.3" fill="#f6f6f6" stroke-width="0.5"/>
<polygon points="2148.3,1512.6 2151.9,1511.6 2151.9,1443 2148.3,1444.1" fill="#f6f6f6" stroke-width="0.5"/>
<polygon points="2166.4,1507.4 2170.1,1506.3 2170.1,1437.8 2166.4,1438.9" fill="#f6f6f6" stroke-width="0.5"/>
<polygon points="2129.3,1518.1 2170.8,1506.1 2170.8,1502.3 2129.3,1514.2" fill="#f6f6f6" stroke-width="0.5"/>
<polygon points="2129.3,1453.3 2170.8,1441.4 2170.8,1437.6 2129.3,1449.5" fill="#f6f6f6" stroke-width="0.5"/>
<polygon points="2129.3,1449.5 2170.8,1437.6 2168.1,1436.7 2126.6,1448.6" fill="#c4c4c4" stroke-width="0.5"/>
<polygon points="2281.1,1326.9 2297.1,1322.2 2288.9,1319.6 2272.9,1324.2" fill="#a6a6a6"/>
<polygon points="2281.1,1332.6 2272.9,1329.9 2272.9,1324.2 2281.1,1326.9" fill="#ececec"/>
<polygon points="2281.1,1332.6 2297.1,1328 2297.1,1322.2 2281.1,1326.9" fill="#f7f7f7"/>
<polygon points="2309.7,1316.1 2325.7,1311.5 2317.5,1308.8 2301.5,1313.4" fill="#a6a6a6"/>
<polygon points="2309.7,1321.8 2301.5,1319.1 2301.5,1313.4 2309.7,1316.1" fill="#ececec"/>
<polygon points="2309.7,1321.8 2325.7,1317.2 2325.7,1311.5 2309.7,1316.1" fill="#f7f7f7"/>
<polygon points="2260.9,1314.2 2261.3,1315.6 2262.4,1316.9 2264.3,1318.1 2266.8,1319.2 2269.9,1320.2 2273.6,1320.9 2277.5,1321.5 2281.8,1321.9 2286.2,1322 2290.6,1321.9 2294.9,1321.5 2298.9,1321 2302.5,1320.2 2305.6,1319.2 2308.1,1318.1 2310,1316.9 2311.1,1315.6 2311.5,1314.3 2311.5,1190 2311.1,1191.4 2310,1192.7 2308.1,1193.9 2305.6,1195 2302.5,1196 2298.9,1196.7 2294.9,1197.3 2290.6,1197.6 2286.2,1197.8 2281.8,1197.6 2277.5,1197.3 2273.6,1196.7 2269.9,1195.9 2266.8,1195 2264.3,1193.9 2262.4,1192.7 2261.3,1191.4 2260.9,1190" fill="url(#tank)"/>
<polygon points="2304.6,1184.7 2301.3,1183.8 2297.6,1183.1 2293.5,1182.6 2289.1,1182.4 2284.7,1182.3 2280.4,1182.5 2276.2,1182.9 2272.3,1183.6 2268.8,1184.4 2265.9,1185.4 2263.6,1186.5 2262,1187.8 2261.1,1189.1 2260.9,1190.5 2261.6,1191.8 2263,1193.1 2265.1,1194.3 2267.8,1195.3 2271.1,1196.2 2274.8,1196.9 2278.9,1197.4 2283.3,1197.7 2287.7,1197.8 2292,1197.6 2296.2,1197.1 2300.1,1196.5 2303.6,1195.7 2306.5,1194.7 2308.8,1193.5 2310.4,1192.3 2311.3,1190.9 2311.5,1189.6 2310.8,1188.3 2309.4,1187 2307.3,1185.8" fill="url(#tanktop)"/>
<polygon points="2270.6,1190 2270.8,1190.8 2271.5,1191.7 2272.7,1192.4 2274.3,1193.1 2276.2,1193.7 2278.4,1194.2 2280.9,1194.5 2283.5,1194.7 2286.2,1194.8 2288.9,1194.7 2291.5,1194.5 2294,1194.2 2296.2,1193.7 2298.2,1193.1 2299.7,1192.4 2300.9,1191.7 2301.6,1190.9 2301.8,1190 2301.8,1181 2301.6,1181.8 2300.9,1182.6 2299.7,1183.4 2298.2,1184.1 2296.2,1184.6 2294,1185.1 2291.5,1185.5 2288.9,1185.7 2286.2,1185.8 2283.5,1185.7 2280.9,1185.5 2278.4,1185.1 2276.2,1184.6 2274.3,1184 2272.7,1183.4 2271.5,1182.6 2270.8,1181.8 2270.6,1181" fill="url(#tank)"/>
<polygon points="2297.5,1177.7 2295.5,1177.2 2293.2,1176.7 2290.7,1176.4 2288,1176.3 2285.3,1176.2 2282.6,1176.3 2280,1176.6 2277.6,1177 2275.5,1177.5 2273.7,1178.1 2272.3,1178.8 2271.3,1179.6 2270.7,1180.4 2270.6,1181.3 2271,1182.1 2271.9,1182.9 2273.2,1183.6 2274.9,1184.3 2276.9,1184.8 2279.2,1185.2 2281.7,1185.6 2284.4,1185.7 2287.1,1185.7 2289.8,1185.6 2292.4,1185.4 2294.8,1185 2296.9,1184.5 2298.7,1183.8 2300.1,1183.1 2301.1,1182.4 2301.7,1181.6 2301.8,1180.7 2301.4,1179.9 2300.5,1179.1 2299.2,1178.4" fill="#a6a6a6"/>
<polygon points="2232.6,1526.2 2178.4,1508.6 2178.4,1339.1 2232.6,1356.7" fill="#ebebeb"/>
<polygon points="2232.6,1526.2 2346,1493.5 2346,1324.1 2232.6,1356.7" fill="#f4f4f4"/>
<polygon points="2232.5,1352.9 2348.9,1319.4 2291.9,1300.9 2175.5,1334.4" fill="#a6a6a6"/>
<polygon points="2232.5,1357.6 2175.5,1339.1 2175.5,1334.4 2232.5,1352.9" fill="#f0f0f0"/>
<polygon points="2232.5,1357.6 2348.9,1324.1 2348.9,1319.4 2232.5,1352.9" fill="#f7f7f7"/>
<path d="M2226.7 1524.3L2226.7 1363.4M2184.2 1510.5L2184.2 1349.6M2238.7 1524.4L2238.7 1363.5M2339.9 1495.3L2339.9 1334.5M2232.6 1365.3L2178.4 1347.7M2232.6 1365.3L2346 1332.7" stroke-width="0.5"/>
<polygon points="2270.4,1515.3 2276.2,1513.6 2276.2,1352.8 2270.4,1354.4" fill="#e4e4e4" stroke-width="0.5"/>
<polygon points="2241.3,1410.4 2267.5,1402.9 2267.5,1379.1 2241.3,1386.6" fill="#f9f9f9" stroke-width="0.5"/>
<path d="M2238.7 1439.7L2270.4 1430.6M2276.2 1381.3L2339.9 1363" stroke-width="0.5"/>
<polygon points="2123,1346.8 2129.6,1344.9 2126.3,1343.8 2119.7,1345.7" fill="#bdbdbd"/>
<polygon points="2123,1520 2119.7,1518.9 2119.7,1345.7 2123,1346.8" fill="#efefef"/>
<polygon points="2123,1520 2129.6,1518.1 2129.6,1344.9 2123,1346.8" fill="#f7f7f7"/>
<polygon points="2129.7,1348.9 2136.2,1347 2132.9,1346 2126.4,1347.9" fill="#bdbdbd"/>
<polygon points="2129.7,1522.2 2126.4,1521.1 2126.4,1347.9 2129.7,1348.9" fill="#efefef"/>
<polygon points="2129.7,1522.2 2136.2,1520.3 2136.2,1347 2129.7,1348.9" fill="#f7f7f7"/>
<circle cx="2133.3" cy="1368.8" r="0.9" fill="#333" stroke="none"/>
<circle cx="2133.3" cy="1380.2" r="0.9" fill="#333" stroke="none"/>
<polygon points="2017.5,1377.1 2024.1,1375.2 2020.8,1374.1 2014.2,1376" fill="#bdbdbd"/>
<polygon points="2017.5,1568.4 2014.2,1567.4 2014.2,1376 2017.5,1377.1" fill="#efefef"/>
<polygon points="2017.5,1568.4 2024.1,1566.5 2024.1,1375.2 2017.5,1377.1" fill="#f7f7f7"/>
<polygon points="2024.2,1379.3 2030.7,1377.4 2027.4,1376.3 2020.9,1378.2" fill="#bdbdbd"/>
<polygon points="2024.2,1570.6 2020.9,1569.5 2020.9,1378.2 2024.2,1379.3" fill="#efefef"/>
<polygon points="2024.2,1570.6 2030.7,1568.7 2030.7,1377.4 2024.2,1379.3" fill="#f7f7f7"/>
<circle cx="2027.8" cy="1399.2" r="0.9" fill="#333" stroke="none"/>
<circle cx="2027.8" cy="1410.6" r="0.9" fill="#333" stroke="none"/>
<circle cx="2027.8" cy="1563.8" r="0.9" fill="#333" stroke="none"/>
<polygon points="2485,1364.1 2491.5,1362.2 2488.2,1361.1 2481.7,1363" fill="#bdbdbd"/>
<polygon points="2485,1555.4 2481.7,1554.3 2481.7,1363 2485,1364.1" fill="#efefef"/>
<polygon points="2485,1555.4 2491.5,1553.5 2491.5,1362.2 2485,1364.1" fill="#f7f7f7"/>
<polygon points="2491.6,1366.2 2498.2,1364.4 2494.9,1363.3 2488.3,1365.2" fill="#bdbdbd"/>
<polygon points="2491.6,1557.6 2488.3,1556.5 2488.3,1365.2 2491.6,1366.2" fill="#efefef"/>
<polygon points="2491.6,1557.6 2498.2,1555.7 2498.2,1364.4 2491.6,1366.2" fill="#f7f7f7"/>
<circle cx="2495.3" cy="1386.1" r="0.9" fill="#333" stroke="none"/>
<circle cx="2495.3" cy="1397.6" r="0.9" fill="#333" stroke="none"/>
<circle cx="2495.3" cy="1550.8" r="0.9" fill="#333" stroke="none"/>
<polygon points="2333.9,1584 2337.5,1583 2337.5,1514.4 2333.9,1515.5" fill="#f6f6f6" stroke-width="0.5"/>
<polygon points="2361.7,1576 2365.3,1575 2365.3,1506.4 2361.7,1507.5" fill="#f6f6f6" stroke-width="0.5"/>
<polygon points="2389.5,1568 2393.2,1567 2393.2,1498.4 2389.5,1499.5" fill="#f6f6f6" stroke-width="0.5"/>
<polygon points="2394.6,1566.6 2398.2,1565.5 2398.2,1497 2394.6,1498" fill="#f6f6f6" stroke-width="0.5"/>
<polygon points="2407.2,1562.9 2410.8,1561.9 2410.8,1493.4 2407.2,1494.4" fill="#f6f6f6" stroke-width="0.5"/>
<polygon points="2419.7,1559.3 2423.3,1558.3 2423.3,1489.8 2419.7,1490.8" fill="#f6f6f6" stroke-width="0.5"/>
<polygon points="2424.8,1557.9 2428.4,1556.8 2428.4,1488.3 2424.8,1489.3" fill="#f6f6f6" stroke-width="0.5"/>
<polygon points="2455.4,1549.1 2459,1548 2459,1479.5 2455.4,1480.5" fill="#f6f6f6" stroke-width="0.5"/>
<polygon points="2485.9,1540.3 2489.5,1539.3 2489.5,1470.7 2485.9,1471.8" fill="#f6f6f6" stroke-width="0.5"/>
<polygon points="2333.1,1584.2 2490.3,1539 2490.3,1535.2 2333.1,1580.4" fill="#f6f6f6" stroke-width="0.5"/>
<polygon points="2333.1,1519.5 2490.3,1474.3 2490.3,1470.5 2333.1,1515.7" fill="#f6f6f6" stroke-width="0.5"/>
<polygon points="2333.1,1515.7 2490.3,1470.5 2487.5,1469.6 2330.4,1514.8" fill="#c4c4c4" stroke-width="0.5"/>
<polygon points="2321.3,1411.2 2327.9,1409.3 2324.6,1408.2 2318,1410.1" fill="#bdbdbd"/>
<polygon points="2321.3,1602.5 2318,1601.4 2318,1410.1 2321.3,1411.2" fill="#efefef"/>
<polygon points="2321.3,1602.5 2327.9,1600.6 2327.9,1409.3 2321.3,1411.2" fill="#f7f7f7"/>
<polygon points="2328,1413.3 2334.5,1411.4 2331.2,1410.4 2324.7,1412.2" fill="#bdbdbd"/>
<polygon points="2328,1604.6 2324.7,1603.6 2324.7,1412.2 2328,1413.3" fill="#efefef"/>
<polygon points="2328,1604.6 2334.5,1602.8 2334.5,1411.4 2328,1413.3" fill="#f7f7f7"/>
<circle cx="2331.6" cy="1433.2" r="0.9" fill="#333" stroke="none"/>
<circle cx="2331.6" cy="1444.6" r="0.9" fill="#333" stroke="none"/>
<circle cx="2331.6" cy="1597.9" r="0.9" fill="#333" stroke="none"/>
<polygon points="2211.9,1613.4 2208.4,1612.3 2208.4,1543.8 2211.9,1544.9" fill="#f1f1f1" stroke-width="0.5"/>
<polygon points="2187.1,1605.4 2183.7,1604.3 2183.7,1535.7 2187.1,1536.9" fill="#f1f1f1" stroke-width="0.5"/>
<polygon points="2162.3,1597.4 2158.9,1596.2 2158.9,1527.7 2162.3,1528.8" fill="#f1f1f1" stroke-width="0.5"/>
<polygon points="2157.5,1595.8 2154.1,1594.7 2154.1,1526.1 2157.5,1527.3" fill="#f1f1f1" stroke-width="0.5"/>
<polygon points="2140.3,1590.2 2136.8,1589.1 2136.8,1520.5 2140.3,1521.7" fill="#f1f1f1" stroke-width="0.5"/>
<polygon points="2123,1584.6 2119.6,1583.5 2119.6,1514.9 2123,1516" fill="#f1f1f1" stroke-width="0.5"/>
<polygon points="2118.2,1583 2114.8,1581.9 2114.8,1513.4 2118.2,1514.5" fill="#f1f1f1" stroke-width="0.5"/>
<polygon points="2099.7,1577 2096.2,1575.9 2096.2,1507.4 2099.7,1508.5" fill="#f1f1f1" stroke-width="0.5"/>
<polygon points="2081.1,1571 2077.7,1569.9 2077.7,1501.3 2081.1,1502.5" fill="#f1f1f1" stroke-width="0.5"/>
<polygon points="2076.3,1569.4 2072.9,1568.3 2072.9,1499.8 2076.3,1500.9" fill="#f1f1f1" stroke-width="0.5"/>
<polygon points="2052.3,1561.6 2048.9,1560.5 2048.9,1492 2052.3,1493.1" fill="#f1f1f1" stroke-width="0.5"/>
<polygon points="2028.3,1553.8 2024.9,1552.7 2024.9,1484.2 2028.3,1485.3" fill="#f1f1f1" stroke-width="0.5"/>
<polygon points="2212.6,1613.7 2024.2,1552.5 2024.2,1548.7 2212.6,1609.9" fill="#f1f1f1" stroke-width="0.5"/>
<polygon points="2212.6,1548.9 2024.2,1487.8 2024.2,1484 2212.6,1545.1" fill="#f1f1f1" stroke-width="0.5"/>
<polygon points="2212.6,1545.1 2024.2,1484 2027.1,1483.1 2215.5,1544.3" fill="#c4c4c4" stroke-width="0.5"/>
<polygon points="2222.5,1452.2 2222.5,1441.9 2118.4,1326.2 2014.2,1374.2 2014.2,1384.6" fill="#ececec"/>
<path d="M2217.7 1450.7L2217.7 1436.5M2207.3 1447.3L2207.3 1424.9M2196.8 1443.9L2196.8 1413.4M2186.4 1440.5L2186.4 1401.8M2176 1437.1L2176 1390.2M2165.5 1433.7L2165.5 1378.6M2155.1 1430.3L2155.1 1367M2144.7 1426.9L2144.7 1355.4M2134.3 1423.6L2134.3 1343.8M2123.8 1420.2L2123.8 1332.2M2113.4 1416.8L2113.4 1328.5M2103 1413.4L2103 1333.3M2092.5 1410L2092.5 1338.1M2082.1 1406.6L2082.1 1342.9M2071.7 1403.2L2071.7 1347.7M2061.2 1399.9L2061.2 1352.5M2050.8 1396.5L2050.8 1357.4M2040.4 1393.1L2040.4 1362.2M2030 1389.7L2030 1367M2019.5 1386.3L2019.5 1371.8" stroke-width="0.6"/>
<polygon points="2215.8,1441.5 2222.4,1439.6 2219.1,1438.5 2212.6,1440.4" fill="#bdbdbd"/>
<polygon points="2215.8,1632.8 2212.6,1631.7 2212.6,1440.4 2215.8,1441.5" fill="#efefef"/>
<polygon points="2215.8,1632.8 2222.4,1630.9 2222.4,1439.6 2215.8,1441.5" fill="#f7f7f7"/>
<polygon points="2222.5,1443.6 2229,1441.8 2225.8,1440.7 2219.2,1442.6" fill="#bdbdbd"/>
<polygon points="2222.5,1635 2219.2,1633.9 2219.2,1442.6 2222.5,1443.6" fill="#efefef"/>
<polygon points="2222.5,1635 2229,1633.1 2229,1441.8 2222.5,1443.6" fill="#f7f7f7"/>
<circle cx="2226.1" cy="1463.5" r="0.9" fill="#333" stroke="none"/>
<circle cx="2226.1" cy="1475.0" r="0.9" fill="#333" stroke="none"/>
<circle cx="2226.1" cy="1628.2" r="0.9" fill="#333" stroke="none"/>
<polygon points="2088.7,1326.1 2231.4,1484.7 2226,1496.2 2088.7,1343.6" fill="#ececec"/>
<polygon points="2231.4,1484.7 2563.4,1389.2 2558,1400.7 2226,1496.2" fill="#c9c9c9"/>
<polygon points="2088.7,1326.1 2420.7,1229.2 2563.4,1387.8 2231.4,1484.7" fill="#d2d2d2" stroke-width="0.6"/>
<polygon points="2088.7,1326.1 2091.2,1324.5 2233.9,1483 2231.4,1484.7" fill="#f0f0f0" stroke-width="0.5"/>
<path d="M2100.4 1330L2236.9 1481.7M2110.7 1327L2247.2 1478.7M2121 1324L2257.5 1475.7M2131.3 1321.1L2267.8 1472.8M2141.6 1318.1L2278.1 1469.8M2151.9 1315.1L2288.5 1466.9M2162.2 1312.2L2298.8 1463.9M2172.6 1309.2L2309.1 1460.9M2182.9 1306.3L2319.4 1458M2193.2 1303.3L2329.7 1455M2203.5 1300.3L2340 1452M2213.8 1297.4L2350.3 1449.1M2224.1 1294.4L2360.6 1446.1M2234.4 1291.4L2370.9 1443.1M2244.7 1288.5L2381.2 1440.2M2255 1285.5L2391.5 1437.2M2265.3 1282.5L2401.9 1434.2M2275.6 1279.6L2412.2 1431.3M2286 1276.6L2422.5 1428.3M2296.3 1273.6L2432.8 1425.3M2306.6 1270.7L2443.1 1422.4M2316.9 1267.7L2453.4 1419.4M2327.2 1264.7L2463.7 1416.4M2337.5 1261.8L2474 1413.5M2347.8 1258.8L2484.3 1410.5M2358.1 1255.9L2494.6 1407.6M2368.4 1252.9L2504.9 1404.6M2378.7 1249.9L2515.2 1401.6M2389 1247L2525.6 1398.7M2399.3 1244L2535.9 1395.7M2409.7 1241L2546.2 1392.7M2420 1238.1L2556.5 1389.8" stroke="#bdbdbd" stroke-width="3.2"/>
<path d="M2104.8 1328.7L2241.3 1480.4M2115.1 1325.7L2251.6 1477.5M2125.4 1322.8L2261.9 1474.5M2135.7 1319.8L2272.2 1471.5M2146 1316.9L2282.5 1468.6M2156.3 1313.9L2292.8 1465.6M2166.6 1310.9L2303.1 1462.6M2176.9 1308L2313.4 1459.7M2187.2 1305L2323.7 1456.7M2197.5 1302L2334.1 1453.7M2207.8 1299.1L2344.4 1450.8M2218.2 1296.1L2354.7 1447.8M2228.5 1293.1L2365 1444.8M2238.8 1290.2L2375.3 1441.9M2249.1 1287.2L2385.6 1438.9M2259.4 1284.2L2395.9 1435.9M2269.7 1281.3L2406.2 1433M2280 1278.3L2416.5 1430M2290.3 1275.3L2426.8 1427.1M2300.6 1272.4L2437.1 1424.1M2310.9 1269.4L2447.5 1421.1M2321.2 1266.5L2457.8 1418.2M2331.5 1263.5L2468.1 1415.2M2341.9 1260.5L2478.4 1412.2M2352.2 1257.6L2488.7 1409.3M2362.5 1254.6L2499 1406.3M2372.8 1251.6L2509.3 1403.3M2383.1 1248.7L2519.6 1400.4M2393.4 1245.7L2529.9 1397.4M2403.7 1242.7L2540.2 1394.4M2414 1239.8L2550.5 1391.5M2424.3 1236.8L2560.8 1388.5" stroke="#f3f3f3" stroke-width="1.9"/>
<path d="M2097.8 1330.7L2234.3 1482.4M2103 1329.2L2239.5 1480.9M2108.1 1327.8L2244.6 1479.5M2113.3 1326.3L2249.8 1478M2118.4 1324.8L2254.9 1476.5M2123.6 1323.3L2260.2 1475M2128.7 1321.8L2265.2 1473.5M2133.9 1320.3L2270.5 1472M2139 1318.9L2275.5 1470.6M2144.2 1317.4L2280.8 1469.1M2149.3 1315.9L2285.8 1467.6M2154.6 1314.4L2291.1 1466.1M2159.6 1312.9L2296.1 1464.6M2164.9 1311.4L2301.4 1463.1M2169.9 1310L2306.5 1461.7M2175.2 1308.5L2311.7 1460.2M2180.2 1307L2316.8 1458.7M2185.5 1305.5L2322 1457.2M2190.6 1304L2327.1 1455.7M2195.8 1302.5L2332.3 1454.2M2200.9 1301.1L2337.4 1452.8M2206.1 1299.6L2342.6 1451.3M2211.2 1298.1L2347.7 1449.8M2216.4 1296.6L2352.9 1448.3M2221.5 1295.1L2358 1446.9M2226.7 1293.6L2363.2 1445.3M2231.8 1292.2L2368.3 1443.9M2237 1290.7L2373.5 1442.4M2242.1 1289.2L2378.6 1440.9M2247.3 1287.7L2383.9 1439.4M2252.4 1286.3L2388.9 1438M2257.6 1284.7L2394.2 1436.4M2262.7 1283.3L2399.2 1435M2268 1281.8L2404.5 1433.5M2273 1280.3L2409.5 1432M2278.3 1278.8L2414.8 1430.5M2283.3 1277.4L2419.9 1429.1M2288.6 1275.9L2425.1 1427.6M2293.6 1274.4L2430.2 1426.1M2298.9 1272.9L2435.4 1424.6M2303.9 1271.4L2440.5 1423.1M2309.2 1269.9L2445.7 1421.6M2314.3 1268.5L2450.8 1420.2M2319.5 1267L2456 1418.7M2324.6 1265.5L2461.1 1417.2M2329.8 1264L2466.3 1415.7M2334.9 1262.5L2471.4 1414.2M2340.1 1261L2476.6 1412.7M2345.2 1259.6L2481.7 1411.3M2350.4 1258.1L2486.9 1409.8M2355.5 1256.6L2492 1408.3M2360.7 1255.1L2497.2 1406.8M2365.8 1253.6L2502.3 1405.3M2371 1252.1L2507.6 1403.8M2376.1 1250.7L2512.6 1402.4M2381.3 1249.2L2517.9 1400.9M2386.4 1247.7L2522.9 1399.4M2391.7 1246.2L2528.2 1397.9M2396.7 1244.7L2533.2 1396.4M2402 1243.2L2538.5 1394.9M2407 1241.8L2543.6 1393.5M2412.3 1240.3L2548.8 1392M2417.3 1238.8L2553.9 1390.5M2422.6 1237.3L2559.1 1389" stroke="#6f6f6f" stroke-width="1.15"/>
<polygon points="2087.2,1323.7 2422.2,1227.4 2429.1,1235 2094.1,1331.3" fill="#f1f1f1"/>
<polygon points="2087.2,1323.7 2094.1,1331.3 2094.1,1334.2 2087.2,1326.5" fill="#ececec" stroke-width="0.5"/>
<polygon points="2234.7,1493.2 2572.5,1396.1 2572.5,1400.8 2234.7,1498" fill="#eeeeee"/>
<polygon points="2234.7,1493.2 2572.5,1396.1 2568.4,1394.7 2230.5,1491.9" fill="#8f8f8f" stroke-width="0.5"/>
<polygon points="2226,1520.3 2226,1633.6 2230.2,1633.6 2230.2,1520.3" fill="#f4f4f4"/>
<polygon points="2262.4,1482 2226.7,1519 2229.5,1521.6 2265.2,1484.6" fill="#f4f4f4"/>
<polygon points="2227.5,1630.5 2215.9,1633.8 2217.1,1638.1 2228.7,1634.7" fill="#f4f4f4"/>
<circle cx="2228.1" cy="1520.3" r="2.6" fill="#f4f4f4"/>
<circle cx="2263.8" cy="1483.3" r="2.6" fill="#f4f4f4"/>
<circle cx="2228.1" cy="1632.6" r="2.6" fill="#f4f4f4"/>
<polygon points="2499.5,1441.6 2499.5,1554.9 2503.7,1554.9 2503.7,1441.6" fill="#f4f4f4"/>
<polygon points="2535.9,1403.3 2500.2,1440.3 2503,1442.9 2538.7,1406" fill="#f4f4f4"/>
<polygon points="2502.2,1556.1 2516.8,1551.9 2515.6,1547.7 2501,1551.8" fill="#f4f4f4"/>
<circle cx="2501.6" cy="1441.6" r="2.6" fill="#f4f4f4"/>
<circle cx="2537.3" cy="1404.7" r="2.6" fill="#f4f4f4"/>
<circle cx="2501.6" cy="1553.9" r="2.6" fill="#f4f4f4"/>
<path d="M1974.1 1392.4L2010.3 1452.7M1976.3 1391.8L2012.5 1452.1" stroke-width="0.6"/>
<polygon points="2013.1,1564 2004.4,1566.5 2005.6,1570.7 2014.3,1568.2" fill="#f4f4f4"/>
<polygon points="2249.4,1647.3 2352.3,1617.7 2321.7,1607.8 2218.8,1637.4" fill="#ececec"/>
<polygon points="2249.4,1657.8 2218.8,1647.9 2218.8,1637.4 2249.4,1647.3" fill="#ececec"/>
<polygon points="2249.4,1657.8 2352.3,1628.2 2352.3,1617.7 2249.4,1647.3" fill="#f7f7f7"/>
<path d="M2247.3 1646.2L2348.8 1617M2244.3 1645.2L2345.7 1616M2241.2 1644.2L2342.6 1615M2238.1 1643.2L2339.5 1614M2235 1642.2L2336.5 1613" stroke="#5f5f5f" stroke-width="0.9"/>
<polygon points="2251.5,1627 2334.1,1603.2 2321.7,1599.2 2239.2,1623" fill="#ececec"/>
<polygon points="2251.5,1635.6 2239.2,1631.5 2239.2,1623 2251.5,1627" fill="#ececec"/>
<polygon points="2251.5,1635.6 2334.1,1611.8 2334.1,1603.2 2251.5,1627" fill="#f7f7f7"/>
<path d="M2249.5 1625.9L2330.6 1602.6M2246.4 1624.9L2327.5 1601.6M2243.3 1623.9L2324.5 1600.6" stroke="#5f5f5f" stroke-width="0.9"/></g>
<g id="st8"><polygon points="2324.8,2223.8 2325.2,2225.3 2326.4,2226.7 2328.4,2228 2331.1,2229.2 2334.4,2230.2 2338.3,2231 2342.5,2231.6 2347.1,2232 2351.8,2232.1 2356.5,2232 2361,2231.6 2365.3,2231 2369.1,2230.2 2372.5,2229.2 2375.2,2228 2377.1,2226.7 2378.4,2225.3 2378.8,2223.9 2378.8,2081.1 2378.4,2082.5 2377.1,2083.9 2375.2,2085.2 2372.5,2086.4 2369.1,2087.4 2365.3,2088.2 2361,2088.8 2356.5,2089.2 2351.8,2089.3 2347.1,2089.2 2342.5,2088.8 2338.3,2088.2 2334.4,2087.4 2331.1,2086.4 2328.4,2085.2 2326.4,2083.9 2325.2,2082.5 2324.8,2081.1" fill="url(#cylg)"/>
<polygon points="2081.2,2300.5 2632.8,2141.9 2320.8,2040.6 1769.2,2199.2" fill="#a6a6a6" stroke="#666" stroke-width="0.8"/>
<polygon points="2324.8,2081.1 2325.2,2082.5 2326.4,2083.9 2328.4,2085.2 2331.1,2086.4 2334.4,2087.4 2338.3,2088.2 2342.5,2088.8 2347.1,2089.2 2351.8,2089.3 2356.5,2089.2 2361,2088.8 2365.3,2088.2 2369.1,2087.4 2372.5,2086.4 2375.2,2085.2 2377.1,2083.9 2378.4,2082.5 2378.8,2081.1 2378.8,2074.4 2378.4,2075.9 2377.1,2077.3 2375.2,2078.6 2372.5,2079.7 2369.1,2080.8 2365.3,2081.6 2361,2082.2 2356.5,2082.5 2351.8,2082.7 2347.1,2082.5 2342.5,2082.2 2338.3,2081.6 2334.4,2080.7 2331.1,2079.7 2328.4,2078.5 2326.4,2077.2 2325.2,2075.8 2324.8,2074.4" fill="url(#cylgd)"/>
<polygon points="2371.4,2068.8 2367.9,2067.8 2363.9,2067.1 2359.5,2066.5 2354.9,2066.2 2350.2,2066.2 2345.6,2066.4 2341.1,2066.8 2336.9,2067.5 2333.3,2068.4 2330.1,2069.5 2327.7,2070.7 2325.9,2072 2325,2073.4 2324.8,2074.9 2325.5,2076.3 2327,2077.7 2329.2,2078.9 2332.1,2080.1 2335.7,2081 2339.7,2081.8 2344,2082.3 2348.6,2082.6 2353.3,2082.7 2358,2082.5 2362.5,2082 2366.6,2081.3 2370.3,2080.4 2373.4,2079.4 2375.9,2078.1 2377.6,2076.8 2378.6,2075.4 2378.7,2074 2378.1,2072.5 2376.6,2071.2 2374.3,2069.9" fill="#a6a6a6"/>
<polygon points="2551.6,2124.1 2551.8,2124.9 2552.4,2125.7 2553.5,2126.4 2555,2127 2556.7,2127.5 2558.8,2128 2561.1,2128.3 2563.5,2128.5 2566.1,2128.6 2568.6,2128.5 2571,2128.3 2573.3,2128 2575.4,2127.6 2577.2,2127 2578.6,2126.4 2579.7,2125.7 2580.3,2124.9 2580.6,2124.2 2580.6,2114.6 2580.3,2115.4 2579.7,2116.2 2578.6,2116.9 2577.2,2117.5 2575.4,2118 2573.3,2118.5 2571,2118.8 2568.6,2119 2566.1,2119.1 2563.5,2119 2561.1,2118.8 2558.8,2118.5 2556.7,2118 2555,2117.5 2553.5,2116.8 2552.4,2116.1 2551.8,2115.4 2551.6,2114.6" fill="url(#tank)"/>
<polygon points="2550.1,2114.6 2550.3,2115.5 2551,2116.3 2552.2,2117.1 2553.8,2117.8 2555.8,2118.4 2558.1,2118.9 2560.6,2119.2 2563.3,2119.4 2566.1,2119.5 2568.8,2119.5 2571.5,2119.2 2574.1,2118.9 2576.3,2118.4 2578.3,2117.8 2579.9,2117.1 2581.1,2116.3 2581.8,2115.5 2582.1,2114.6 2582.1,2079.4 2581.8,2080.3 2581.1,2081.1 2579.9,2081.9 2578.3,2082.6 2576.3,2083.2 2574.1,2083.7 2571.5,2084 2568.8,2084.2 2566.1,2084.3 2563.3,2084.2 2560.6,2084 2558.1,2083.6 2555.8,2083.2 2553.8,2082.5 2552.2,2081.9 2551,2081.1 2550.3,2080.3 2550.1,2079.4" fill="url(#tank)"/>
<polygon points="2551.6,2079.4 2551.8,2080.2 2552.4,2080.9 2553.5,2081.6 2555,2082.3 2556.7,2082.8 2558.8,2083.2 2561.1,2083.6 2563.5,2083.8 2566.1,2083.8 2568.6,2083.8 2571,2083.6 2573.3,2083.3 2575.4,2082.8 2577.2,2082.3 2578.6,2081.6 2579.7,2080.9 2580.3,2080.2 2580.6,2079.4 2580.6,2070.9 2580.3,2071.6 2579.7,2072.4 2578.6,2073.1 2577.2,2073.7 2575.4,2074.2 2573.3,2074.7 2571,2075 2568.6,2075.2 2566.1,2075.3 2563.5,2075.2 2561.1,2075 2558.8,2074.7 2556.7,2074.2 2555,2073.7 2553.5,2073.1 2552.4,2072.4 2551.8,2071.6 2551.6,2070.8" fill="url(#tank)"/>
<polygon points="2576.6,2067.8 2574.7,2067.3 2572.6,2066.9 2570.2,2066.6 2567.7,2066.4 2565.2,2066.4 2562.7,2066.5 2560.3,2066.8 2558.1,2067.1 2556.1,2067.6 2554.4,2068.2 2553.1,2068.9 2552.2,2069.6 2551.7,2070.3 2551.6,2071.1 2552,2071.9 2552.7,2072.6 2553.9,2073.3 2555.5,2073.9 2557.4,2074.4 2559.6,2074.8 2561.9,2075.1 2564.4,2075.2 2566.9,2075.3 2569.4,2075.2 2571.8,2074.9 2574,2074.6 2576,2074.1 2577.7,2073.5 2579,2072.8 2580,2072.1 2580.5,2071.4 2580.5,2070.6 2580.2,2069.8 2579.4,2069.1 2578.2,2068.4" fill="#f4f4f4"/>
<polygon points="2574.1,2068.5 2572.6,2068.2 2571,2067.8 2569.2,2067.6 2567.3,2067.5 2565.4,2067.5 2563.5,2067.6 2561.7,2067.8 2560,2068 2558.5,2068.4 2557.2,2068.8 2556.2,2069.3 2555.5,2069.9 2555.1,2070.5 2555.1,2071 2555.4,2071.6 2556,2072.2 2556.9,2072.7 2558.1,2073.1 2559.5,2073.5 2561.1,2073.8 2562.9,2074.1 2564.8,2074.2 2566.7,2074.2 2568.6,2074.1 2570.4,2073.9 2572.1,2073.7 2573.6,2073.3 2574.9,2072.9 2575.9,2072.4 2576.6,2071.8 2577,2071.2 2577,2070.7 2576.8,2070.1 2576.2,2069.5 2575.3,2069" fill="#fbfbfb" stroke-width="0.6"/>
<polygon points="2578.4,2132.9 2578.6,2133.6 2579.3,2134.4 2580.3,2135.1 2581.8,2135.7 2583.6,2136.3 2585.6,2136.7 2587.9,2137 2590.4,2137.2 2592.9,2137.3 2595.4,2137.2 2597.8,2137 2600.1,2136.7 2602.2,2136.3 2604,2135.7 2605.4,2135.1 2606.5,2134.4 2607.2,2133.6 2607.4,2132.9 2607.4,2123.4 2607.2,2124.1 2606.5,2124.9 2605.4,2125.6 2604,2126.2 2602.2,2126.7 2600.1,2127.2 2597.8,2127.5 2595.4,2127.7 2592.9,2127.8 2590.4,2127.7 2587.9,2127.5 2585.6,2127.2 2583.6,2126.7 2581.8,2126.2 2580.3,2125.6 2579.3,2124.9 2578.6,2124.1 2578.4,2123.3" fill="url(#tank)"/>
<polygon points="2576.9,2123.3 2577.1,2124.2 2577.9,2125 2579,2125.8 2580.6,2126.5 2582.6,2127.1 2584.9,2127.6 2587.4,2127.9 2590.1,2128.2 2592.9,2128.2 2595.7,2128.2 2598.4,2127.9 2600.9,2127.6 2603.2,2127.1 2605.1,2126.5 2606.7,2125.8 2607.9,2125 2608.6,2124.2 2608.9,2123.4 2608.9,2088.1 2608.6,2089 2607.9,2089.8 2606.7,2090.6 2605.1,2091.3 2603.2,2091.9 2600.9,2092.4 2598.4,2092.7 2595.7,2092.9 2592.9,2093 2590.1,2092.9 2587.4,2092.7 2584.9,2092.4 2582.6,2091.9 2580.6,2091.3 2579,2090.6 2577.9,2089.8 2577.1,2089 2576.9,2088.1" fill="url(#tank)"/>
<polygon points="2578.4,2088.1 2578.6,2088.9 2579.3,2089.6 2580.3,2090.3 2581.8,2091 2583.6,2091.5 2585.6,2092 2587.9,2092.3 2590.4,2092.5 2592.9,2092.6 2595.4,2092.5 2597.8,2092.3 2600.1,2092 2602.2,2091.5 2604,2091 2605.4,2090.4 2606.5,2089.7 2607.2,2088.9 2607.4,2088.1 2607.4,2079.6 2607.2,2080.3 2606.5,2081.1 2605.4,2081.8 2604,2082.4 2602.2,2083 2600.1,2083.4 2597.8,2083.7 2595.4,2083.9 2592.9,2084 2590.4,2083.9 2587.9,2083.7 2585.6,2083.4 2583.6,2082.9 2581.8,2082.4 2580.3,2081.8 2579.3,2081.1 2578.6,2080.3 2578.4,2079.5" fill="url(#tank)"/>
<polygon points="2603.4,2076.5 2601.5,2076 2599.4,2075.6 2597,2075.3 2594.6,2075.2 2592,2075.1 2589.5,2075.2 2587.1,2075.5 2584.9,2075.9 2582.9,2076.3 2581.3,2076.9 2579.9,2077.6 2579,2078.3 2578.5,2079 2578.4,2079.8 2578.8,2080.6 2579.6,2081.3 2580.8,2082 2582.3,2082.6 2584.2,2083.1 2586.4,2083.5 2588.7,2083.8 2591.2,2084 2593.7,2084 2596.2,2083.9 2598.6,2083.6 2600.9,2083.3 2602.8,2082.8 2604.5,2082.2 2605.8,2081.6 2606.8,2080.8 2607.3,2080.1 2607.4,2079.3 2607,2078.5 2606.2,2077.8 2605,2077.1" fill="#f4f4f4"/>
<polygon points="2600.9,2077.3 2599.5,2076.9 2597.8,2076.6 2596,2076.3 2594.2,2076.2 2592.3,2076.2 2590.4,2076.3 2588.5,2076.5 2586.8,2076.7 2585.3,2077.1 2584.1,2077.5 2583.1,2078 2582.4,2078.6 2582,2079.2 2581.9,2079.7 2582.2,2080.3 2582.8,2080.9 2583.7,2081.4 2584.9,2081.9 2586.3,2082.3 2588,2082.6 2589.7,2082.8 2591.6,2082.9 2593.5,2082.9 2595.4,2082.8 2597.2,2082.6 2598.9,2082.4 2600.4,2082 2601.7,2081.6 2602.7,2081.1 2603.4,2080.5 2603.8,2080 2603.9,2079.4 2603.6,2078.8 2603,2078.2 2602.1,2077.7" fill="#fbfbfb" stroke-width="0.6"/>
<polygon points="2021.7,2155.8 2043.5,2149.5 2022.9,2142.8 2001.1,2149.1" fill="#a6a6a6"/>
<polygon points="2021.7,2167.2 2001.1,2160.5 2001.1,2149.1 2021.7,2155.8" fill="#ebebeb"/>
<polygon points="2021.7,2167.2 2043.5,2160.9 2043.5,2149.5 2021.7,2155.8" fill="#f5f5f5"/>
<polygon points="2489.1,2142.8 2510.9,2136.5 2490.4,2129.8 2468.5,2136.1" fill="#a6a6a6"/>
<polygon points="2489.1,2154.2 2468.5,2147.5 2468.5,2136.1 2489.1,2142.8" fill="#ebebeb"/>
<polygon points="2489.1,2154.2 2510.9,2147.9 2510.9,2136.5 2489.1,2142.8" fill="#f5f5f5"/>
<polygon points="2325.5,2189.8 2347.3,2183.6 2326.7,2176.9 2304.9,2183.1" fill="#a6a6a6"/>
<polygon points="2325.5,2201.2 2304.9,2194.6 2304.9,2183.1 2325.5,2189.8" fill="#ebebeb"/>
<polygon points="2325.5,2201.2 2347.3,2195 2347.3,2183.6 2325.5,2189.8" fill="#f5f5f5"/>
<polygon points="2220,2220.2 2241.8,2213.9 2221.2,2207.2 2199.4,2213.5" fill="#a6a6a6"/>
<polygon points="2220,2231.6 2199.4,2224.9 2199.4,2213.5 2220,2220.2" fill="#ebebeb"/>
<polygon points="2220,2231.6 2241.8,2225.3 2241.8,2213.9 2220,2220.2" fill="#f5f5f5"/>
<polygon points="2123,2092.5 2129.6,2090.7 2126.3,2089.6 2119.7,2091.5" fill="#bdbdbd"/>
<polygon points="2123,2109.7 2119.7,2108.6 2119.7,2091.5 2123,2092.5" fill="#efefef"/>
<polygon points="2123,2109.7 2129.6,2107.8 2129.6,2090.7 2123,2092.5" fill="#f7f7f7"/>
<polygon points="2129.7,2094.7 2136.2,2092.8 2132.9,2091.7 2126.4,2093.6" fill="#bdbdbd"/>
<polygon points="2129.7,2111.8 2126.4,2110.8 2126.4,2093.6 2129.7,2094.7" fill="#efefef"/>
<polygon points="2129.7,2111.8 2136.2,2110 2136.2,2092.8 2129.7,2094.7" fill="#f7f7f7"/>
<polygon points="2017.5,2122.9 2024.1,2121 2020.8,2119.9 2014.2,2121.8" fill="#bdbdbd"/>
<polygon points="2017.5,2149.5 2014.2,2148.5 2014.2,2121.8 2017.5,2122.9" fill="#efefef"/>
<polygon points="2017.5,2149.5 2024.1,2147.6 2024.1,2121 2017.5,2122.9" fill="#f7f7f7"/>
<polygon points="2024.2,2125 2030.7,2123.2 2027.4,2122.1 2020.9,2124" fill="#bdbdbd"/>
<polygon points="2024.2,2151.7 2020.9,2150.6 2020.9,2124 2024.2,2125" fill="#efefef"/>
<polygon points="2024.2,2151.7 2030.7,2149.8 2030.7,2123.2 2024.2,2125" fill="#f7f7f7"/>
<circle cx="2027.8" cy="2144.9" r="0.9" fill="#333" stroke="none"/>
<circle cx="2027.8" cy="2144.9" r="0.9" fill="#333" stroke="none"/>
<polygon points="2222.5,2198 2498.2,2118.7 2289.9,2051.1 2014.2,2130.4" fill="#a6a6a6" stroke-width="0.6"/>
<polygon points="2212.6,2201.4 2024.2,2140.3 2024.2,2133.6 2212.6,2194.8" fill="#efefef"/>
<polygon points="2212.6,2210 2024.2,2148.8 2024.2,2143.1 2212.6,2204.3" fill="#e4e4e4" stroke-width="0.5"/>
<polygon points="2229,2211.3 2328,2182.9 2328,2167.7 2229,2196.1" fill="#f7f7f7"/>
<path d="M2229 2206.6L2328 2178.1" stroke-width="0.5"/>
<polygon points="2331.8,2180.1 2488.9,2134.9 2488.9,2129.2 2331.8,2174.4" fill="#f3f3f3"/>
<polygon points="2365.8,2165.9 2354.2,2162.1 2365.8,2158.3" fill="#efefef" stroke-width="0.5"/>
<polygon points="2365.8,2165.9 2370.2,2164.6 2370.2,2157 2365.8,2158.3" fill="#f7f7f7" stroke-width="0.5"/>
<polygon points="2396.4,2157.1 2384.7,2153.3 2396.4,2149.5" fill="#efefef" stroke-width="0.5"/>
<polygon points="2396.4,2157.1 2400.8,2155.8 2400.8,2148.2 2396.4,2149.5" fill="#f7f7f7" stroke-width="0.5"/>
<polygon points="2426.9,2148.3 2415.3,2144.5 2426.9,2140.7" fill="#efefef" stroke-width="0.5"/>
<polygon points="2426.9,2148.3 2431.3,2147 2431.3,2139.4 2426.9,2140.7" fill="#f7f7f7" stroke-width="0.5"/>
<polygon points="2457.5,2139.5 2445.8,2135.7 2457.5,2131.9" fill="#efefef" stroke-width="0.5"/>
<polygon points="2457.5,2139.5 2461.9,2138.3 2461.9,2130.6 2457.5,2131.9" fill="#f7f7f7" stroke-width="0.5"/>
<polygon points="2334.5,2167.7 2491.6,2122.5 2491.6,2120.6 2334.5,2165.8" fill="#f7f7f7" stroke-width="0.5"/>
<polygon points="2088.7,1907.2 1946,1973.1 1951.4,1988.1 2088.7,1924.7" fill="#ececec"/>
<polygon points="1951.4,1988.1 2283.5,1892.6 2420.7,1829.2 2088.7,1924.7" fill="#f4f4f4" stroke-width="0.5"/>
<polygon points="2281.1,1908 2297.1,1903.3 2288.9,1900.7 2272.9,1905.3" fill="#a6a6a6"/>
<polygon points="2281.1,1913.7 2272.9,1911 2272.9,1905.3 2281.1,1908" fill="#ececec"/>
<polygon points="2281.1,1913.7 2297.1,1909.1 2297.1,1903.3 2281.1,1908" fill="#f7f7f7"/>
<polygon points="2309.7,1897.2 2325.7,1892.6 2317.5,1889.9 2301.5,1894.5" fill="#a6a6a6"/>
<polygon points="2309.7,1902.9 2301.5,1900.2 2301.5,1894.5 2309.7,1897.2" fill="#ececec"/>
<polygon points="2309.7,1902.9 2325.7,1898.3 2325.7,1892.6 2309.7,1897.2" fill="#f7f7f7"/>
<polygon points="2260.9,1895.3 2261.3,1896.7 2262.4,1898 2264.3,1899.2 2266.8,1900.3 2269.9,1901.3 2273.6,1902 2277.5,1902.6 2281.8,1903 2286.2,1903.1 2290.6,1903 2294.9,1902.6 2298.9,1902.1 2302.5,1901.3 2305.6,1900.3 2308.1,1899.2 2310,1898 2311.1,1896.7 2311.5,1895.4 2311.5,1771.1 2311.1,1772.5 2310,1773.8 2308.1,1775 2305.6,1776.1 2302.5,1777.1 2298.9,1777.8 2294.9,1778.4 2290.6,1778.7 2286.2,1778.9 2281.8,1778.7 2277.5,1778.4 2273.6,1777.8 2269.9,1777 2266.8,1776.1 2264.3,1775 2262.4,1773.8 2261.3,1772.5 2260.9,1771.1" fill="url(#tank)"/>
<polygon points="2304.6,1765.8 2301.3,1764.9 2297.6,1764.2 2293.5,1763.7 2289.1,1763.5 2284.7,1763.4 2280.4,1763.6 2276.2,1764 2272.3,1764.7 2268.8,1765.5 2265.9,1766.5 2263.6,1767.6 2262,1768.9 2261.1,1770.2 2260.9,1771.6 2261.6,1772.9 2263,1774.2 2265.1,1775.4 2267.8,1776.4 2271.1,1777.3 2274.8,1778 2278.9,1778.5 2283.3,1778.8 2287.7,1778.9 2292,1778.7 2296.2,1778.2 2300.1,1777.6 2303.6,1776.8 2306.5,1775.8 2308.8,1774.6 2310.4,1773.4 2311.3,1772 2311.5,1770.7 2310.8,1769.4 2309.4,1768.1 2307.3,1766.9" fill="url(#tanktop)"/>
<polygon points="2270.6,1771.1 2270.8,1771.9 2271.5,1772.8 2272.7,1773.5 2274.3,1774.2 2276.2,1774.8 2278.4,1775.3 2280.9,1775.6 2283.5,1775.8 2286.2,1775.9 2288.9,1775.8 2291.5,1775.6 2294,1775.3 2296.2,1774.8 2298.2,1774.2 2299.7,1773.5 2300.9,1772.8 2301.6,1772 2301.8,1771.1 2301.8,1762.1 2301.6,1762.9 2300.9,1763.7 2299.7,1764.5 2298.2,1765.2 2296.2,1765.7 2294,1766.2 2291.5,1766.6 2288.9,1766.8 2286.2,1766.9 2283.5,1766.8 2280.9,1766.6 2278.4,1766.2 2276.2,1765.7 2274.3,1765.1 2272.7,1764.5 2271.5,1763.7 2270.8,1762.9 2270.6,1762.1" fill="url(#tank)"/>
<polygon points="2297.5,1758.8 2295.5,1758.3 2293.2,1757.8 2290.7,1757.5 2288,1757.4 2285.3,1757.3 2282.6,1757.4 2280,1757.7 2277.6,1758.1 2275.5,1758.6 2273.7,1759.2 2272.3,1759.9 2271.3,1760.7 2270.7,1761.5 2270.6,1762.4 2271,1763.2 2271.9,1764 2273.2,1764.7 2274.9,1765.4 2276.9,1765.9 2279.2,1766.3 2281.7,1766.7 2284.4,1766.8 2287.1,1766.8 2289.8,1766.7 2292.4,1766.5 2294.8,1766.1 2296.9,1765.6 2298.7,1764.9 2300.1,1764.2 2301.1,1763.5 2301.7,1762.7 2301.8,1761.8 2301.4,1761 2300.5,1760.2 2299.2,1759.5" fill="#a6a6a6"/>
<polygon points="2232.6,2107.3 2178.4,2089.7 2178.4,1920.2 2232.6,1937.8" fill="#ebebeb"/>
<polygon points="2232.6,2107.3 2346,2074.6 2346,1905.2 2232.6,1937.8" fill="#f4f4f4"/>
<polygon points="2232.5,1934 2348.9,1900.5 2291.9,1882 2175.5,1915.5" fill="#a6a6a6"/>
<polygon points="2232.5,1938.7 2175.5,1920.2 2175.5,1915.5 2232.5,1934" fill="#f0f0f0"/>
<polygon points="2232.5,1938.7 2348.9,1905.2 2348.9,1900.5 2232.5,1934" fill="#f7f7f7"/>
<path d="M2226.7 2105.4L2226.7 1944.5M2184.2 2091.6L2184.2 1930.7M2238.7 2105.5L2238.7 1944.6M2339.9 2076.4L2339.9 1915.6M2232.6 1946.4L2178.4 1928.8M2232.6 1946.4L2346 1913.8" stroke-width="0.5"/>
<polygon points="2270.4,2096.4 2276.2,2094.7 2276.2,1933.9 2270.4,1935.5" fill="#e4e4e4" stroke-width="0.5"/>
<polygon points="2241.3,1991.5 2267.5,1984 2267.5,1960.2 2241.3,1967.7" fill="#f9f9f9" stroke-width="0.5"/>
<path d="M2238.7 2020.8L2270.4 2011.7M2276.2 1962.4L2339.9 1944.1" stroke-width="0.5"/>
<polygon points="2123,1927.9 2129.6,1926 2126.3,1924.9 2119.7,1926.8" fill="#bdbdbd"/>
<polygon points="2123,2101.1 2119.7,2100 2119.7,1926.8 2123,1927.9" fill="#efefef"/>
<polygon points="2123,2101.1 2129.6,2099.2 2129.6,1926 2123,1927.9" fill="#f7f7f7"/>
<polygon points="2129.7,1930 2136.2,1928.1 2132.9,1927.1 2126.4,1929" fill="#bdbdbd"/>
<polygon points="2129.7,2103.3 2126.4,2102.2 2126.4,1929 2129.7,1930" fill="#efefef"/>
<polygon points="2129.7,2103.3 2136.2,2101.4 2136.2,1928.1 2129.7,1930" fill="#f7f7f7"/>
<circle cx="2133.3" cy="1949.9" r="0.9" fill="#333" stroke="none"/>
<circle cx="2133.3" cy="1961.3" r="0.9" fill="#333" stroke="none"/>
<polygon points="2017.5,1958.2 2024.1,1956.3 2020.8,1955.2 2014.2,1957.1" fill="#bdbdbd"/>
<polygon points="2017.5,2149.5 2014.2,2148.5 2014.2,1957.1 2017.5,1958.2" fill="#efefef"/>
<polygon points="2017.5,2149.5 2024.1,2147.6 2024.1,1956.3 2017.5,1958.2" fill="#f7f7f7"/>
<polygon points="2024.2,1960.4 2030.7,1958.5 2027.4,1957.4 2020.9,1959.3" fill="#bdbdbd"/>
<polygon points="2024.2,2151.7 2020.9,2150.6 2020.9,1959.3 2024.2,1960.4" fill="#efefef"/>
<polygon points="2024.2,2151.7 2030.7,2149.8 2030.7,1958.5 2024.2,1960.4" fill="#f7f7f7"/>
<circle cx="2027.8" cy="1980.3" r="0.9" fill="#333" stroke="none"/>
<circle cx="2027.8" cy="1991.7" r="0.9" fill="#333" stroke="none"/>
<circle cx="2027.8" cy="2144.9" r="0.9" fill="#333" stroke="none"/>
<polygon points="2230.1,2208.8 2335.5,2178.5 2335.5,2005.2 2230.1,2035.6" fill="#f4f4f4"/>
<path d="M2267.2 2198.1L2267.2 2112.5" stroke-width="0.6"/>
<polygon points="2236.6,2121.3 2267.2,2112.5 2267.2,2057.3 2236.6,2066.1" fill="#e2e2e2" stroke-width="0.6"/>
<path d="M2236.6 2118.4L2267.2 2109.6M2236.6 2115.6L2267.2 2106.8M2236.6 2112.7L2267.2 2103.9M2236.6 2109.8L2267.2 2101.1M2236.6 2107L2267.2 2098.2M2236.6 2104.1L2267.2 2095.3M2236.6 2101.3L2267.2 2092.5M2236.6 2098.4L2267.2 2089.6M2236.6 2095.6L2267.2 2086.8M2236.6 2092.7L2267.2 2083.9M2236.6 2089.9L2267.2 2081.1M2236.6 2087L2267.2 2078.2M2236.6 2084.1L2267.2 2075.4M2236.6 2081.3L2267.2 2072.5M2236.6 2078.4L2267.2 2069.6M2236.6 2075.6L2267.2 2066.8M2236.6 2072.7L2267.2 2063.9M2236.6 2069.9L2267.2 2061.1M2236.6 2067L2267.2 2058.2" stroke="#666" stroke-width="0.8"/>
<polygon points="2271.5,2184.5 2283.9,2181 2283.9,2020.1 2271.5,2023.6" fill="#f1f1f1" stroke-width="0.6"/>
<path d="M2277.4 2182.8L2277.4 2022" stroke-width="0.5"/>
<polygon points="2286.1,2178.4 2324.6,2167.3 2324.6,2035 2286.1,2046.1" fill="#eeeeee"/>
<polygon points="2287.5,2106.6 2323.2,2096.4 2323.2,2041.2 2287.5,2051.4" fill="#dedede" stroke-width="0.6"/>
<polygon points="2287.5,2103.9 2323.2,2093.6 2325.9,2086.2 2290.3,2096.5" fill="#ececec" stroke-width="0.5"/>
<polygon points="2323.2,2093.6 2325.9,2086.2 2325.9,2087.9 2323.2,2095.3" fill="#555" stroke="none"/>
<polygon points="2287.5,2092.8 2323.2,2082.6 2325.9,2075.2 2290.3,2085.4" fill="#ececec" stroke-width="0.5"/>
<polygon points="2323.2,2082.6 2325.9,2075.2 2325.9,2076.8 2323.2,2084.2" fill="#555" stroke="none"/>
<polygon points="2287.5,2081.8 2323.2,2071.5 2325.9,2064.1 2290.3,2074.4" fill="#ececec" stroke-width="0.5"/>
<polygon points="2323.2,2071.5 2325.9,2064.1 2325.9,2065.8 2323.2,2073.2" fill="#555" stroke="none"/>
<polygon points="2287.5,2070.7 2323.2,2060.5 2325.9,2053.1 2290.3,2063.3" fill="#ececec" stroke-width="0.5"/>
<polygon points="2323.2,2060.5 2325.9,2053.1 2325.9,2054.7 2323.2,2062.1" fill="#555" stroke="none"/>
<polygon points="2287.5,2059.7 2323.2,2049.4 2325.9,2042 2290.3,2052.3" fill="#ececec" stroke-width="0.5"/>
<polygon points="2323.2,2049.4 2325.9,2042 2325.9,2043.7 2323.2,2051.1" fill="#555" stroke="none"/>
<polygon points="2287.5,2171.3 2323.2,2161.1 2323.2,2098.3 2287.5,2108.5" fill="#d9d9d9" stroke-width="0.6"/>
<path d="M2287.5 2169.1L2323.2 2158.8M2287.5 2166.8L2323.2 2156.5M2287.5 2164.5L2323.2 2154.2M2287.5 2162.2L2323.2 2152M2287.5 2159.9L2323.2 2149.7M2287.5 2157.6L2323.2 2147.4M2287.5 2155.4L2323.2 2145.1M2287.5 2153.1L2323.2 2142.8M2287.5 2150.8L2323.2 2140.5M2287.5 2148.5L2323.2 2138.3M2287.5 2146.2L2323.2 2136M2287.5 2143.9L2323.2 2133.7M2287.5 2141.6L2323.2 2131.4M2287.5 2139.4L2323.2 2129.1M2287.5 2137.1L2323.2 2126.8M2287.5 2134.8L2323.2 2124.5M2287.5 2132.5L2323.2 2122.3M2287.5 2130.2L2323.2 2120M2287.5 2127.9L2323.2 2117.7M2287.5 2125.7L2323.2 2115.4M2287.5 2123.4L2323.2 2113.1M2287.5 2121.1L2323.2 2110.8M2287.5 2118.8L2323.2 2108.6M2287.5 2116.5L2323.2 2106.3M2287.5 2114.2L2323.2 2104M2287.5 2112L2323.2 2101.7M2287.5 2109.7L2323.2 2099.4" stroke="#6a6a6a"/>
<polygon points="2335.5,2178.5 2494.1,2132.9 2494.1,2052 2335.5,2097.6" fill="#f4f4f4"/>
<path d="M2396.3 2161L2396.3 2080.1M2426.5 2152.3L2426.5 2071.4"/>
<polygon points="2334.2,2097.1 2492.7,2051.5 2492.7,1959.2 2334.2,2004.8" fill="#f6f6f6"/>
<path d="M2338.5 2079.5L2460.7 2044.4M2338.5 2066L2460.7 2030.8M2338.5 2052.5L2460.7 2017.3M2338.5 2038.9L2460.7 2003.8M2338.5 2025.4L2460.7 1990.3M2338.5 2011.9L2460.7 1976.8" stroke-width="0.6"/>
<polygon points="2335.6,2097.1 2339.2,2096.1 2339.2,2003.8 2335.6,2004.8" fill="#eeeeee" stroke-width="0.5"/>
<polygon points="2398.1,2079.1 2401.8,2078.1 2401.8,1985.8 2398.1,1986.8" fill="#eeeeee" stroke-width="0.5"/>
<polygon points="2460,2061.4 2463.6,2060.3 2463.6,1968 2460,1969" fill="#eeeeee" stroke-width="0.5"/>
<polygon points="2465.1,2050.4 2486.2,2044.3 2486.2,1999.6 2465.1,2005.6" fill="#dedede" stroke-width="0.6"/>
<polygon points="2465.1,2047.6 2486.2,2041.5 2488.9,2034 2467.8,2040.1" fill="#ececec" stroke-width="0.5"/>
<polygon points="2486.2,2041.5 2488.9,2034 2488.9,2035.7 2486.2,2043.2" fill="#555" stroke="none"/>
<polygon points="2465.1,2036.4 2486.2,2030.3 2488.9,2022.8 2467.8,2028.9" fill="#ececec" stroke-width="0.5"/>
<polygon points="2486.2,2030.3 2488.9,2022.8 2488.9,2024.5 2486.2,2032" fill="#555" stroke="none"/>
<polygon points="2465.1,2025.2 2486.2,2019.2 2488.9,2011.7 2467.8,2017.7" fill="#ececec" stroke-width="0.5"/>
<polygon points="2486.2,2019.2 2488.9,2011.7 2488.9,2013.3 2486.2,2020.8" fill="#555" stroke="none"/>
<polygon points="2465.1,2014 2486.2,2008 2488.9,2000.5 2467.8,2006.5" fill="#ececec" stroke-width="0.5"/>
<polygon points="2486.2,2008 2488.9,2000.5 2488.9,2002.1 2486.2,2009.6" fill="#555" stroke="none"/>
<polygon points="2335.5,2097.6 2494.1,2052 2494.1,2049.1 2335.5,2094.7" fill="#bdbdbd" stroke-width="0.5"/>
<polygon points="2485,1945.2 2491.5,1943.3 2488.2,1942.2 2481.7,1944.1" fill="#bdbdbd"/>
<polygon points="2485,2136.5 2481.7,2135.4 2481.7,1944.1 2485,1945.2" fill="#efefef"/>
<polygon points="2485,2136.5 2491.5,2134.6 2491.5,1943.3 2485,1945.2" fill="#f7f7f7"/>
<polygon points="2491.6,1947.3 2498.2,1945.5 2494.9,1944.4 2488.3,1946.3" fill="#bdbdbd"/>
<polygon points="2491.6,2138.7 2488.3,2137.6 2488.3,1946.3 2491.6,1947.3" fill="#efefef"/>
<polygon points="2491.6,2138.7 2498.2,2136.8 2498.2,1945.5 2491.6,1947.3" fill="#f7f7f7"/>
<circle cx="2495.3" cy="1967.2" r="0.9" fill="#333" stroke="none"/>
<circle cx="2495.3" cy="1978.7" r="0.9" fill="#333" stroke="none"/>
<circle cx="2495.3" cy="2131.9" r="0.9" fill="#333" stroke="none"/>
<polygon points="2321.3,1992.3 2327.9,1990.4 2324.6,1989.3 2318,1991.2" fill="#bdbdbd"/>
<polygon points="2321.3,2183.6 2318,2182.5 2318,1991.2 2321.3,1992.3" fill="#efefef"/>
<polygon points="2321.3,2183.6 2327.9,2181.7 2327.9,1990.4 2321.3,1992.3" fill="#f7f7f7"/>
<polygon points="2328,1994.4 2334.5,1992.5 2331.2,1991.5 2324.7,1993.3" fill="#bdbdbd"/>
<polygon points="2328,2185.7 2324.7,2184.7 2324.7,1993.3 2328,1994.4" fill="#efefef"/>
<polygon points="2328,2185.7 2334.5,2183.9 2334.5,1992.5 2328,1994.4" fill="#f7f7f7"/>
<circle cx="2331.6" cy="2014.3" r="0.9" fill="#333" stroke="none"/>
<circle cx="2331.6" cy="2025.7" r="0.9" fill="#333" stroke="none"/>
<circle cx="2331.6" cy="2179.0" r="0.9" fill="#333" stroke="none"/>
<polygon points="2222.1,2211.3 2010.7,2142.7 2010.7,2061.8 2222.1,2130.4" fill="#ededed"/>
<path d="M2156.9 2190.2L2156.9 2109.3M2115 2176.6L2115 2095.7M2073.8 2163.2L2073.8 2082.3"/>
<polygon points="2215.6,2127.7 2018.7,2063.7 2018.7,1974.2 2215.6,2038.2" fill="#efefef"/>
<path d="M2215.6 2117.5L2018.7 2053.5M2215.6 2104.4L2018.7 2040.5M2215.6 2091.4L2018.7 2027.4M2215.6 2078.3L2018.7 2014.4M2215.6 2065.3L2018.7 2001.4M2215.6 2052.3L2018.7 1988.3M2215.6 2039.2L2018.7 1975.3" stroke-width="0.6"/>
<path d="M2154.2 2107.7L2154.2 2018.2M2072.9 2081.3L2072.9 1991.8" stroke-width="1.1"/>
<polygon points="2215.6,2038.2 2018.7,1974.2 2018.7,1966.6 2215.6,2030.6" fill="#a6a6a6" stroke-width="0.5"/>
<polygon points="2222.5,2033.3 2222.5,2023 2118.4,1907.3 2014.2,1955.3 2014.2,1965.7" fill="#ececec"/>
<path d="M2217.7 2031.8L2217.7 2017.6M2207.3 2028.4L2207.3 2006M2196.8 2025L2196.8 1994.5M2186.4 2021.6L2186.4 1982.9M2176 2018.2L2176 1971.3M2165.5 2014.8L2165.5 1959.7M2155.1 2011.4L2155.1 1948.1M2144.7 2008L2144.7 1936.5M2134.3 2004.7L2134.3 1924.9M2123.8 2001.3L2123.8 1913.3M2113.4 1997.9L2113.4 1909.6M2103 1994.5L2103 1914.4M2092.5 1991.1L2092.5 1919.2M2082.1 1987.7L2082.1 1924M2071.7 1984.3L2071.7 1928.8M2061.2 1981L2061.2 1933.6M2050.8 1977.6L2050.8 1938.5M2040.4 1974.2L2040.4 1943.3M2030 1970.8L2030 1948.1M2019.5 1967.4L2019.5 1952.9" stroke-width="0.6"/>
<polygon points="2215.8,2022.6 2222.4,2020.7 2219.1,2019.6 2212.6,2021.5" fill="#bdbdbd"/>
<polygon points="2215.8,2213.9 2212.6,2212.8 2212.6,2021.5 2215.8,2022.6" fill="#efefef"/>
<polygon points="2215.8,2213.9 2222.4,2212 2222.4,2020.7 2215.8,2022.6" fill="#f7f7f7"/>
<polygon points="2222.5,2024.7 2229,2022.9 2225.8,2021.8 2219.2,2023.7" fill="#bdbdbd"/>
<polygon points="2222.5,2216.1 2219.2,2215 2219.2,2023.7 2222.5,2024.7" fill="#efefef"/>
<polygon points="2222.5,2216.1 2229,2214.2 2229,2022.9 2222.5,2024.7" fill="#f7f7f7"/>
<circle cx="2226.1" cy="2044.6" r="0.9" fill="#333" stroke="none"/>
<circle cx="2226.1" cy="2056.1" r="0.9" fill="#333" stroke="none"/>
<circle cx="2226.1" cy="2209.3" r="0.9" fill="#333" stroke="none"/>
<polygon points="2088.7,1907.2 2231.4,2065.8 2226,2077.3 2088.7,1924.7" fill="#ececec"/>
<polygon points="2231.4,2065.8 2563.4,1970.3 2558,1981.8 2226,2077.3" fill="#c9c9c9"/>
<polygon points="2088.7,1907.2 2420.7,1810.3 2563.4,1968.9 2231.4,2065.8" fill="#d2d2d2" stroke-width="0.6"/>
<polygon points="2088.7,1907.2 2091.2,1905.6 2233.9,2064.1 2231.4,2065.8" fill="#f0f0f0" stroke-width="0.5"/>
<path d="M2100.4 1911.1L2236.9 2062.8M2110.7 1908.1L2247.2 2059.8M2121 1905.1L2257.5 2056.8M2131.3 1902.2L2267.8 2053.9M2141.6 1899.2L2278.1 2050.9M2151.9 1896.2L2288.5 2048M2162.2 1893.3L2298.8 2045M2172.6 1890.3L2309.1 2042M2182.9 1887.4L2319.4 2039.1M2193.2 1884.4L2329.7 2036.1M2203.5 1881.4L2340 2033.1M2213.8 1878.5L2350.3 2030.2M2224.1 1875.5L2360.6 2027.2M2234.4 1872.5L2370.9 2024.2M2244.7 1869.6L2381.2 2021.3M2255 1866.6L2391.5 2018.3M2265.3 1863.6L2401.9 2015.3M2275.6 1860.7L2412.2 2012.4M2286 1857.7L2422.5 2009.4M2296.3 1854.7L2432.8 2006.4M2306.6 1851.8L2443.1 2003.5M2316.9 1848.8L2453.4 2000.5M2327.2 1845.8L2463.7 1997.5M2337.5 1842.9L2474 1994.6M2347.8 1839.9L2484.3 1991.6M2358.1 1837L2494.6 1988.7M2368.4 1834L2504.9 1985.7M2378.7 1831L2515.2 1982.7M2389 1828.1L2525.6 1979.8M2399.3 1825.1L2535.9 1976.8M2409.7 1822.1L2546.2 1973.8M2420 1819.2L2556.5 1970.9" stroke="#bdbdbd" stroke-width="3.2"/>
<path d="M2104.8 1909.8L2241.3 2061.5M2115.1 1906.8L2251.6 2058.6M2125.4 1903.9L2261.9 2055.6M2135.7 1900.9L2272.2 2052.6M2146 1898L2282.5 2049.7M2156.3 1895L2292.8 2046.7M2166.6 1892L2303.1 2043.7M2176.9 1889.1L2313.4 2040.8M2187.2 1886.1L2323.7 2037.8M2197.5 1883.1L2334.1 2034.8M2207.8 1880.2L2344.4 2031.9M2218.2 1877.2L2354.7 2028.9M2228.5 1874.2L2365 2025.9M2238.8 1871.3L2375.3 2023M2249.1 1868.3L2385.6 2020M2259.4 1865.3L2395.9 2017M2269.7 1862.4L2406.2 2014.1M2280 1859.4L2416.5 2011.1M2290.3 1856.4L2426.8 2008.2M2300.6 1853.5L2437.1 2005.2M2310.9 1850.5L2447.5 2002.2M2321.2 1847.6L2457.8 1999.3M2331.5 1844.6L2468.1 1996.3M2341.9 1841.6L2478.4 1993.3M2352.2 1838.7L2488.7 1990.4M2362.5 1835.7L2499 1987.4M2372.8 1832.7L2509.3 1984.4M2383.1 1829.8L2519.6 1981.5M2393.4 1826.8L2529.9 1978.5M2403.7 1823.8L2540.2 1975.5M2414 1820.9L2550.5 1972.6M2424.3 1817.9L2560.8 1969.6" stroke="#f3f3f3" stroke-width="1.9"/>
<path d="M2097.8 1911.8L2234.3 2063.5M2103 1910.3L2239.5 2062M2108.1 1908.9L2244.6 2060.6M2113.3 1907.4L2249.8 2059.1M2118.4 1905.9L2254.9 2057.6M2123.6 1904.4L2260.2 2056.1M2128.7 1902.9L2265.2 2054.6M2133.9 1901.4L2270.5 2053.1M2139 1900L2275.5 2051.7M2144.2 1898.5L2280.8 2050.2M2149.3 1897L2285.8 2048.7M2154.6 1895.5L2291.1 2047.2M2159.6 1894L2296.1 2045.7M2164.9 1892.5L2301.4 2044.2M2169.9 1891.1L2306.5 2042.8M2175.2 1889.6L2311.7 2041.3M2180.2 1888.1L2316.8 2039.8M2185.5 1886.6L2322 2038.3M2190.6 1885.1L2327.1 2036.8M2195.8 1883.6L2332.3 2035.3M2200.9 1882.2L2337.4 2033.9M2206.1 1880.7L2342.6 2032.4M2211.2 1879.2L2347.7 2030.9M2216.4 1877.7L2352.9 2029.4M2221.5 1876.2L2358 2028M2226.7 1874.7L2363.2 2026.4M2231.8 1873.3L2368.3 2025M2237 1871.8L2373.5 2023.5M2242.1 1870.3L2378.6 2022M2247.3 1868.8L2383.9 2020.5M2252.4 1867.4L2388.9 2019.1M2257.6 1865.8L2394.2 2017.5M2262.7 1864.4L2399.2 2016.1M2268 1862.9L2404.5 2014.6M2273 1861.4L2409.5 2013.1M2278.3 1859.9L2414.8 2011.6M2283.3 1858.5L2419.9 2010.2M2288.6 1857L2425.1 2008.7M2293.6 1855.5L2430.2 2007.2M2298.9 1854L2435.4 2005.7M2303.9 1852.5L2440.5 2004.2M2309.2 1851L2445.7 2002.7M2314.3 1849.6L2450.8 2001.3M2319.5 1848.1L2456 1999.8M2324.6 1846.6L2461.1 1998.3M2329.8 1845.1L2466.3 1996.8M2334.9 1843.6L2471.4 1995.3M2340.1 1842.1L2476.6 1993.8M2345.2 1840.7L2481.7 1992.4M2350.4 1839.2L2486.9 1990.9M2355.5 1837.7L2492 1989.4M2360.7 1836.2L2497.2 1987.9M2365.8 1834.7L2502.3 1986.4M2371 1833.2L2507.6 1984.9M2376.1 1831.8L2512.6 1983.5M2381.3 1830.3L2517.9 1982M2386.4 1828.8L2522.9 1980.5M2391.7 1827.3L2528.2 1979M2396.7 1825.8L2533.2 1977.5M2402 1824.3L2538.5 1976M2407 1822.9L2543.6 1974.6M2412.3 1821.4L2548.8 1973.1M2417.3 1819.9L2553.9 1971.6M2422.6 1818.4L2559.1 1970.1" stroke="#6f6f6f" stroke-width="1.15"/>
<polygon points="2087.2,1904.8 2422.2,1808.5 2429.1,1816.1 2094.1,1912.4" fill="#f1f1f1"/>
<polygon points="2087.2,1904.8 2094.1,1912.4 2094.1,1915.3 2087.2,1907.6" fill="#ececec" stroke-width="0.5"/>
<polygon points="2234.7,2074.3 2572.5,1977.2 2572.5,1981.9 2234.7,2079.1" fill="#eeeeee"/>
<polygon points="2234.7,2074.3 2572.5,1977.2 2568.4,1975.8 2230.5,2073" fill="#8f8f8f" stroke-width="0.5"/>
<polygon points="2226,2101.4 2226,2214.7 2230.2,2214.7 2230.2,2101.4" fill="#f4f4f4"/>
<polygon points="2262.4,2063.1 2226.7,2100.1 2229.5,2102.7 2265.2,2065.7" fill="#f4f4f4"/>
<polygon points="2227.5,2211.6 2215.9,2214.9 2217.1,2219.2 2228.7,2215.8" fill="#f4f4f4"/>
<circle cx="2228.1" cy="2101.4" r="2.6" fill="#f4f4f4"/>
<circle cx="2263.8" cy="2064.4" r="2.6" fill="#f4f4f4"/>
<circle cx="2228.1" cy="2213.7" r="2.6" fill="#f4f4f4"/>
<polygon points="2499.5,2022.7 2499.5,2136 2503.7,2136 2503.7,2022.7" fill="#f4f4f4"/>
<polygon points="2535.9,1984.4 2500.2,2021.4 2503,2024 2538.7,1987.1" fill="#f4f4f4"/>
<polygon points="2502.2,2137.2 2516.8,2133 2515.6,2128.8 2501,2132.9" fill="#f4f4f4"/>
<circle cx="2501.6" cy="2022.7" r="2.6" fill="#f4f4f4"/>
<circle cx="2537.3" cy="1985.8" r="2.6" fill="#f4f4f4"/>
<circle cx="2501.6" cy="2135" r="2.6" fill="#f4f4f4"/>
<path d="M1974.1 1973.5L2010.3 2033.8M1976.3 1972.9L2012.5 2033.2" stroke-width="0.6"/>
<polygon points="2013.1,2145.1 2004.4,2147.6 2005.6,2151.8 2014.3,2149.3" fill="#f4f4f4"/>
<polygon points="2249.4,2228.4 2352.3,2198.8 2321.7,2188.9 2218.8,2218.5" fill="#ececec"/>
<polygon points="2249.4,2238.9 2218.8,2229 2218.8,2218.5 2249.4,2228.4" fill="#ececec"/>
<polygon points="2249.4,2238.9 2352.3,2209.3 2352.3,2198.8 2249.4,2228.4" fill="#f7f7f7"/>
<path d="M2247.3 2227.3L2348.8 2198.1M2244.3 2226.3L2345.7 2197.1M2241.2 2225.3L2342.6 2196.1M2238.1 2224.3L2339.5 2195.1M2235 2223.3L2336.5 2194.1" stroke="#5f5f5f" stroke-width="0.9"/>
<polygon points="2251.5,2208.1 2334.1,2184.3 2321.7,2180.3 2239.2,2204.1" fill="#ececec"/>
<polygon points="2251.5,2216.7 2239.2,2212.6 2239.2,2204.1 2251.5,2208.1" fill="#ececec"/>
<polygon points="2251.5,2216.7 2334.1,2192.9 2334.1,2184.3 2251.5,2208.1" fill="#f7f7f7"/>
<path d="M2249.5 2207L2330.6 2183.7M2246.4 2206L2327.5 2182.7M2243.3 2205L2324.5 2181.7" stroke="#5f5f5f" stroke-width="0.9"/></g></svg>
<span id="s0" class="t" style="left:1306.7px;top:225.1px;letter-spacing:1.353px">Yèe / PONDASI</span>
<span id="s1" class="b" style="left:1186.4px;top:279.3px;letter-spacing:0.948px">Pembuatan Pondasi Umpak untuk struktur</span>
<span id="s2" class="b" style="left:1222.7px;top:318.4px;letter-spacing:0.782px">utama bangunan rumah Tinggal dan</span>
<span id="s3" class="b" style="left:1193.8px;top:357.1px;letter-spacing:0.584px">Pondasi <b><i>Footplate</i></b>, lalu sloof untuk kamar</span>
<span id="s4" class="b" style="left:1385.7px;top:395.9px;letter-spacing:1.311px">mandi</span>
<span id="s5" class="t" style="left:1250.4px;top:817.1px;letter-spacing:1.260px">Tamèh / TIANG KOLOM</span>
<span id="s6" class="b" style="left:1186.9px;top:871.8px;letter-spacing:0.423px">Penggunaan Kayu bekas sisa bencana atau</span>
<span id="s7" class="b" style="left:1216.5px;top:910.6px;letter-spacing:0.683px">pemanfaatan kayu bekas, merupakan</span>
<span id="s8" class="b" style="left:1249.4px;top:949.6px;letter-spacing:0.791px">konsep utama Rumoh Pulih ini.</span>
<span id="s9" class="t" style="left:1184.0px;top:1358.1px;letter-spacing:0.807px">Krangka Bubông / RANGKA ATAP</span>
<span id="s10" class="b" style="left:1193.8px;top:1413.0px;letter-spacing:0.618px">Kombinasi Struktur rangka atap kayu, dan</span>
<span id="s11" class="b" style="left:1209.9px;top:1451.8px;letter-spacing:0.963px">beton untuk menunjang kebutuhan Air</span>
<span id="s12" class="b" style="left:1190.6px;top:1490.8px;letter-spacing:0.445px">Bersih pasca bencana dengan Tangki Air di</span>
<span id="s13" class="b" style="left:1319.8px;top:1529.1px;letter-spacing:0.625px">atas kamar mandi.</span>
<span id="s14" class="t" style="left:1238.8px;top:1906.4px;letter-spacing:1.096px">Geuladak / LANTAI KAYU</span>
<span id="s15" class="b" style="left:1209.1px;top:1960.6px;letter-spacing:0.756px">Sedikit meninggikan Lantai Utama dari</span>
<span id="s16" class="b" style="left:1205.4px;top:1999.6px;letter-spacing:0.936px">tanah membantu menekan suhu panas</span>
<span id="s17" class="b" style="left:1205.4px;top:2038.4px;letter-spacing:0.575px">dalam rumah ketika panas di siang hari.</span>
<span id="s18" class="t" style="left:2822.9px;top:225.1px;letter-spacing:0.977px">Bubông / LAPISAN ATAP</span>
<span id="s19" class="b" style="left:2816.7px;top:280.0px;letter-spacing:0.700px">Memberikan Proteksi dan Struktur</span>
<span id="s20" class="b" style="left:2809.8px;top:319.1px;letter-spacing:0.815px">Tambahan dengan papan Multiplek</span>
<span id="s21" class="b" style="left:2793.6px;top:358.3px;letter-spacing:0.908px">mampun menstabilkan suhu ruangan.</span>
<span id="s22" class="t" style="left:2814.4px;top:818.1px;letter-spacing:0.917px">Bubông / MATERIAL ATAP</span>
<span id="s23" class="b" style="left:2782.6px;top:871.9px;letter-spacing:0.841px">Memilih atap spandek pasir hitam untuk</span>
<span id="s24" class="b" style="left:2766.7px;top:910.3px;letter-spacing:0.730px">mempercepat sistem pekerjaan finish pada</span>
<span id="s25" class="b" style="left:2973.2px;top:949.4px;letter-spacing:0.245px">Atap.</span>
<span id="s26" class="t" style="left:2791.3px;top:1358.8px;letter-spacing:0.888px">Peulumpông Ie / TALANG AIR</span>
<span id="s27" class="b" style="left:2809.8px;top:1412.8px;letter-spacing:0.690px">Hal ini bagian paling penting dalam</span>
<span id="s28" class="b" style="left:2789.0px;top:1451.4px;letter-spacing:0.873px">element bangunan membuat talang air</span>
<span id="s29" class="b" style="left:2768.3px;top:1490.6px;letter-spacing:0.584px">yang dapat mengalirkan air hujan ke depan</span>
<span id="s30" class="b" style="left:2826.6px;top:1529.2px;letter-spacing:0.415px">dan belakang, lalu sebagian bisa</span>
<span id="s31" class="b" style="left:2777.5px;top:1568.1px;letter-spacing:1.032px">dimanfaatkan untuk menyiram tanaman.</span>
<span id="s32" class="t" style="left:2756.8px;top:1906.5px;letter-spacing:1.239px">Dindéng Papan / DINDING UTAMA</span>
<span id="s33" class="b" style="left:2805.2px;top:1960.0px;letter-spacing:0.644px">Dinding bagian bawah kita tekankan</span>
<span id="s34" class="b" style="left:2766.7px;top:1999.1px;letter-spacing:0.430px">menggunakan GRC dan rangka baja ringan,</span>
<span id="s35" class="b" style="left:2832.8px;top:2038.3px;letter-spacing:0.609px">sedangkan dinding bagian atas</span>
<span id="s36" class="b" style="left:2788.4px;top:2077.4px;letter-spacing:0.529px">menggunakan papan kayu bekas pasca</span>
<span id="s37" class="b" style="left:2850.5px;top:2116.5px;letter-spacing:0.486px">bencana yang sudah diolah.</span></body></html>
